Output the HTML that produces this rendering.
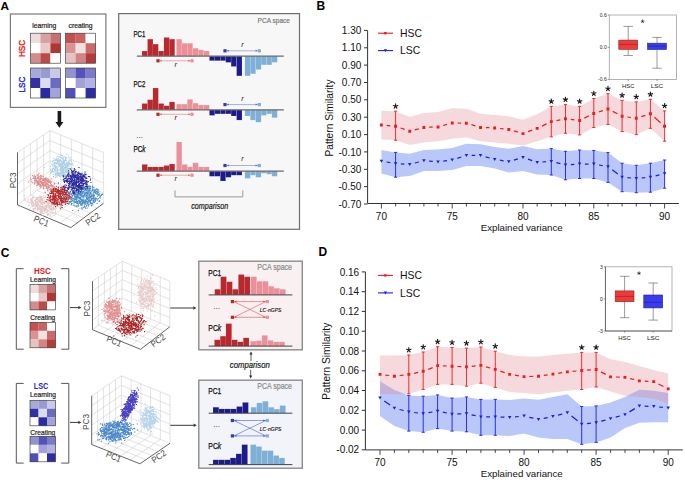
<!DOCTYPE html>
<html><head><meta charset="utf-8"><style>
html,body{margin:0;padding:0;background:#fff;}
svg{display:block;}
text{font-family:"Liberation Sans", sans-serif;}
</style></head><body>
<svg width="685" height="481" viewBox="0 0 685 481">
<rect width="685" height="481" fill="#fff"/>
<text x="0.6" y="9.6" font-size="11.8" fill="#000" text-anchor="start" font-weight="bold" >A</text>
<text x="316.6" y="9.9" font-size="12" fill="#000" text-anchor="start" font-weight="bold" >B</text>
<text x="0.8" y="257" font-size="12" fill="#000" text-anchor="start" font-weight="bold" >C</text>
<text x="318.5" y="256.2" font-size="12" fill="#000" text-anchor="start" font-weight="bold" >D</text>
<rect x="10.4" y="14" width="95.5" height="93.4" fill="#fff" stroke="#7a7a7a" stroke-width="1.2" />
<text x="44.2" y="28.4" font-size="7.2" fill="#1a1a1a" text-anchor="middle" stroke="#1a1a1a" stroke-width="0.2" textLength="24" lengthAdjust="spacingAndGlyphs" >learning</text>
<text x="80.6" y="28.4" font-size="7.2" fill="#1a1a1a" text-anchor="middle" stroke="#1a1a1a" stroke-width="0.2" textLength="24" lengthAdjust="spacingAndGlyphs" >creating</text>
<rect x="30.4" y="33.2" width="10.1" height="10.1" fill="#efdcdc" stroke="none" stroke-width="1" />
<rect x="40.4" y="33.2" width="10.1" height="10.1" fill="#d9a2a2" stroke="none" stroke-width="1" />
<rect x="50.4" y="33.2" width="10.1" height="10.1" fill="#c77272" stroke="none" stroke-width="1" />
<rect x="30.4" y="43.2" width="10.1" height="10.1" fill="#ffffff" stroke="none" stroke-width="1" />
<rect x="40.4" y="43.2" width="10.1" height="10.1" fill="#e8c9c9" stroke="none" stroke-width="1" />
<rect x="50.4" y="43.2" width="10.1" height="10.1" fill="#b03636" stroke="none" stroke-width="1" />
<rect x="30.4" y="53.2" width="10.1" height="10.1" fill="#d38c8c" stroke="none" stroke-width="1" />
<rect x="40.4" y="53.2" width="10.1" height="10.1" fill="#bb4a4a" stroke="none" stroke-width="1" />
<rect x="50.4" y="53.2" width="10.1" height="10.1" fill="#ffffff" stroke="none" stroke-width="1" />
<rect x="30.4" y="33.2" width="30" height="30" fill="none" stroke="#3a3a3a" stroke-width="0.65" />
<rect x="65.6" y="33.2" width="10.1" height="10.1" fill="#c25252" stroke="none" stroke-width="1" />
<rect x="75.6" y="33.2" width="10.1" height="10.1" fill="#c76363" stroke="none" stroke-width="1" />
<rect x="85.6" y="33.2" width="10.1" height="10.1" fill="#ffffff" stroke="none" stroke-width="1" />
<rect x="65.6" y="43.2" width="10.1" height="10.1" fill="#d89393" stroke="none" stroke-width="1" />
<rect x="75.6" y="43.2" width="10.1" height="10.1" fill="#f1e2e2" stroke="none" stroke-width="1" />
<rect x="85.6" y="43.2" width="10.1" height="10.1" fill="#c96b6b" stroke="none" stroke-width="1" />
<rect x="65.6" y="53.2" width="10.1" height="10.1" fill="#e7c2c2" stroke="none" stroke-width="1" />
<rect x="75.6" y="53.2" width="10.1" height="10.1" fill="#d28383" stroke="none" stroke-width="1" />
<rect x="85.6" y="53.2" width="10.1" height="10.1" fill="#b13c3c" stroke="none" stroke-width="1" />
<rect x="65.6" y="33.2" width="30" height="30" fill="none" stroke="#3a3a3a" stroke-width="0.65" />
<rect x="30.4" y="68" width="10.1" height="10.1" fill="#a9a9d9" stroke="none" stroke-width="1" />
<rect x="40.4" y="68" width="10.1" height="10.1" fill="#9a9ad2" stroke="none" stroke-width="1" />
<rect x="50.4" y="68" width="10.1" height="10.1" fill="#c9c9ea" stroke="none" stroke-width="1" />
<rect x="30.4" y="78" width="10.1" height="10.1" fill="#3131a2" stroke="none" stroke-width="1" />
<rect x="40.4" y="78" width="10.1" height="10.1" fill="#dcdcf1" stroke="none" stroke-width="1" />
<rect x="50.4" y="78" width="10.1" height="10.1" fill="#6a6ac2" stroke="none" stroke-width="1" />
<rect x="30.4" y="88" width="10.1" height="10.1" fill="#ffffff" stroke="none" stroke-width="1" />
<rect x="40.4" y="88" width="10.1" height="10.1" fill="#2b2ba1" stroke="none" stroke-width="1" />
<rect x="50.4" y="88" width="10.1" height="10.1" fill="#a3a3d8" stroke="none" stroke-width="1" />
<rect x="30.4" y="68" width="30" height="30" fill="none" stroke="#3a3a3a" stroke-width="0.65" />
<rect x="65.6" y="68" width="10.1" height="10.1" fill="#9292d1" stroke="none" stroke-width="1" />
<rect x="75.6" y="68" width="10.1" height="10.1" fill="#5252b9" stroke="none" stroke-width="1" />
<rect x="85.6" y="68" width="10.1" height="10.1" fill="#7a7ac9" stroke="none" stroke-width="1" />
<rect x="65.6" y="78" width="10.1" height="10.1" fill="#ffffff" stroke="none" stroke-width="1" />
<rect x="75.6" y="78" width="10.1" height="10.1" fill="#a2a2d9" stroke="none" stroke-width="1" />
<rect x="85.6" y="78" width="10.1" height="10.1" fill="#b3b3e1" stroke="none" stroke-width="1" />
<rect x="65.6" y="88" width="10.1" height="10.1" fill="#5050b8" stroke="none" stroke-width="1" />
<rect x="75.6" y="88" width="10.1" height="10.1" fill="#ffffff" stroke="none" stroke-width="1" />
<rect x="85.6" y="88" width="10.1" height="10.1" fill="#2d2da3" stroke="none" stroke-width="1" />
<rect x="65.6" y="68" width="30" height="30" fill="none" stroke="#3a3a3a" stroke-width="0.65" />
<text transform="translate(24.8,48.5) rotate(-90)" font-size="9.4" fill="#e41414" stroke="#e41414" stroke-width="0.35" text-anchor="middle" textLength="17" lengthAdjust="spacingAndGlyphs">HSC</text>
<text transform="translate(24.8,84.6) rotate(-90)" font-size="9.4" fill="#1a1ad8" stroke="#1a1ad8" stroke-width="0.35" text-anchor="middle" textLength="16" lengthAdjust="spacingAndGlyphs">LSC</text>
<path d="M57.6 111 L61.2 111 L61.2 122 L63.4 122 L59.4 127.8 L55.4 122 L57.6 122 Z" fill="#1a1a1a"/>
<line x1="24" y1="148" x2="24" y2="200.1" stroke="#c6c6c6" stroke-width="0.5" />
<line x1="17.5" y1="162.9" x2="50" y2="140.6" stroke="#c6c6c6" stroke-width="0.5" />
<line x1="30.5" y1="143.7" x2="30.5" y2="195.2" stroke="#c6c6c6" stroke-width="0.5" />
<line x1="17.5" y1="173.4" x2="50" y2="150.6" stroke="#c6c6c6" stroke-width="0.5" />
<line x1="37" y1="139.3" x2="37.1" y2="190.4" stroke="#c6c6c6" stroke-width="0.5" />
<line x1="17.5" y1="183.9" x2="50.1" y2="160.7" stroke="#c6c6c6" stroke-width="0.5" />
<line x1="43.5" y1="135" x2="43.6" y2="185.5" stroke="#c6c6c6" stroke-width="0.5" />
<line x1="17.5" y1="194.4" x2="50.1" y2="170.7" stroke="#c6c6c6" stroke-width="0.5" />
<line x1="60.7" y1="135" x2="60.8" y2="185.2" stroke="#c6c6c6" stroke-width="0.5" />
<line x1="50" y1="140.6" x2="103.4" y2="162.6" stroke="#c6c6c6" stroke-width="0.5" />
<line x1="71.4" y1="139.3" x2="71.4" y2="189.8" stroke="#c6c6c6" stroke-width="0.5" />
<line x1="50" y1="150.6" x2="103.4" y2="172.8" stroke="#c6c6c6" stroke-width="0.5" />
<line x1="82" y1="143.7" x2="82.1" y2="194.3" stroke="#c6c6c6" stroke-width="0.5" />
<line x1="50.1" y1="160.7" x2="103.4" y2="183" stroke="#c6c6c6" stroke-width="0.5" />
<line x1="92.7" y1="148" x2="92.7" y2="198.9" stroke="#c6c6c6" stroke-width="0.5" />
<line x1="50.1" y1="170.7" x2="103.4" y2="193.2" stroke="#c6c6c6" stroke-width="0.5" />
<line x1="24" y1="200.1" x2="77.3" y2="222.8" stroke="#c6c6c6" stroke-width="0.5" />
<line x1="60.8" y1="185.2" x2="28.2" y2="209.4" stroke="#c6c6c6" stroke-width="0.5" />
<line x1="30.5" y1="195.2" x2="83.8" y2="217.9" stroke="#c6c6c6" stroke-width="0.5" />
<line x1="71.4" y1="189.8" x2="38.8" y2="214" stroke="#c6c6c6" stroke-width="0.5" />
<line x1="37.1" y1="190.4" x2="90.4" y2="213.1" stroke="#c6c6c6" stroke-width="0.5" />
<line x1="82.1" y1="194.3" x2="49.5" y2="218.5" stroke="#c6c6c6" stroke-width="0.5" />
<line x1="43.6" y1="185.5" x2="96.9" y2="208.2" stroke="#c6c6c6" stroke-width="0.5" />
<line x1="92.7" y1="198.9" x2="60.1" y2="223.1" stroke="#c6c6c6" stroke-width="0.5" />
<line x1="17.5" y1="152.4" x2="50" y2="130.6" stroke="#cfcfcf" stroke-width="0.6" />
<line x1="50" y1="130.6" x2="103.4" y2="152.4" stroke="#cfcfcf" stroke-width="0.6" />
<line x1="50" y1="130.6" x2="50.1" y2="180.7" stroke="#cfcfcf" stroke-width="0.6" />
<line x1="50.1" y1="180.7" x2="17.5" y2="204.9" stroke="#cfcfcf" stroke-width="0.6" />
<line x1="50.1" y1="180.7" x2="103.4" y2="203.4" stroke="#cfcfcf" stroke-width="0.6" />
<line x1="103.4" y1="152.4" x2="103.4" y2="203.4" stroke="#cfcfcf" stroke-width="0.6" />
<line x1="17.5" y1="152.4" x2="17.5" y2="204.9" stroke="#555" stroke-width="0.9" />
<line x1="17.5" y1="204.9" x2="70.8" y2="227.6" stroke="#555" stroke-width="0.9" />
<line x1="70.8" y1="227.6" x2="103.4" y2="203.4" stroke="#555" stroke-width="0.9" />
<path d="M41.1 208.2h1.1v1.1h-1.1zM41.7 206.7h1.1v1.1h-1.1zM45.7 206.9h1.1v1.1h-1.1zM39.7 209.7h1.1v1.1h-1.1zM44.1 206.4h1.1v1.1h-1.1zM46.5 211.6h1.1v1.1h-1.1zM39.2 200.3h1.1v1.1h-1.1zM40.7 212.7h1.1v1.1h-1.1zM35.1 202.5h1.1v1.1h-1.1zM35.3 198.5h1.1v1.1h-1.1zM46.6 205.7h1.1v1.1h-1.1zM40.5 202.6h1.1v1.1h-1.1zM45.9 202.3h1.1v1.1h-1.1zM27.4 201.5h1.1v1.1h-1.1zM54.6 212.5h1.1v1.1h-1.1zM41.0 209.7h1.1v1.1h-1.1zM44.6 210.4h1.1v1.1h-1.1zM28.8 205.0h1.1v1.1h-1.1zM50.9 205.2h1.1v1.1h-1.1zM33.3 208.1h1.1v1.1h-1.1zM40.1 207.5h1.1v1.1h-1.1zM45.4 205.0h1.1v1.1h-1.1zM40.5 198.6h1.1v1.1h-1.1zM53.2 203.9h1.1v1.1h-1.1zM39.0 205.5h1.1v1.1h-1.1zM42.2 208.2h1.1v1.1h-1.1zM47.7 209.9h1.1v1.1h-1.1zM37.6 202.3h1.1v1.1h-1.1zM45.6 212.0h1.1v1.1h-1.1zM43.5 209.7h1.1v1.1h-1.1zM41.5 205.7h1.1v1.1h-1.1zM44.6 205.3h1.1v1.1h-1.1zM42.4 203.4h1.1v1.1h-1.1zM31.8 202.1h1.1v1.1h-1.1zM55.6 207.6h1.1v1.1h-1.1zM41.7 210.7h1.1v1.1h-1.1zM41.9 208.6h1.1v1.1h-1.1zM52.9 207.1h1.1v1.1h-1.1zM39.0 205.1h1.1v1.1h-1.1zM48.6 202.4h1.1v1.1h-1.1zM38.7 195.5h1.1v1.1h-1.1zM47.5 210.0h1.1v1.1h-1.1zM35.0 204.4h1.1v1.1h-1.1zM45.2 207.8h1.1v1.1h-1.1zM47.9 201.7h1.1v1.1h-1.1zM41.7 204.1h1.1v1.1h-1.1zM51.0 205.6h1.1v1.1h-1.1zM39.2 207.7h1.1v1.1h-1.1zM35.8 205.2h1.1v1.1h-1.1zM35.9 197.9h1.1v1.1h-1.1zM31.7 199.5h1.1v1.1h-1.1zM44.8 201.1h1.1v1.1h-1.1zM36.7 207.3h1.1v1.1h-1.1zM37.9 200.1h1.1v1.1h-1.1zM30.2 198.2h1.1v1.1h-1.1zM30.7 200.8h1.1v1.1h-1.1zM34.6 200.6h1.1v1.1h-1.1zM40.2 209.7h1.1v1.1h-1.1zM46.3 211.0h1.1v1.1h-1.1zM40.3 199.9h1.1v1.1h-1.1zM42.0 202.2h1.1v1.1h-1.1zM53.9 208.2h1.1v1.1h-1.1zM43.6 211.0h1.1v1.1h-1.1zM33.0 209.8h1.1v1.1h-1.1zM40.6 211.7h1.1v1.1h-1.1zM47.3 199.8h1.1v1.1h-1.1zM39.8 201.5h1.1v1.1h-1.1zM48.7 203.0h1.1v1.1h-1.1zM40.7 201.5h1.1v1.1h-1.1zM54.9 209.2h1.1v1.1h-1.1zM49.2 212.5h1.1v1.1h-1.1zM46.7 204.9h1.1v1.1h-1.1zM44.3 209.4h1.1v1.1h-1.1zM44.4 202.8h1.1v1.1h-1.1zM49.2 208.3h1.1v1.1h-1.1zM31.5 200.6h1.1v1.1h-1.1zM27.6 199.3h1.1v1.1h-1.1zM49.1 205.3h1.1v1.1h-1.1zM37.5 207.1h1.1v1.1h-1.1zM43.9 206.6h1.1v1.1h-1.1zM39.1 201.6h1.1v1.1h-1.1zM50.8 212.2h1.1v1.1h-1.1zM35.5 202.5h1.1v1.1h-1.1zM48.0 207.4h1.1v1.1h-1.1zM42.7 206.1h1.1v1.1h-1.1zM43.3 207.8h1.1v1.1h-1.1zM32.2 196.9h1.1v1.1h-1.1zM37.1 207.9h1.1v1.1h-1.1zM43.7 203.1h1.1v1.1h-1.1zM41.0 197.1h1.1v1.1h-1.1zM46.2 198.9h1.1v1.1h-1.1zM41.1 198.6h1.1v1.1h-1.1zM36.2 203.9h1.1v1.1h-1.1zM40.5 199.7h1.1v1.1h-1.1zM43.6 199.5h1.1v1.1h-1.1zM41.7 203.2h1.1v1.1h-1.1zM40.4 211.1h1.1v1.1h-1.1zM30.0 199.6h1.1v1.1h-1.1zM45.9 206.8h1.1v1.1h-1.1zM39.8 205.9h1.1v1.1h-1.1zM38.3 197.1h1.1v1.1h-1.1zM38.3 207.9h1.1v1.1h-1.1zM47.2 203.2h1.1v1.1h-1.1zM37.1 204.0h1.1v1.1h-1.1zM39.7 202.4h1.1v1.1h-1.1zM47.4 200.9h1.1v1.1h-1.1zM47.5 203.9h1.1v1.1h-1.1zM37.0 208.4h1.1v1.1h-1.1zM55.2 212.7h1.1v1.1h-1.1zM40.1 197.8h1.1v1.1h-1.1zM49.5 208.5h1.1v1.1h-1.1zM43.1 209.5h1.1v1.1h-1.1zM40.9 210.0h1.1v1.1h-1.1zM51.2 204.3h1.1v1.1h-1.1zM54.2 208.5h1.1v1.1h-1.1zM31.0 203.1h1.1v1.1h-1.1zM44.9 205.9h1.1v1.1h-1.1zM43.3 196.5h1.1v1.1h-1.1zM36.0 201.6h1.1v1.1h-1.1zM57.2 205.2h1.1v1.1h-1.1zM38.8 205.4h1.1v1.1h-1.1zM42.6 206.1h1.1v1.1h-1.1zM41.8 199.5h1.1v1.1h-1.1zM41.0 206.1h1.1v1.1h-1.1zM32.5 202.1h1.1v1.1h-1.1zM44.6 210.4h1.1v1.1h-1.1zM46.5 204.6h1.1v1.1h-1.1zM45.9 205.3h1.1v1.1h-1.1zM52.3 203.4h1.1v1.1h-1.1zM32.6 198.2h1.1v1.1h-1.1zM48.1 202.6h1.1v1.1h-1.1zM40.0 212.6h1.1v1.1h-1.1zM40.2 211.1h1.1v1.1h-1.1zM33.0 202.4h1.1v1.1h-1.1zM51.7 208.7h1.1v1.1h-1.1zM48.3 207.5h1.1v1.1h-1.1zM40.9 197.6h1.1v1.1h-1.1zM39.2 210.9h1.1v1.1h-1.1zM36.7 209.8h1.1v1.1h-1.1zM45.3 200.4h1.1v1.1h-1.1zM46.2 202.0h1.1v1.1h-1.1zM50.5 208.3h1.1v1.1h-1.1zM37.0 196.8h1.1v1.1h-1.1zM42.5 206.6h1.1v1.1h-1.1zM53.2 204.4h1.1v1.1h-1.1zM47.1 214.7h1.1v1.1h-1.1zM35.5 205.9h1.1v1.1h-1.1zM42.1 212.4h1.1v1.1h-1.1zM43.8 209.0h1.1v1.1h-1.1zM50.7 209.8h1.1v1.1h-1.1zM32.3 206.0h1.1v1.1h-1.1zM45.7 206.3h1.1v1.1h-1.1zM42.4 201.1h1.1v1.1h-1.1zM37.3 201.4h1.1v1.1h-1.1zM49.9 205.7h1.1v1.1h-1.1zM53.1 209.1h1.1v1.1h-1.1zM31.5 203.5h1.1v1.1h-1.1zM46.5 211.2h1.1v1.1h-1.1zM34.5 201.0h1.1v1.1h-1.1zM45.9 208.8h1.1v1.1h-1.1zM54.9 211.1h1.1v1.1h-1.1zM50.1 208.9h1.1v1.1h-1.1zM38.8 199.5h1.1v1.1h-1.1zM39.0 196.9h1.1v1.1h-1.1zM43.7 203.7h1.1v1.1h-1.1zM44.3 212.2h1.1v1.1h-1.1zM39.3 201.6h1.1v1.1h-1.1zM41.8 212.1h1.1v1.1h-1.1zM31.4 201.7h1.1v1.1h-1.1zM42.9 207.7h1.1v1.1h-1.1zM47.7 205.5h1.1v1.1h-1.1zM44.6 197.2h1.1v1.1h-1.1zM41.9 210.8h1.1v1.1h-1.1zM37.3 199.4h1.1v1.1h-1.1zM41.1 204.0h1.1v1.1h-1.1zM36.8 203.4h1.1v1.1h-1.1zM40.1 200.9h1.1v1.1h-1.1zM37.4 209.3h1.1v1.1h-1.1zM37.8 207.4h1.1v1.1h-1.1zM47.7 213.9h1.1v1.1h-1.1zM33.3 203.8h1.1v1.1h-1.1zM40.3 202.7h1.1v1.1h-1.1zM47.7 210.7h1.1v1.1h-1.1zM39.8 210.9h1.1v1.1h-1.1zM51.4 203.8h1.1v1.1h-1.1zM51.0 209.4h1.1v1.1h-1.1zM36.5 196.7h1.1v1.1h-1.1zM31.7 206.0h1.1v1.1h-1.1zM34.7 206.2h1.1v1.1h-1.1zM43.3 195.0h1.1v1.1h-1.1zM42.3 202.1h1.1v1.1h-1.1zM34.4 207.8h1.1v1.1h-1.1zM29.2 202.3h1.1v1.1h-1.1zM45.9 201.0h1.1v1.1h-1.1zM46.4 209.4h1.1v1.1h-1.1zM42.3 206.2h1.1v1.1h-1.1zM41.8 200.0h1.1v1.1h-1.1zM47.8 210.4h1.1v1.1h-1.1zM48.5 214.3h1.1v1.1h-1.1zM47.0 213.7h1.1v1.1h-1.1zM41.8 204.3h1.1v1.1h-1.1zM45.8 212.1h1.1v1.1h-1.1zM36.2 205.4h1.1v1.1h-1.1zM40.0 196.6h1.1v1.1h-1.1zM35.4 199.8h1.1v1.1h-1.1zM36.4 199.0h1.1v1.1h-1.1zM34.9 206.5h1.1v1.1h-1.1zM34.2 209.5h1.1v1.1h-1.1zM48.8 206.7h1.1v1.1h-1.1zM35.3 198.9h1.1v1.1h-1.1zM41.3 209.6h1.1v1.1h-1.1zM45.0 209.1h1.1v1.1h-1.1zM38.7 207.6h1.1v1.1h-1.1zM36.9 201.1h1.1v1.1h-1.1zM50.2 207.9h1.1v1.1h-1.1zM51.1 203.7h1.1v1.1h-1.1zM37.1 197.0h1.1v1.1h-1.1zM53.1 206.6h1.1v1.1h-1.1zM38.0 203.3h1.1v1.1h-1.1zM51.4 210.0h1.1v1.1h-1.1zM37.4 198.7h1.1v1.1h-1.1zM37.6 207.3h1.1v1.1h-1.1zM49.3 208.8h1.1v1.1h-1.1zM36.1 204.1h1.1v1.1h-1.1zM37.2 207.2h1.1v1.1h-1.1zM40.2 208.6h1.1v1.1h-1.1zM38.7 213.1h1.1v1.1h-1.1zM49.0 204.7h1.1v1.1h-1.1zM42.3 201.5h1.1v1.1h-1.1zM49.4 201.0h1.1v1.1h-1.1zM32.5 201.4h1.1v1.1h-1.1zM42.7 201.2h1.1v1.1h-1.1zM51.9 212.7h1.1v1.1h-1.1zM49.7 206.1h1.1v1.1h-1.1zM40.8 198.0h1.1v1.1h-1.1zM39.7 198.7h1.1v1.1h-1.1zM52.3 211.9h1.1v1.1h-1.1zM44.1 207.9h1.1v1.1h-1.1zM49.0 202.5h1.1v1.1h-1.1zM43.1 201.9h1.1v1.1h-1.1zM38.6 208.9h1.1v1.1h-1.1zM50.5 206.9h1.1v1.1h-1.1zM31.6 205.5h1.1v1.1h-1.1zM39.7 204.7h1.1v1.1h-1.1zM44.0 202.0h1.1v1.1h-1.1zM51.1 207.9h1.1v1.1h-1.1zM33.3 205.1h1.1v1.1h-1.1zM38.5 207.3h1.1v1.1h-1.1zM40.0 200.0h1.1v1.1h-1.1zM34.0 200.2h1.1v1.1h-1.1zM49.9 215.7h1.1v1.1h-1.1zM34.3 203.5h1.1v1.1h-1.1zM31.4 198.3h1.1v1.1h-1.1zM37.7 204.0h1.1v1.1h-1.1zM43.4 209.9h1.1v1.1h-1.1zM30.6 203.4h1.1v1.1h-1.1zM41.9 198.7h1.1v1.1h-1.1zM35.2 208.3h1.1v1.1h-1.1zM53.6 208.4h1.1v1.1h-1.1zM31.5 204.6h1.1v1.1h-1.1zM43.2 213.0h1.1v1.1h-1.1zM48.7 207.2h1.1v1.1h-1.1zM36.4 197.8h1.1v1.1h-1.1zM41.2 195.9h1.1v1.1h-1.1zM39.6 204.2h1.1v1.1h-1.1zM40.0 195.8h1.1v1.1h-1.1zM32.5 208.3h1.1v1.1h-1.1zM39.6 198.5h1.1v1.1h-1.1zM39.1 199.8h1.1v1.1h-1.1zM32.1 195.4h1.1v1.1h-1.1zM52.3 207.2h1.1v1.1h-1.1zM35.2 201.3h1.1v1.1h-1.1zM30.4 199.6h1.1v1.1h-1.1zM44.2 206.3h1.1v1.1h-1.1zM50.1 214.3h1.1v1.1h-1.1zM37.4 204.8h1.1v1.1h-1.1zM38.0 203.3h1.1v1.1h-1.1zM35.3 202.3h1.1v1.1h-1.1zM46.3 210.7h1.1v1.1h-1.1zM34.8 202.3h1.1v1.1h-1.1zM47.5 202.3h1.1v1.1h-1.1zM49.3 212.2h1.1v1.1h-1.1zM36.7 205.8h1.1v1.1h-1.1zM41.0 201.9h1.1v1.1h-1.1zM28.2 204.8h1.1v1.1h-1.1zM47.9 204.4h1.1v1.1h-1.1zM47.3 212.9h1.1v1.1h-1.1zM52.8 207.9h1.1v1.1h-1.1zM42.4 214.8h1.1v1.1h-1.1zM42.0 200.2h1.1v1.1h-1.1zM39.8 196.6h1.1v1.1h-1.1zM36.3 198.3h1.1v1.1h-1.1zM37.8 203.2h1.1v1.1h-1.1zM46.4 208.9h1.1v1.1h-1.1zM23.8 195.2h1.1v1.1h-1.1zM33.2 196.8h1.1v1.1h-1.1zM52.3 212.5h1.1v1.1h-1.1zM42.3 197.8h1.1v1.1h-1.1zM24.3 198.0h1.1v1.1h-1.1zM44.5 201.9h1.1v1.1h-1.1z" fill="#e3c5c5" opacity="1.0"/>
<path d="M39.8 183.5h1.1v1.1h-1.1zM36.8 184.4h1.1v1.1h-1.1zM33.3 176.6h1.1v1.1h-1.1zM37.5 181.1h1.1v1.1h-1.1zM49.9 185.7h1.1v1.1h-1.1zM44.6 182.1h1.1v1.1h-1.1zM37.5 174.1h1.1v1.1h-1.1zM37.5 175.3h1.1v1.1h-1.1zM41.1 177.8h1.1v1.1h-1.1zM50.1 184.9h1.1v1.1h-1.1zM47.7 179.8h1.1v1.1h-1.1zM34.9 178.1h1.1v1.1h-1.1zM51.0 185.3h1.1v1.1h-1.1zM47.5 179.8h1.1v1.1h-1.1zM51.4 185.5h1.1v1.1h-1.1zM42.4 183.2h1.1v1.1h-1.1zM45.8 182.6h1.1v1.1h-1.1zM42.7 179.0h1.1v1.1h-1.1zM45.6 177.3h1.1v1.1h-1.1zM39.2 176.2h1.1v1.1h-1.1zM50.0 181.8h1.1v1.1h-1.1zM48.1 187.2h1.1v1.1h-1.1zM38.4 179.4h1.1v1.1h-1.1zM39.4 179.4h1.1v1.1h-1.1zM40.8 175.5h1.1v1.1h-1.1zM49.9 181.2h1.1v1.1h-1.1zM38.3 172.8h1.1v1.1h-1.1zM44.0 179.0h1.1v1.1h-1.1zM38.3 182.1h1.1v1.1h-1.1zM39.9 181.4h1.1v1.1h-1.1zM53.1 176.1h1.1v1.1h-1.1zM39.7 177.5h1.1v1.1h-1.1zM45.4 180.2h1.1v1.1h-1.1zM43.3 188.1h1.1v1.1h-1.1zM40.0 178.6h1.1v1.1h-1.1zM47.3 177.8h1.1v1.1h-1.1zM43.7 185.6h1.1v1.1h-1.1zM34.7 179.7h1.1v1.1h-1.1zM39.8 177.7h1.1v1.1h-1.1zM42.7 182.9h1.1v1.1h-1.1zM36.6 174.6h1.1v1.1h-1.1zM42.0 180.2h1.1v1.1h-1.1zM33.8 177.9h1.1v1.1h-1.1zM45.2 177.6h1.1v1.1h-1.1zM45.1 185.4h1.1v1.1h-1.1zM48.9 181.0h1.1v1.1h-1.1zM39.4 177.9h1.1v1.1h-1.1zM35.1 175.7h1.1v1.1h-1.1zM39.7 181.1h1.1v1.1h-1.1zM51.0 184.3h1.1v1.1h-1.1zM43.9 179.5h1.1v1.1h-1.1zM46.0 180.2h1.1v1.1h-1.1zM41.3 177.6h1.1v1.1h-1.1zM38.1 182.5h1.1v1.1h-1.1zM44.9 184.8h1.1v1.1h-1.1zM42.7 185.1h1.1v1.1h-1.1zM49.5 180.3h1.1v1.1h-1.1zM50.1 182.5h1.1v1.1h-1.1zM47.5 180.4h1.1v1.1h-1.1zM51.7 188.7h1.1v1.1h-1.1zM39.3 186.0h1.1v1.1h-1.1zM37.3 183.6h1.1v1.1h-1.1zM51.7 190.5h1.1v1.1h-1.1zM37.1 180.7h1.1v1.1h-1.1zM53.9 186.3h1.1v1.1h-1.1zM42.4 183.4h1.1v1.1h-1.1zM51.5 185.7h1.1v1.1h-1.1zM43.4 179.1h1.1v1.1h-1.1zM43.3 187.9h1.1v1.1h-1.1zM44.2 180.4h1.1v1.1h-1.1zM35.3 177.6h1.1v1.1h-1.1zM49.4 180.8h1.1v1.1h-1.1zM27.9 181.4h1.1v1.1h-1.1zM47.7 179.1h1.1v1.1h-1.1zM40.3 183.6h1.1v1.1h-1.1zM31.6 181.9h1.1v1.1h-1.1zM48.9 186.8h1.1v1.1h-1.1zM45.4 179.9h1.1v1.1h-1.1zM47.6 182.1h1.1v1.1h-1.1zM52.4 186.7h1.1v1.1h-1.1zM40.4 185.6h1.1v1.1h-1.1zM47.4 183.8h1.1v1.1h-1.1zM49.8 187.9h1.1v1.1h-1.1zM36.3 179.9h1.1v1.1h-1.1zM47.5 188.1h1.1v1.1h-1.1zM45.1 179.7h1.1v1.1h-1.1zM29.4 180.4h1.1v1.1h-1.1zM43.3 179.4h1.1v1.1h-1.1zM53.9 183.6h1.1v1.1h-1.1zM50.3 185.7h1.1v1.1h-1.1zM33.9 180.2h1.1v1.1h-1.1zM37.9 181.2h1.1v1.1h-1.1zM54.0 182.8h1.1v1.1h-1.1zM49.8 184.7h1.1v1.1h-1.1zM33.1 177.5h1.1v1.1h-1.1zM31.2 180.7h1.1v1.1h-1.1zM45.7 185.9h1.1v1.1h-1.1zM35.5 180.0h1.1v1.1h-1.1zM39.3 184.3h1.1v1.1h-1.1zM31.9 175.0h1.1v1.1h-1.1zM41.2 185.3h1.1v1.1h-1.1zM36.7 181.0h1.1v1.1h-1.1zM35.3 181.7h1.1v1.1h-1.1zM37.9 178.1h1.1v1.1h-1.1zM45.5 179.6h1.1v1.1h-1.1zM48.0 184.6h1.1v1.1h-1.1zM42.7 188.1h1.1v1.1h-1.1zM38.7 182.3h1.1v1.1h-1.1zM34.5 176.5h1.1v1.1h-1.1zM48.1 180.4h1.1v1.1h-1.1zM46.7 183.4h1.1v1.1h-1.1zM39.3 177.5h1.1v1.1h-1.1zM36.6 181.0h1.1v1.1h-1.1zM33.7 182.4h1.1v1.1h-1.1zM48.2 181.3h1.1v1.1h-1.1zM49.1 189.0h1.1v1.1h-1.1zM37.9 184.3h1.1v1.1h-1.1zM30.8 178.9h1.1v1.1h-1.1zM53.5 183.4h1.1v1.1h-1.1zM32.4 178.0h1.1v1.1h-1.1zM34.2 182.7h1.1v1.1h-1.1zM34.0 179.7h1.1v1.1h-1.1zM46.3 179.6h1.1v1.1h-1.1zM37.6 183.9h1.1v1.1h-1.1zM54.4 187.0h1.1v1.1h-1.1zM42.5 175.8h1.1v1.1h-1.1zM43.4 184.5h1.1v1.1h-1.1zM39.9 187.4h1.1v1.1h-1.1zM42.1 179.5h1.1v1.1h-1.1zM44.1 180.6h1.1v1.1h-1.1zM39.8 177.8h1.1v1.1h-1.1zM37.7 175.6h1.1v1.1h-1.1zM45.4 184.6h1.1v1.1h-1.1zM42.6 184.1h1.1v1.1h-1.1zM41.7 182.9h1.1v1.1h-1.1zM42.0 184.6h1.1v1.1h-1.1zM37.3 177.9h1.1v1.1h-1.1zM46.9 181.0h1.1v1.1h-1.1zM43.3 182.3h1.1v1.1h-1.1zM47.9 178.9h1.1v1.1h-1.1zM29.9 177.6h1.1v1.1h-1.1zM39.1 183.5h1.1v1.1h-1.1zM42.8 186.7h1.1v1.1h-1.1zM37.4 183.5h1.1v1.1h-1.1zM41.1 180.9h1.1v1.1h-1.1zM41.7 184.0h1.1v1.1h-1.1zM40.4 177.2h1.1v1.1h-1.1zM36.0 184.9h1.1v1.1h-1.1zM44.7 179.1h1.1v1.1h-1.1zM45.9 182.2h1.1v1.1h-1.1zM37.7 182.5h1.1v1.1h-1.1zM37.1 177.0h1.1v1.1h-1.1zM44.2 180.5h1.1v1.1h-1.1zM43.3 177.8h1.1v1.1h-1.1zM41.0 181.3h1.1v1.1h-1.1zM39.6 179.6h1.1v1.1h-1.1zM41.2 183.0h1.1v1.1h-1.1zM45.5 178.6h1.1v1.1h-1.1zM50.6 181.3h1.1v1.1h-1.1zM37.9 176.1h1.1v1.1h-1.1zM39.9 178.9h1.1v1.1h-1.1zM43.6 182.1h1.1v1.1h-1.1zM44.6 183.5h1.1v1.1h-1.1zM40.2 180.8h1.1v1.1h-1.1zM47.5 180.9h1.1v1.1h-1.1zM41.1 175.3h1.1v1.1h-1.1zM52.3 187.2h1.1v1.1h-1.1zM51.2 187.5h1.1v1.1h-1.1zM49.5 184.9h1.1v1.1h-1.1zM37.1 182.2h1.1v1.1h-1.1zM39.9 174.8h1.1v1.1h-1.1zM45.8 184.3h1.1v1.1h-1.1zM50.2 189.1h1.1v1.1h-1.1zM32.2 175.4h1.1v1.1h-1.1zM47.9 185.9h1.1v1.1h-1.1zM46.6 187.7h1.1v1.1h-1.1zM34.7 178.7h1.1v1.1h-1.1zM43.6 182.2h1.1v1.1h-1.1zM33.7 175.2h1.1v1.1h-1.1zM34.3 180.0h1.1v1.1h-1.1zM38.3 182.6h1.1v1.1h-1.1zM40.5 178.0h1.1v1.1h-1.1zM44.8 184.5h1.1v1.1h-1.1zM45.5 180.8h1.1v1.1h-1.1zM47.5 187.4h1.1v1.1h-1.1zM49.8 183.0h1.1v1.1h-1.1zM40.6 178.5h1.1v1.1h-1.1zM46.3 179.1h1.1v1.1h-1.1zM51.1 178.3h1.1v1.1h-1.1zM44.4 178.1h1.1v1.1h-1.1zM37.1 181.9h1.1v1.1h-1.1zM51.3 184.7h1.1v1.1h-1.1zM50.8 181.6h1.1v1.1h-1.1zM38.4 183.6h1.1v1.1h-1.1zM34.2 180.5h1.1v1.1h-1.1zM47.3 189.0h1.1v1.1h-1.1zM35.3 179.9h1.1v1.1h-1.1zM40.3 181.9h1.1v1.1h-1.1zM42.9 184.1h1.1v1.1h-1.1zM37.9 182.0h1.1v1.1h-1.1zM54.1 182.8h1.1v1.1h-1.1zM42.9 179.8h1.1v1.1h-1.1zM33.7 174.7h1.1v1.1h-1.1zM34.3 182.3h1.1v1.1h-1.1zM47.3 185.4h1.1v1.1h-1.1zM36.0 178.5h1.1v1.1h-1.1zM50.4 181.3h1.1v1.1h-1.1zM45.4 185.2h1.1v1.1h-1.1zM39.7 184.7h1.1v1.1h-1.1zM43.9 184.7h1.1v1.1h-1.1zM38.3 180.4h1.1v1.1h-1.1zM41.6 179.7h1.1v1.1h-1.1zM51.9 185.6h1.1v1.1h-1.1zM49.2 185.4h1.1v1.1h-1.1zM38.9 184.2h1.1v1.1h-1.1zM40.5 175.8h1.1v1.1h-1.1zM46.1 185.8h1.1v1.1h-1.1zM45.3 178.2h1.1v1.1h-1.1zM44.2 181.7h1.1v1.1h-1.1zM43.9 179.4h1.1v1.1h-1.1zM42.9 185.1h1.1v1.1h-1.1zM46.3 184.5h1.1v1.1h-1.1zM40.5 187.2h1.1v1.1h-1.1zM35.0 177.2h1.1v1.1h-1.1zM42.4 182.0h1.1v1.1h-1.1zM46.1 182.6h1.1v1.1h-1.1zM35.0 180.2h1.1v1.1h-1.1zM40.8 182.0h1.1v1.1h-1.1zM39.3 180.5h1.1v1.1h-1.1zM39.9 178.8h1.1v1.1h-1.1zM42.1 182.0h1.1v1.1h-1.1zM45.5 187.8h1.1v1.1h-1.1zM46.2 186.6h1.1v1.1h-1.1zM52.3 185.1h1.1v1.1h-1.1zM37.0 177.6h1.1v1.1h-1.1zM49.2 181.8h1.1v1.1h-1.1zM41.7 178.1h1.1v1.1h-1.1zM36.7 182.8h1.1v1.1h-1.1zM36.0 180.3h1.1v1.1h-1.1zM40.9 181.6h1.1v1.1h-1.1zM39.2 179.2h1.1v1.1h-1.1zM39.4 184.6h1.1v1.1h-1.1zM50.7 183.9h1.1v1.1h-1.1zM45.0 183.2h1.1v1.1h-1.1zM47.9 186.2h1.1v1.1h-1.1zM46.4 182.7h1.1v1.1h-1.1zM40.4 181.1h1.1v1.1h-1.1zM43.2 186.3h1.1v1.1h-1.1zM48.4 179.2h1.1v1.1h-1.1zM34.9 176.8h1.1v1.1h-1.1zM34.2 183.6h1.1v1.1h-1.1zM43.1 183.4h1.1v1.1h-1.1zM37.1 184.1h1.1v1.1h-1.1zM52.7 186.1h1.1v1.1h-1.1zM37.9 176.7h1.1v1.1h-1.1zM47.8 186.7h1.1v1.1h-1.1zM34.3 175.9h1.1v1.1h-1.1zM36.5 181.8h1.1v1.1h-1.1zM46.6 179.7h1.1v1.1h-1.1zM39.9 184.8h1.1v1.1h-1.1z" fill="#de8e8e" opacity="1.0"/>
<path d="M50.0 172.3h1.1v1.1h-1.1zM63.0 175.6h1.1v1.1h-1.1zM68.9 173.4h1.1v1.1h-1.1zM58.3 165.9h1.1v1.1h-1.1zM62.1 173.4h1.1v1.1h-1.1zM54.0 165.2h1.1v1.1h-1.1zM56.9 174.7h1.1v1.1h-1.1zM59.4 162.9h1.1v1.1h-1.1zM52.5 171.1h1.1v1.1h-1.1zM61.1 173.2h1.1v1.1h-1.1zM62.6 159.1h1.1v1.1h-1.1zM58.5 164.3h1.1v1.1h-1.1zM60.1 159.9h1.1v1.1h-1.1zM62.4 163.4h1.1v1.1h-1.1zM54.4 161.5h1.1v1.1h-1.1zM66.3 153.7h1.1v1.1h-1.1zM60.8 168.4h1.1v1.1h-1.1zM65.0 165.6h1.1v1.1h-1.1zM62.2 162.9h1.1v1.1h-1.1zM69.6 156.9h1.1v1.1h-1.1zM66.8 169.0h1.1v1.1h-1.1zM71.0 167.6h1.1v1.1h-1.1zM58.6 169.7h1.1v1.1h-1.1zM67.1 174.8h1.1v1.1h-1.1zM52.9 171.7h1.1v1.1h-1.1zM67.6 162.6h1.1v1.1h-1.1zM61.0 169.1h1.1v1.1h-1.1zM59.1 166.0h1.1v1.1h-1.1zM55.4 162.5h1.1v1.1h-1.1zM58.3 170.0h1.1v1.1h-1.1zM56.6 171.1h1.1v1.1h-1.1zM52.6 160.0h1.1v1.1h-1.1zM62.9 168.8h1.1v1.1h-1.1zM61.7 168.1h1.1v1.1h-1.1zM58.7 165.4h1.1v1.1h-1.1zM66.4 161.4h1.1v1.1h-1.1zM55.0 159.1h1.1v1.1h-1.1zM52.6 168.0h1.1v1.1h-1.1zM56.3 169.6h1.1v1.1h-1.1zM51.8 168.6h1.1v1.1h-1.1zM64.7 174.0h1.1v1.1h-1.1zM63.6 160.8h1.1v1.1h-1.1zM55.9 159.7h1.1v1.1h-1.1zM55.3 173.8h1.1v1.1h-1.1zM61.7 168.1h1.1v1.1h-1.1zM60.9 167.8h1.1v1.1h-1.1zM54.8 168.1h1.1v1.1h-1.1zM58.7 163.3h1.1v1.1h-1.1zM56.9 172.5h1.1v1.1h-1.1zM63.9 175.7h1.1v1.1h-1.1zM63.2 163.5h1.1v1.1h-1.1zM53.2 171.4h1.1v1.1h-1.1zM55.1 170.8h1.1v1.1h-1.1zM54.2 161.5h1.1v1.1h-1.1zM64.3 163.4h1.1v1.1h-1.1zM58.3 160.4h1.1v1.1h-1.1zM54.4 165.5h1.1v1.1h-1.1zM56.6 161.8h1.1v1.1h-1.1zM50.1 168.6h1.1v1.1h-1.1zM64.1 160.1h1.1v1.1h-1.1zM58.1 159.5h1.1v1.1h-1.1zM62.1 170.1h1.1v1.1h-1.1zM60.7 154.7h1.1v1.1h-1.1zM63.2 166.6h1.1v1.1h-1.1zM63.6 160.5h1.1v1.1h-1.1zM70.3 168.9h1.1v1.1h-1.1zM58.9 176.0h1.1v1.1h-1.1zM67.1 165.4h1.1v1.1h-1.1zM59.4 174.2h1.1v1.1h-1.1zM54.1 166.4h1.1v1.1h-1.1zM66.6 162.4h1.1v1.1h-1.1zM56.4 163.4h1.1v1.1h-1.1zM55.1 159.6h1.1v1.1h-1.1zM50.1 170.5h1.1v1.1h-1.1zM64.3 168.6h1.1v1.1h-1.1zM51.9 161.4h1.1v1.1h-1.1zM62.1 174.5h1.1v1.1h-1.1zM62.7 165.8h1.1v1.1h-1.1zM56.5 169.6h1.1v1.1h-1.1zM65.4 169.8h1.1v1.1h-1.1zM58.8 173.6h1.1v1.1h-1.1zM66.7 173.9h1.1v1.1h-1.1zM65.5 158.1h1.1v1.1h-1.1zM59.7 164.5h1.1v1.1h-1.1zM62.6 162.8h1.1v1.1h-1.1zM69.5 172.7h1.1v1.1h-1.1zM55.6 172.7h1.1v1.1h-1.1zM64.8 169.5h1.1v1.1h-1.1zM66.6 166.8h1.1v1.1h-1.1zM64.3 179.3h1.1v1.1h-1.1zM68.5 164.2h1.1v1.1h-1.1zM60.6 163.5h1.1v1.1h-1.1zM58.8 163.6h1.1v1.1h-1.1zM61.3 168.9h1.1v1.1h-1.1zM64.1 174.3h1.1v1.1h-1.1zM61.4 173.4h1.1v1.1h-1.1zM68.5 164.2h1.1v1.1h-1.1zM67.4 173.0h1.1v1.1h-1.1zM63.8 174.0h1.1v1.1h-1.1zM57.7 173.1h1.1v1.1h-1.1zM43.9 167.1h1.1v1.1h-1.1zM53.9 162.5h1.1v1.1h-1.1zM59.4 168.5h1.1v1.1h-1.1zM63.4 167.6h1.1v1.1h-1.1zM62.8 161.3h1.1v1.1h-1.1zM61.8 163.8h1.1v1.1h-1.1zM56.5 174.3h1.1v1.1h-1.1zM67.8 165.4h1.1v1.1h-1.1zM59.7 159.8h1.1v1.1h-1.1zM68.2 170.4h1.1v1.1h-1.1zM63.4 156.7h1.1v1.1h-1.1zM58.7 156.8h1.1v1.1h-1.1zM61.1 165.0h1.1v1.1h-1.1zM70.7 167.8h1.1v1.1h-1.1zM70.9 160.7h1.1v1.1h-1.1zM56.5 160.0h1.1v1.1h-1.1zM59.0 175.9h1.1v1.1h-1.1zM69.9 164.2h1.1v1.1h-1.1zM59.3 173.5h1.1v1.1h-1.1zM58.5 156.3h1.1v1.1h-1.1zM56.6 158.7h1.1v1.1h-1.1zM53.3 157.8h1.1v1.1h-1.1zM62.0 166.5h1.1v1.1h-1.1zM61.9 161.6h1.1v1.1h-1.1zM61.2 171.7h1.1v1.1h-1.1zM62.9 170.6h1.1v1.1h-1.1zM65.2 164.7h1.1v1.1h-1.1zM62.2 172.6h1.1v1.1h-1.1zM65.1 163.4h1.1v1.1h-1.1zM68.7 168.2h1.1v1.1h-1.1zM66.8 173.0h1.1v1.1h-1.1zM64.5 163.8h1.1v1.1h-1.1zM68.7 160.0h1.1v1.1h-1.1zM55.6 166.2h1.1v1.1h-1.1zM54.5 174.6h1.1v1.1h-1.1zM53.9 162.3h1.1v1.1h-1.1zM67.4 169.5h1.1v1.1h-1.1zM61.1 157.3h1.1v1.1h-1.1zM60.1 169.6h1.1v1.1h-1.1zM53.4 159.7h1.1v1.1h-1.1zM57.7 174.9h1.1v1.1h-1.1zM67.8 164.4h1.1v1.1h-1.1zM68.6 166.1h1.1v1.1h-1.1zM52.8 163.7h1.1v1.1h-1.1zM52.1 165.0h1.1v1.1h-1.1zM56.9 172.2h1.1v1.1h-1.1zM66.1 165.6h1.1v1.1h-1.1zM58.2 174.6h1.1v1.1h-1.1zM55.1 177.0h1.1v1.1h-1.1zM53.0 168.2h1.1v1.1h-1.1zM63.4 173.0h1.1v1.1h-1.1zM62.9 160.8h1.1v1.1h-1.1zM59.3 174.0h1.1v1.1h-1.1zM65.6 160.0h1.1v1.1h-1.1zM61.2 166.9h1.1v1.1h-1.1zM52.9 174.0h1.1v1.1h-1.1zM68.7 163.7h1.1v1.1h-1.1zM66.2 165.9h1.1v1.1h-1.1zM56.6 170.0h1.1v1.1h-1.1zM56.3 159.4h1.1v1.1h-1.1zM54.1 168.6h1.1v1.1h-1.1zM56.8 168.6h1.1v1.1h-1.1zM63.0 161.7h1.1v1.1h-1.1zM69.3 159.2h1.1v1.1h-1.1zM62.8 162.2h1.1v1.1h-1.1zM61.2 168.3h1.1v1.1h-1.1zM60.0 167.2h1.1v1.1h-1.1zM65.8 162.9h1.1v1.1h-1.1zM61.6 168.6h1.1v1.1h-1.1zM67.1 168.9h1.1v1.1h-1.1zM61.4 163.0h1.1v1.1h-1.1zM57.8 172.3h1.1v1.1h-1.1zM68.5 160.1h1.1v1.1h-1.1zM69.9 169.2h1.1v1.1h-1.1zM57.6 159.4h1.1v1.1h-1.1zM63.8 171.8h1.1v1.1h-1.1zM55.6 175.7h1.1v1.1h-1.1zM52.0 169.8h1.1v1.1h-1.1zM64.2 175.5h1.1v1.1h-1.1zM54.4 165.2h1.1v1.1h-1.1zM63.1 173.8h1.1v1.1h-1.1zM69.5 163.4h1.1v1.1h-1.1zM60.9 165.6h1.1v1.1h-1.1zM57.0 168.8h1.1v1.1h-1.1zM58.1 171.9h1.1v1.1h-1.1zM63.9 161.4h1.1v1.1h-1.1zM64.7 158.7h1.1v1.1h-1.1zM54.2 169.8h1.1v1.1h-1.1zM60.4 167.3h1.1v1.1h-1.1zM56.2 158.9h1.1v1.1h-1.1zM54.8 173.1h1.1v1.1h-1.1zM65.8 174.5h1.1v1.1h-1.1zM62.6 156.9h1.1v1.1h-1.1zM55.2 174.2h1.1v1.1h-1.1zM61.7 172.2h1.1v1.1h-1.1zM56.0 165.7h1.1v1.1h-1.1zM58.3 161.9h1.1v1.1h-1.1zM65.9 166.8h1.1v1.1h-1.1zM60.6 175.1h1.1v1.1h-1.1zM67.5 168.1h1.1v1.1h-1.1zM62.9 170.8h1.1v1.1h-1.1zM63.9 164.6h1.1v1.1h-1.1zM64.1 167.0h1.1v1.1h-1.1zM57.8 158.0h1.1v1.1h-1.1zM65.4 171.0h1.1v1.1h-1.1zM61.0 164.7h1.1v1.1h-1.1zM67.7 172.3h1.1v1.1h-1.1zM62.8 161.1h1.1v1.1h-1.1zM56.0 162.8h1.1v1.1h-1.1zM62.0 176.1h1.1v1.1h-1.1zM62.7 159.9h1.1v1.1h-1.1zM56.6 167.9h1.1v1.1h-1.1zM68.2 171.0h1.1v1.1h-1.1zM58.9 172.9h1.1v1.1h-1.1zM71.6 167.6h1.1v1.1h-1.1zM53.5 164.2h1.1v1.1h-1.1zM56.7 155.7h1.1v1.1h-1.1zM68.0 155.5h1.1v1.1h-1.1zM61.4 165.1h1.1v1.1h-1.1zM60.6 173.1h1.1v1.1h-1.1zM54.8 169.2h1.1v1.1h-1.1zM65.7 160.0h1.1v1.1h-1.1zM62.7 165.1h1.1v1.1h-1.1zM59.4 172.6h1.1v1.1h-1.1zM57.1 168.6h1.1v1.1h-1.1zM57.4 174.2h1.1v1.1h-1.1zM53.7 163.3h1.1v1.1h-1.1zM57.9 159.5h1.1v1.1h-1.1zM60.8 161.2h1.1v1.1h-1.1zM62.8 170.1h1.1v1.1h-1.1zM63.7 162.6h1.1v1.1h-1.1zM60.8 170.0h1.1v1.1h-1.1zM56.7 161.3h1.1v1.1h-1.1zM62.6 168.2h1.1v1.1h-1.1zM51.2 170.4h1.1v1.1h-1.1zM60.1 171.2h1.1v1.1h-1.1zM54.8 169.2h1.1v1.1h-1.1zM62.3 168.9h1.1v1.1h-1.1zM64.6 159.5h1.1v1.1h-1.1zM62.0 163.5h1.1v1.1h-1.1zM64.2 170.2h1.1v1.1h-1.1zM57.1 161.1h1.1v1.1h-1.1zM61.3 166.3h1.1v1.1h-1.1zM65.1 175.2h1.1v1.1h-1.1zM64.3 171.8h1.1v1.1h-1.1zM61.7 164.1h1.1v1.1h-1.1zM56.3 172.5h1.1v1.1h-1.1zM58.3 159.7h1.1v1.1h-1.1zM66.5 171.9h1.1v1.1h-1.1zM56.3 167.8h1.1v1.1h-1.1zM68.2 168.6h1.1v1.1h-1.1zM61.8 167.6h1.1v1.1h-1.1zM71.5 164.1h1.1v1.1h-1.1zM61.4 171.8h1.1v1.1h-1.1zM60.0 175.7h1.1v1.1h-1.1zM55.0 167.2h1.1v1.1h-1.1zM68.0 173.9h1.1v1.1h-1.1zM55.9 157.4h1.1v1.1h-1.1zM61.1 173.1h1.1v1.1h-1.1zM65.1 156.7h1.1v1.1h-1.1zM61.3 162.4h1.1v1.1h-1.1zM66.6 170.7h1.1v1.1h-1.1zM58.8 161.1h1.1v1.1h-1.1zM68.2 168.1h1.1v1.1h-1.1zM66.5 164.0h1.1v1.1h-1.1zM62.0 163.5h1.1v1.1h-1.1zM64.8 167.8h1.1v1.1h-1.1zM66.8 167.8h1.1v1.1h-1.1zM54.7 162.8h1.1v1.1h-1.1zM65.0 170.4h1.1v1.1h-1.1zM65.9 172.0h1.1v1.1h-1.1zM59.7 171.5h1.1v1.1h-1.1zM68.2 161.5h1.1v1.1h-1.1zM70.0 163.7h1.1v1.1h-1.1zM61.0 170.8h1.1v1.1h-1.1zM51.2 163.6h1.1v1.1h-1.1zM61.9 168.6h1.1v1.1h-1.1zM71.7 163.0h1.1v1.1h-1.1zM57.3 166.5h1.1v1.1h-1.1zM58.9 173.6h1.1v1.1h-1.1zM56.4 162.0h1.1v1.1h-1.1zM52.6 167.4h1.1v1.1h-1.1zM65.2 166.6h1.1v1.1h-1.1zM63.6 172.3h1.1v1.1h-1.1zM60.6 160.2h1.1v1.1h-1.1zM62.7 171.7h1.1v1.1h-1.1zM52.3 168.5h1.1v1.1h-1.1zM55.0 164.7h1.1v1.1h-1.1zM60.6 168.6h1.1v1.1h-1.1zM67.6 163.0h1.1v1.1h-1.1zM58.5 156.3h1.1v1.1h-1.1zM62.7 173.0h1.1v1.1h-1.1zM56.1 162.6h1.1v1.1h-1.1zM61.5 167.1h1.1v1.1h-1.1zM62.0 172.0h1.1v1.1h-1.1zM68.8 174.5h1.1v1.1h-1.1zM54.4 166.4h1.1v1.1h-1.1zM65.6 169.3h1.1v1.1h-1.1zM59.2 160.7h1.1v1.1h-1.1zM56.4 167.0h1.1v1.1h-1.1zM65.2 172.5h1.1v1.1h-1.1zM62.5 158.0h1.1v1.1h-1.1zM58.9 159.3h1.1v1.1h-1.1zM58.1 162.9h1.1v1.1h-1.1zM66.8 173.7h1.1v1.1h-1.1zM49.9 166.0h1.1v1.1h-1.1zM56.9 160.0h1.1v1.1h-1.1zM58.8 175.5h1.1v1.1h-1.1zM65.1 157.4h1.1v1.1h-1.1zM61.2 173.0h1.1v1.1h-1.1zM65.1 171.5h1.1v1.1h-1.1zM67.1 163.8h1.1v1.1h-1.1zM52.4 165.7h1.1v1.1h-1.1zM61.7 168.7h1.1v1.1h-1.1zM56.1 163.4h1.1v1.1h-1.1zM65.3 159.3h1.1v1.1h-1.1zM57.8 163.8h1.1v1.1h-1.1zM71.5 170.7h1.1v1.1h-1.1zM57.2 160.3h1.1v1.1h-1.1zM62.1 170.6h1.1v1.1h-1.1zM66.4 169.3h1.1v1.1h-1.1zM65.0 167.8h1.1v1.1h-1.1zM64.4 175.4h1.1v1.1h-1.1zM61.3 179.5h1.1v1.1h-1.1zM70.3 160.5h1.1v1.1h-1.1zM59.3 172.6h1.1v1.1h-1.1zM64.8 174.5h1.1v1.1h-1.1zM62.0 171.9h1.1v1.1h-1.1zM64.2 161.0h1.1v1.1h-1.1zM64.8 171.1h1.1v1.1h-1.1zM72.7 165.0h1.1v1.1h-1.1zM56.8 176.7h1.1v1.1h-1.1zM58.0 171.9h1.1v1.1h-1.1zM68.3 161.7h1.1v1.1h-1.1zM64.1 176.2h1.1v1.1h-1.1zM60.3 156.7h1.1v1.1h-1.1zM61.2 166.8h1.1v1.1h-1.1zM56.8 173.8h1.1v1.1h-1.1zM68.3 163.3h1.1v1.1h-1.1zM64.2 164.3h1.1v1.1h-1.1zM62.1 159.2h1.1v1.1h-1.1zM67.6 172.6h1.1v1.1h-1.1zM66.8 170.9h1.1v1.1h-1.1zM61.6 155.2h1.1v1.1h-1.1zM50.8 172.0h1.1v1.1h-1.1zM59.2 163.7h1.1v1.1h-1.1zM54.3 166.6h1.1v1.1h-1.1zM57.0 170.6h1.1v1.1h-1.1zM60.0 167.2h1.1v1.1h-1.1zM59.7 165.5h1.1v1.1h-1.1zM58.6 169.4h1.1v1.1h-1.1zM66.1 162.3h1.1v1.1h-1.1zM63.5 167.6h1.1v1.1h-1.1zM63.3 172.8h1.1v1.1h-1.1zM70.5 163.3h1.1v1.1h-1.1zM68.1 161.9h1.1v1.1h-1.1zM69.0 162.1h1.1v1.1h-1.1zM66.6 164.7h1.1v1.1h-1.1zM54.2 159.7h1.1v1.1h-1.1zM59.3 173.4h1.1v1.1h-1.1z" fill="#a9d0e4" opacity="1.0"/>
<path d="M64.3 194.6h1.1v1.1h-1.1zM55.1 199.6h1.1v1.1h-1.1zM60.8 199.3h1.1v1.1h-1.1zM57.7 191.0h1.1v1.1h-1.1zM67.7 194.7h1.1v1.1h-1.1zM52.8 188.6h1.1v1.1h-1.1zM54.3 202.7h1.1v1.1h-1.1zM52.5 200.0h1.1v1.1h-1.1zM61.1 197.4h1.1v1.1h-1.1zM47.6 196.5h1.1v1.1h-1.1zM54.8 196.9h1.1v1.1h-1.1zM64.6 199.5h1.1v1.1h-1.1zM52.4 198.3h1.1v1.1h-1.1zM65.8 186.8h1.1v1.1h-1.1zM50.6 190.1h1.1v1.1h-1.1zM51.8 192.9h1.1v1.1h-1.1zM50.1 200.1h1.1v1.1h-1.1zM52.4 203.0h1.1v1.1h-1.1zM67.2 201.1h1.1v1.1h-1.1zM52.8 195.4h1.1v1.1h-1.1zM47.5 194.1h1.1v1.1h-1.1zM52.5 201.3h1.1v1.1h-1.1zM52.5 198.5h1.1v1.1h-1.1zM53.9 201.9h1.1v1.1h-1.1zM60.1 198.3h1.1v1.1h-1.1zM62.6 193.7h1.1v1.1h-1.1zM69.0 195.3h1.1v1.1h-1.1zM55.6 195.8h1.1v1.1h-1.1zM62.2 197.5h1.1v1.1h-1.1zM63.6 196.3h1.1v1.1h-1.1zM57.2 195.3h1.1v1.1h-1.1zM55.8 187.9h1.1v1.1h-1.1zM60.4 197.4h1.1v1.1h-1.1zM58.3 193.2h1.1v1.1h-1.1zM58.1 193.1h1.1v1.1h-1.1zM46.7 199.2h1.1v1.1h-1.1zM57.2 191.5h1.1v1.1h-1.1zM65.7 193.6h1.1v1.1h-1.1zM58.7 193.2h1.1v1.1h-1.1zM66.3 194.0h1.1v1.1h-1.1zM61.6 189.1h1.1v1.1h-1.1zM53.8 195.6h1.1v1.1h-1.1zM63.6 188.1h1.1v1.1h-1.1zM54.1 201.7h1.1v1.1h-1.1zM63.5 190.6h1.1v1.1h-1.1zM66.5 190.4h1.1v1.1h-1.1zM65.6 191.7h1.1v1.1h-1.1zM61.8 194.8h1.1v1.1h-1.1zM50.2 195.9h1.1v1.1h-1.1zM64.8 201.1h1.1v1.1h-1.1zM63.4 198.7h1.1v1.1h-1.1zM51.8 196.7h1.1v1.1h-1.1zM61.8 191.6h1.1v1.1h-1.1zM63.5 193.8h1.1v1.1h-1.1zM49.0 192.5h1.1v1.1h-1.1zM61.6 206.9h1.1v1.1h-1.1zM57.1 195.0h1.1v1.1h-1.1zM58.1 191.3h1.1v1.1h-1.1zM58.2 192.8h1.1v1.1h-1.1zM63.8 201.4h1.1v1.1h-1.1zM58.9 190.8h1.1v1.1h-1.1zM60.7 187.5h1.1v1.1h-1.1zM65.1 197.9h1.1v1.1h-1.1zM63.2 200.4h1.1v1.1h-1.1zM62.0 202.0h1.1v1.1h-1.1zM62.8 201.4h1.1v1.1h-1.1zM52.2 195.7h1.1v1.1h-1.1zM53.4 203.2h1.1v1.1h-1.1zM64.4 194.7h1.1v1.1h-1.1zM57.9 196.9h1.1v1.1h-1.1zM68.8 192.6h1.1v1.1h-1.1zM48.0 195.0h1.1v1.1h-1.1zM56.1 203.4h1.1v1.1h-1.1zM65.0 195.9h1.1v1.1h-1.1zM67.8 187.4h1.1v1.1h-1.1zM50.5 190.6h1.1v1.1h-1.1zM56.8 201.7h1.1v1.1h-1.1zM60.5 197.2h1.1v1.1h-1.1zM67.8 199.1h1.1v1.1h-1.1zM53.9 202.4h1.1v1.1h-1.1zM63.3 186.9h1.1v1.1h-1.1zM67.6 198.2h1.1v1.1h-1.1zM67.9 197.3h1.1v1.1h-1.1zM52.8 194.7h1.1v1.1h-1.1zM60.9 197.4h1.1v1.1h-1.1zM49.0 196.4h1.1v1.1h-1.1zM61.2 198.3h1.1v1.1h-1.1zM60.7 204.2h1.1v1.1h-1.1zM54.6 200.9h1.1v1.1h-1.1zM64.1 189.6h1.1v1.1h-1.1zM59.2 198.1h1.1v1.1h-1.1zM50.4 190.8h1.1v1.1h-1.1zM56.9 201.8h1.1v1.1h-1.1zM57.6 190.4h1.1v1.1h-1.1zM62.7 189.5h1.1v1.1h-1.1zM52.6 192.9h1.1v1.1h-1.1zM52.0 196.2h1.1v1.1h-1.1zM66.6 201.1h1.1v1.1h-1.1zM64.8 200.2h1.1v1.1h-1.1zM55.5 190.5h1.1v1.1h-1.1zM64.0 197.2h1.1v1.1h-1.1zM65.2 201.2h1.1v1.1h-1.1zM52.5 194.6h1.1v1.1h-1.1zM56.7 197.7h1.1v1.1h-1.1zM58.8 190.1h1.1v1.1h-1.1zM61.8 193.5h1.1v1.1h-1.1zM55.6 192.4h1.1v1.1h-1.1zM57.6 203.8h1.1v1.1h-1.1zM59.2 190.3h1.1v1.1h-1.1zM57.7 192.6h1.1v1.1h-1.1zM65.8 196.8h1.1v1.1h-1.1zM61.9 189.3h1.1v1.1h-1.1zM53.2 190.7h1.1v1.1h-1.1zM50.3 195.9h1.1v1.1h-1.1zM57.5 199.9h1.1v1.1h-1.1zM55.8 194.9h1.1v1.1h-1.1zM56.0 191.8h1.1v1.1h-1.1zM50.1 196.5h1.1v1.1h-1.1zM61.9 191.8h1.1v1.1h-1.1zM55.1 196.7h1.1v1.1h-1.1zM58.3 197.6h1.1v1.1h-1.1zM54.6 190.7h1.1v1.1h-1.1zM65.9 193.7h1.1v1.1h-1.1zM62.6 193.4h1.1v1.1h-1.1zM57.7 191.3h1.1v1.1h-1.1zM57.6 186.5h1.1v1.1h-1.1zM54.0 198.6h1.1v1.1h-1.1zM54.9 206.1h1.1v1.1h-1.1zM63.8 190.5h1.1v1.1h-1.1zM63.5 202.2h1.1v1.1h-1.1zM58.3 196.9h1.1v1.1h-1.1zM51.4 198.9h1.1v1.1h-1.1zM57.9 195.8h1.1v1.1h-1.1zM61.6 205.0h1.1v1.1h-1.1zM50.9 191.3h1.1v1.1h-1.1zM54.3 196.8h1.1v1.1h-1.1zM53.6 201.5h1.1v1.1h-1.1zM61.2 192.5h1.1v1.1h-1.1zM61.4 186.4h1.1v1.1h-1.1zM61.2 197.5h1.1v1.1h-1.1zM57.7 189.6h1.1v1.1h-1.1zM57.3 199.9h1.1v1.1h-1.1zM65.0 198.6h1.1v1.1h-1.1zM62.1 198.2h1.1v1.1h-1.1zM57.4 191.3h1.1v1.1h-1.1zM53.3 198.7h1.1v1.1h-1.1zM53.5 198.9h1.1v1.1h-1.1zM68.9 201.2h1.1v1.1h-1.1zM53.8 193.4h1.1v1.1h-1.1zM49.1 200.1h1.1v1.1h-1.1zM53.2 190.2h1.1v1.1h-1.1zM58.1 191.7h1.1v1.1h-1.1zM62.0 194.1h1.1v1.1h-1.1zM52.8 197.6h1.1v1.1h-1.1zM58.4 193.0h1.1v1.1h-1.1zM61.0 200.6h1.1v1.1h-1.1zM49.7 198.3h1.1v1.1h-1.1zM49.8 193.1h1.1v1.1h-1.1zM50.0 196.8h1.1v1.1h-1.1zM48.7 197.6h1.1v1.1h-1.1zM60.0 194.1h1.1v1.1h-1.1zM58.5 201.6h1.1v1.1h-1.1zM69.2 194.2h1.1v1.1h-1.1zM50.7 193.1h1.1v1.1h-1.1zM66.5 197.2h1.1v1.1h-1.1zM60.7 201.2h1.1v1.1h-1.1zM63.2 192.1h1.1v1.1h-1.1zM56.5 202.4h1.1v1.1h-1.1zM63.8 198.0h1.1v1.1h-1.1zM64.1 199.4h1.1v1.1h-1.1zM61.6 200.5h1.1v1.1h-1.1zM58.8 203.6h1.1v1.1h-1.1zM63.9 194.0h1.1v1.1h-1.1zM57.9 189.0h1.1v1.1h-1.1zM51.8 202.5h1.1v1.1h-1.1zM60.8 202.1h1.1v1.1h-1.1zM61.5 201.7h1.1v1.1h-1.1zM55.5 203.6h1.1v1.1h-1.1zM60.4 206.5h1.1v1.1h-1.1zM53.4 195.3h1.1v1.1h-1.1zM54.6 200.6h1.1v1.1h-1.1zM51.2 198.9h1.1v1.1h-1.1zM53.1 201.7h1.1v1.1h-1.1zM54.5 197.2h1.1v1.1h-1.1zM47.8 196.4h1.1v1.1h-1.1zM71.1 197.0h1.1v1.1h-1.1zM52.2 191.6h1.1v1.1h-1.1zM56.8 190.3h1.1v1.1h-1.1zM55.6 194.9h1.1v1.1h-1.1zM52.3 190.6h1.1v1.1h-1.1zM63.2 197.5h1.1v1.1h-1.1zM51.8 196.1h1.1v1.1h-1.1zM60.6 188.7h1.1v1.1h-1.1zM58.1 193.0h1.1v1.1h-1.1zM55.4 198.9h1.1v1.1h-1.1zM56.2 197.9h1.1v1.1h-1.1zM53.3 196.0h1.1v1.1h-1.1zM59.1 201.6h1.1v1.1h-1.1zM52.3 195.3h1.1v1.1h-1.1zM64.0 190.8h1.1v1.1h-1.1zM67.5 194.6h1.1v1.1h-1.1zM62.1 197.9h1.1v1.1h-1.1zM55.4 190.3h1.1v1.1h-1.1zM56.9 203.0h1.1v1.1h-1.1zM53.3 202.1h1.1v1.1h-1.1zM65.3 200.2h1.1v1.1h-1.1zM55.8 191.5h1.1v1.1h-1.1zM54.0 200.8h1.1v1.1h-1.1zM55.2 199.0h1.1v1.1h-1.1zM53.0 188.1h1.1v1.1h-1.1zM60.9 195.9h1.1v1.1h-1.1zM51.6 199.7h1.1v1.1h-1.1zM50.0 201.2h1.1v1.1h-1.1zM58.2 195.6h1.1v1.1h-1.1zM52.0 191.5h1.1v1.1h-1.1zM56.6 205.1h1.1v1.1h-1.1zM63.1 196.2h1.1v1.1h-1.1zM61.8 199.8h1.1v1.1h-1.1zM61.3 200.4h1.1v1.1h-1.1zM63.5 198.5h1.1v1.1h-1.1zM58.1 195.5h1.1v1.1h-1.1zM55.9 201.9h1.1v1.1h-1.1zM53.3 192.6h1.1v1.1h-1.1zM62.3 191.0h1.1v1.1h-1.1zM46.8 197.0h1.1v1.1h-1.1zM61.3 203.6h1.1v1.1h-1.1zM59.9 208.2h1.1v1.1h-1.1zM56.3 190.8h1.1v1.1h-1.1zM61.5 201.0h1.1v1.1h-1.1zM59.4 194.0h1.1v1.1h-1.1zM54.8 188.8h1.1v1.1h-1.1zM52.9 195.7h1.1v1.1h-1.1zM54.0 202.7h1.1v1.1h-1.1zM63.7 194.5h1.1v1.1h-1.1zM62.2 201.7h1.1v1.1h-1.1zM60.7 192.7h1.1v1.1h-1.1zM53.9 199.2h1.1v1.1h-1.1zM60.8 199.8h1.1v1.1h-1.1zM62.2 200.4h1.1v1.1h-1.1zM53.9 203.9h1.1v1.1h-1.1zM68.6 196.2h1.1v1.1h-1.1zM58.5 196.8h1.1v1.1h-1.1zM59.8 195.0h1.1v1.1h-1.1zM54.9 203.4h1.1v1.1h-1.1zM64.0 193.9h1.1v1.1h-1.1zM62.0 188.1h1.1v1.1h-1.1zM54.5 196.7h1.1v1.1h-1.1zM47.3 190.2h1.1v1.1h-1.1zM62.9 188.9h1.1v1.1h-1.1zM65.5 197.5h1.1v1.1h-1.1zM51.6 189.1h1.1v1.1h-1.1zM56.4 188.8h1.1v1.1h-1.1zM59.3 203.1h1.1v1.1h-1.1zM54.7 195.7h1.1v1.1h-1.1zM61.7 188.8h1.1v1.1h-1.1zM62.4 200.9h1.1v1.1h-1.1zM49.5 199.0h1.1v1.1h-1.1zM54.8 199.7h1.1v1.1h-1.1zM55.5 202.8h1.1v1.1h-1.1zM63.8 193.7h1.1v1.1h-1.1zM67.2 193.7h1.1v1.1h-1.1zM56.8 199.2h1.1v1.1h-1.1zM55.9 201.2h1.1v1.1h-1.1zM57.9 187.4h1.1v1.1h-1.1zM71.0 193.5h1.1v1.1h-1.1zM66.5 193.8h1.1v1.1h-1.1zM53.4 197.8h1.1v1.1h-1.1zM51.2 192.3h1.1v1.1h-1.1zM57.5 194.6h1.1v1.1h-1.1zM64.8 192.8h1.1v1.1h-1.1zM55.7 185.7h1.1v1.1h-1.1zM59.4 193.0h1.1v1.1h-1.1zM52.6 197.9h1.1v1.1h-1.1zM55.8 197.6h1.1v1.1h-1.1zM56.8 203.9h1.1v1.1h-1.1zM62.2 201.0h1.1v1.1h-1.1zM59.4 203.9h1.1v1.1h-1.1zM54.1 199.8h1.1v1.1h-1.1zM59.8 196.2h1.1v1.1h-1.1zM67.0 203.0h1.1v1.1h-1.1zM61.0 190.9h1.1v1.1h-1.1zM70.3 197.1h1.1v1.1h-1.1zM61.3 188.7h1.1v1.1h-1.1zM62.2 186.3h1.1v1.1h-1.1zM62.9 192.2h1.1v1.1h-1.1zM64.8 203.8h1.1v1.1h-1.1zM57.0 191.6h1.1v1.1h-1.1zM59.6 198.7h1.1v1.1h-1.1zM61.0 197.2h1.1v1.1h-1.1zM65.9 198.2h1.1v1.1h-1.1zM57.0 203.3h1.1v1.1h-1.1zM64.9 194.1h1.1v1.1h-1.1zM61.3 190.5h1.1v1.1h-1.1zM57.4 201.2h1.1v1.1h-1.1zM54.9 203.4h1.1v1.1h-1.1zM63.8 190.4h1.1v1.1h-1.1zM55.2 199.8h1.1v1.1h-1.1zM60.4 200.3h1.1v1.1h-1.1zM65.4 190.2h1.1v1.1h-1.1zM57.2 189.1h1.1v1.1h-1.1zM60.3 199.3h1.1v1.1h-1.1zM67.3 195.5h1.1v1.1h-1.1zM53.0 189.4h1.1v1.1h-1.1zM64.3 188.3h1.1v1.1h-1.1zM59.7 192.3h1.1v1.1h-1.1zM58.5 194.4h1.1v1.1h-1.1zM54.4 198.1h1.1v1.1h-1.1zM54.0 197.3h1.1v1.1h-1.1zM48.0 199.5h1.1v1.1h-1.1zM61.2 202.3h1.1v1.1h-1.1zM53.8 201.7h1.1v1.1h-1.1zM52.1 196.1h1.1v1.1h-1.1zM60.1 193.5h1.1v1.1h-1.1zM55.1 193.1h1.1v1.1h-1.1zM51.3 201.6h1.1v1.1h-1.1zM52.9 193.7h1.1v1.1h-1.1zM66.5 198.7h1.1v1.1h-1.1zM59.8 197.6h1.1v1.1h-1.1zM55.1 189.3h1.1v1.1h-1.1zM55.3 199.1h1.1v1.1h-1.1zM50.0 195.1h1.1v1.1h-1.1zM61.3 192.7h1.1v1.1h-1.1zM57.0 189.7h1.1v1.1h-1.1zM54.5 189.3h1.1v1.1h-1.1zM68.3 195.2h1.1v1.1h-1.1zM66.0 195.3h1.1v1.1h-1.1zM60.9 201.0h1.1v1.1h-1.1zM67.0 197.2h1.1v1.1h-1.1zM56.8 201.2h1.1v1.1h-1.1zM55.2 188.1h1.1v1.1h-1.1zM57.5 192.3h1.1v1.1h-1.1zM54.9 203.6h1.1v1.1h-1.1zM66.1 201.1h1.1v1.1h-1.1zM54.7 194.6h1.1v1.1h-1.1zM58.4 192.1h1.1v1.1h-1.1zM59.1 196.2h1.1v1.1h-1.1zM45.5 200.9h1.1v1.1h-1.1zM64.0 193.9h1.1v1.1h-1.1zM59.9 197.2h1.1v1.1h-1.1zM55.8 199.9h1.1v1.1h-1.1zM64.6 192.0h1.1v1.1h-1.1zM68.1 203.5h1.1v1.1h-1.1zM60.1 196.4h1.1v1.1h-1.1zM60.9 190.3h1.1v1.1h-1.1zM55.0 193.8h1.1v1.1h-1.1zM64.9 198.1h1.1v1.1h-1.1zM60.0 200.1h1.1v1.1h-1.1zM57.7 199.0h1.1v1.1h-1.1zM52.6 203.4h1.1v1.1h-1.1zM62.8 192.8h1.1v1.1h-1.1zM63.0 189.0h1.1v1.1h-1.1zM61.3 193.5h1.1v1.1h-1.1zM60.0 191.5h1.1v1.1h-1.1zM52.4 199.4h1.1v1.1h-1.1zM60.1 196.6h1.1v1.1h-1.1zM59.9 189.3h1.1v1.1h-1.1zM65.5 198.9h1.1v1.1h-1.1zM65.0 191.8h1.1v1.1h-1.1zM68.9 197.2h1.1v1.1h-1.1zM69.4 197.9h1.1v1.1h-1.1zM50.9 191.8h1.1v1.1h-1.1zM72.4 198.0h1.1v1.1h-1.1zM63.0 186.9h1.1v1.1h-1.1zM65.4 202.6h1.1v1.1h-1.1zM51.5 198.2h1.1v1.1h-1.1zM44.6 191.7h1.1v1.1h-1.1zM58.4 197.3h1.1v1.1h-1.1zM53.2 196.6h1.1v1.1h-1.1zM54.8 191.0h1.1v1.1h-1.1zM60.7 200.7h1.1v1.1h-1.1zM54.3 201.8h1.1v1.1h-1.1zM59.2 196.0h1.1v1.1h-1.1zM62.1 188.4h1.1v1.1h-1.1zM54.3 188.1h1.1v1.1h-1.1zM60.9 200.3h1.1v1.1h-1.1zM51.1 202.5h1.1v1.1h-1.1zM58.0 197.1h1.1v1.1h-1.1zM57.1 193.0h1.1v1.1h-1.1zM63.2 194.3h1.1v1.1h-1.1zM65.6 193.0h1.1v1.1h-1.1zM60.8 192.6h1.1v1.1h-1.1zM60.2 187.1h1.1v1.1h-1.1zM59.7 190.8h1.1v1.1h-1.1zM62.9 199.2h1.1v1.1h-1.1zM64.1 191.9h1.1v1.1h-1.1zM59.5 204.5h1.1v1.1h-1.1zM51.3 201.9h1.1v1.1h-1.1zM66.2 200.8h1.1v1.1h-1.1zM52.7 202.5h1.1v1.1h-1.1zM53.4 191.1h1.1v1.1h-1.1zM54.4 201.7h1.1v1.1h-1.1zM54.8 194.2h1.1v1.1h-1.1zM50.0 199.3h1.1v1.1h-1.1zM59.9 198.7h1.1v1.1h-1.1zM53.8 195.4h1.1v1.1h-1.1zM60.2 193.1h1.1v1.1h-1.1zM55.9 197.6h1.1v1.1h-1.1zM56.6 190.9h1.1v1.1h-1.1zM57.1 201.5h1.1v1.1h-1.1zM56.9 199.2h1.1v1.1h-1.1z" fill="#b92c2c" opacity="1.0"/>
<path d="M75.9 196.8h1.1v1.1h-1.1zM75.8 200.8h1.1v1.1h-1.1zM80.8 195.6h1.1v1.1h-1.1zM88.8 193.6h1.1v1.1h-1.1zM83.3 190.5h1.1v1.1h-1.1zM94.5 198.8h1.1v1.1h-1.1zM92.8 197.0h1.1v1.1h-1.1zM86.8 193.6h1.1v1.1h-1.1zM96.0 198.0h1.1v1.1h-1.1zM87.2 191.7h1.1v1.1h-1.1zM79.4 197.1h1.1v1.1h-1.1zM81.5 202.3h1.1v1.1h-1.1zM96.5 188.3h1.1v1.1h-1.1zM93.1 201.6h1.1v1.1h-1.1zM87.8 186.2h1.1v1.1h-1.1zM79.2 199.6h1.1v1.1h-1.1zM87.0 202.3h1.1v1.1h-1.1zM77.4 195.8h1.1v1.1h-1.1zM95.3 188.7h1.1v1.1h-1.1zM85.5 189.5h1.1v1.1h-1.1zM87.9 191.4h1.1v1.1h-1.1zM80.9 187.2h1.1v1.1h-1.1zM90.9 202.8h1.1v1.1h-1.1zM92.9 200.5h1.1v1.1h-1.1zM82.1 201.4h1.1v1.1h-1.1zM80.0 188.6h1.1v1.1h-1.1zM80.3 198.9h1.1v1.1h-1.1zM94.1 197.5h1.1v1.1h-1.1zM71.1 197.7h1.1v1.1h-1.1zM98.6 200.9h1.1v1.1h-1.1zM75.9 190.2h1.1v1.1h-1.1zM92.8 196.8h1.1v1.1h-1.1zM87.3 190.1h1.1v1.1h-1.1zM81.0 199.7h1.1v1.1h-1.1zM75.7 192.6h1.1v1.1h-1.1zM73.4 205.0h1.1v1.1h-1.1zM91.8 188.5h1.1v1.1h-1.1zM82.4 190.9h1.1v1.1h-1.1zM83.6 187.5h1.1v1.1h-1.1zM86.7 195.9h1.1v1.1h-1.1zM88.0 200.1h1.1v1.1h-1.1zM73.1 194.3h1.1v1.1h-1.1zM97.6 192.0h1.1v1.1h-1.1zM84.2 202.3h1.1v1.1h-1.1zM89.9 187.4h1.1v1.1h-1.1zM83.0 200.9h1.1v1.1h-1.1zM73.0 192.1h1.1v1.1h-1.1zM80.9 190.5h1.1v1.1h-1.1zM76.5 195.9h1.1v1.1h-1.1zM91.7 189.2h1.1v1.1h-1.1zM84.0 186.6h1.1v1.1h-1.1zM79.7 201.3h1.1v1.1h-1.1zM93.7 195.6h1.1v1.1h-1.1zM68.7 192.8h1.1v1.1h-1.1zM91.5 198.5h1.1v1.1h-1.1zM76.5 195.7h1.1v1.1h-1.1zM78.7 202.0h1.1v1.1h-1.1zM96.0 191.1h1.1v1.1h-1.1zM71.0 204.2h1.1v1.1h-1.1zM91.0 205.2h1.1v1.1h-1.1zM95.6 198.4h1.1v1.1h-1.1zM97.6 189.6h1.1v1.1h-1.1zM85.6 192.1h1.1v1.1h-1.1zM79.0 190.1h1.1v1.1h-1.1zM90.2 192.0h1.1v1.1h-1.1zM77.6 195.6h1.1v1.1h-1.1zM76.6 200.9h1.1v1.1h-1.1zM83.7 189.4h1.1v1.1h-1.1zM87.6 190.6h1.1v1.1h-1.1zM86.8 193.8h1.1v1.1h-1.1zM86.8 198.9h1.1v1.1h-1.1zM70.8 203.2h1.1v1.1h-1.1zM87.7 203.4h1.1v1.1h-1.1zM81.0 200.4h1.1v1.1h-1.1zM93.4 200.4h1.1v1.1h-1.1zM70.4 193.0h1.1v1.1h-1.1zM73.5 194.0h1.1v1.1h-1.1zM93.5 189.9h1.1v1.1h-1.1zM70.7 185.8h1.1v1.1h-1.1zM71.1 200.8h1.1v1.1h-1.1zM89.1 201.3h1.1v1.1h-1.1zM75.5 197.3h1.1v1.1h-1.1zM91.7 195.3h1.1v1.1h-1.1zM74.3 196.4h1.1v1.1h-1.1zM78.0 205.7h1.1v1.1h-1.1zM92.9 193.5h1.1v1.1h-1.1zM91.9 195.3h1.1v1.1h-1.1zM82.5 191.2h1.1v1.1h-1.1zM96.5 191.0h1.1v1.1h-1.1zM83.9 195.3h1.1v1.1h-1.1zM81.4 200.9h1.1v1.1h-1.1zM85.5 200.0h1.1v1.1h-1.1zM87.6 196.7h1.1v1.1h-1.1zM87.7 187.7h1.1v1.1h-1.1zM93.5 199.4h1.1v1.1h-1.1zM93.8 192.1h1.1v1.1h-1.1zM67.4 200.1h1.1v1.1h-1.1zM88.6 187.6h1.1v1.1h-1.1zM86.8 201.0h1.1v1.1h-1.1zM75.8 198.6h1.1v1.1h-1.1zM68.5 198.6h1.1v1.1h-1.1zM81.0 185.5h1.1v1.1h-1.1zM76.7 194.7h1.1v1.1h-1.1zM81.3 198.5h1.1v1.1h-1.1zM86.9 202.6h1.1v1.1h-1.1zM79.0 197.1h1.1v1.1h-1.1zM74.1 192.6h1.1v1.1h-1.1zM86.0 198.1h1.1v1.1h-1.1zM74.0 192.2h1.1v1.1h-1.1zM98.7 194.6h1.1v1.1h-1.1zM89.9 203.1h1.1v1.1h-1.1zM91.1 195.3h1.1v1.1h-1.1zM82.3 201.8h1.1v1.1h-1.1zM82.8 195.3h1.1v1.1h-1.1zM89.1 195.7h1.1v1.1h-1.1zM85.2 187.6h1.1v1.1h-1.1zM88.4 196.9h1.1v1.1h-1.1zM82.0 192.6h1.1v1.1h-1.1zM91.8 187.0h1.1v1.1h-1.1zM82.5 196.8h1.1v1.1h-1.1zM71.5 202.9h1.1v1.1h-1.1zM86.0 200.6h1.1v1.1h-1.1zM87.1 197.8h1.1v1.1h-1.1zM88.9 188.5h1.1v1.1h-1.1zM82.1 202.8h1.1v1.1h-1.1zM78.7 193.2h1.1v1.1h-1.1zM87.4 195.6h1.1v1.1h-1.1zM82.1 191.3h1.1v1.1h-1.1zM87.2 192.7h1.1v1.1h-1.1zM95.0 191.4h1.1v1.1h-1.1zM97.9 193.8h1.1v1.1h-1.1zM79.1 201.1h1.1v1.1h-1.1zM73.1 192.8h1.1v1.1h-1.1zM94.7 192.7h1.1v1.1h-1.1zM95.1 192.4h1.1v1.1h-1.1zM75.4 196.2h1.1v1.1h-1.1zM86.1 201.3h1.1v1.1h-1.1zM81.2 199.2h1.1v1.1h-1.1zM75.5 201.7h1.1v1.1h-1.1zM87.5 196.9h1.1v1.1h-1.1zM68.6 202.3h1.1v1.1h-1.1zM76.2 191.7h1.1v1.1h-1.1zM97.5 193.4h1.1v1.1h-1.1zM78.9 201.4h1.1v1.1h-1.1zM83.0 207.1h1.1v1.1h-1.1zM88.8 194.3h1.1v1.1h-1.1zM74.3 200.9h1.1v1.1h-1.1zM84.8 192.9h1.1v1.1h-1.1zM76.3 197.8h1.1v1.1h-1.1zM92.6 201.7h1.1v1.1h-1.1zM74.8 202.0h1.1v1.1h-1.1zM85.0 185.8h1.1v1.1h-1.1zM82.4 196.1h1.1v1.1h-1.1zM88.5 201.1h1.1v1.1h-1.1zM91.0 204.4h1.1v1.1h-1.1zM98.2 191.3h1.1v1.1h-1.1zM78.6 197.7h1.1v1.1h-1.1zM69.2 198.0h1.1v1.1h-1.1zM75.6 200.3h1.1v1.1h-1.1zM89.1 196.8h1.1v1.1h-1.1zM73.9 200.8h1.1v1.1h-1.1zM83.3 199.9h1.1v1.1h-1.1zM74.6 205.5h1.1v1.1h-1.1zM77.0 191.6h1.1v1.1h-1.1zM83.4 195.1h1.1v1.1h-1.1zM97.1 189.6h1.1v1.1h-1.1zM72.0 200.1h1.1v1.1h-1.1zM92.4 200.1h1.1v1.1h-1.1zM97.8 198.1h1.1v1.1h-1.1zM90.9 199.6h1.1v1.1h-1.1zM94.9 192.7h1.1v1.1h-1.1zM90.4 198.5h1.1v1.1h-1.1zM81.6 208.4h1.1v1.1h-1.1zM79.1 193.1h1.1v1.1h-1.1zM73.6 199.5h1.1v1.1h-1.1zM76.6 194.0h1.1v1.1h-1.1zM77.2 195.0h1.1v1.1h-1.1zM75.3 193.3h1.1v1.1h-1.1zM86.1 205.0h1.1v1.1h-1.1zM89.9 188.1h1.1v1.1h-1.1zM81.2 193.9h1.1v1.1h-1.1zM71.1 202.9h1.1v1.1h-1.1zM79.2 191.3h1.1v1.1h-1.1zM97.8 194.6h1.1v1.1h-1.1zM91.5 193.6h1.1v1.1h-1.1zM95.8 193.5h1.1v1.1h-1.1zM74.4 196.2h1.1v1.1h-1.1zM93.7 194.5h1.1v1.1h-1.1zM92.6 195.9h1.1v1.1h-1.1zM96.6 203.0h1.1v1.1h-1.1zM95.2 189.7h1.1v1.1h-1.1zM75.6 201.9h1.1v1.1h-1.1zM77.6 194.6h1.1v1.1h-1.1zM72.1 191.1h1.1v1.1h-1.1zM85.4 199.8h1.1v1.1h-1.1zM79.7 190.9h1.1v1.1h-1.1zM74.3 196.2h1.1v1.1h-1.1zM93.8 201.9h1.1v1.1h-1.1zM77.8 204.1h1.1v1.1h-1.1zM76.1 202.7h1.1v1.1h-1.1zM83.7 193.7h1.1v1.1h-1.1zM79.4 191.7h1.1v1.1h-1.1zM82.0 192.8h1.1v1.1h-1.1zM77.5 190.1h1.1v1.1h-1.1zM76.5 205.1h1.1v1.1h-1.1zM77.8 197.4h1.1v1.1h-1.1zM96.8 195.7h1.1v1.1h-1.1zM85.7 189.8h1.1v1.1h-1.1zM78.8 191.0h1.1v1.1h-1.1zM86.6 192.1h1.1v1.1h-1.1zM86.3 189.1h1.1v1.1h-1.1zM88.9 197.3h1.1v1.1h-1.1zM81.6 204.3h1.1v1.1h-1.1zM93.2 189.2h1.1v1.1h-1.1zM85.8 197.0h1.1v1.1h-1.1zM84.5 200.8h1.1v1.1h-1.1zM84.3 192.6h1.1v1.1h-1.1zM78.0 197.5h1.1v1.1h-1.1zM81.0 195.2h1.1v1.1h-1.1zM85.9 198.4h1.1v1.1h-1.1zM93.0 194.9h1.1v1.1h-1.1zM87.6 191.1h1.1v1.1h-1.1zM81.6 186.4h1.1v1.1h-1.1zM88.0 189.7h1.1v1.1h-1.1zM77.9 210.1h1.1v1.1h-1.1zM93.0 197.6h1.1v1.1h-1.1zM75.7 201.3h1.1v1.1h-1.1zM75.4 201.7h1.1v1.1h-1.1zM74.4 197.7h1.1v1.1h-1.1zM84.8 199.6h1.1v1.1h-1.1zM95.1 198.4h1.1v1.1h-1.1zM81.1 191.3h1.1v1.1h-1.1zM85.0 206.7h1.1v1.1h-1.1zM72.1 209.9h1.1v1.1h-1.1zM80.0 202.3h1.1v1.1h-1.1zM78.5 193.2h1.1v1.1h-1.1zM71.7 195.2h1.1v1.1h-1.1zM90.2 199.8h1.1v1.1h-1.1zM78.1 205.6h1.1v1.1h-1.1zM92.3 204.2h1.1v1.1h-1.1zM77.4 189.8h1.1v1.1h-1.1zM89.2 200.2h1.1v1.1h-1.1zM93.5 200.3h1.1v1.1h-1.1zM79.9 198.1h1.1v1.1h-1.1zM74.2 193.9h1.1v1.1h-1.1zM89.9 193.4h1.1v1.1h-1.1zM74.0 192.8h1.1v1.1h-1.1zM78.9 193.6h1.1v1.1h-1.1zM88.5 194.9h1.1v1.1h-1.1zM87.5 203.6h1.1v1.1h-1.1zM74.7 198.9h1.1v1.1h-1.1zM80.4 204.3h1.1v1.1h-1.1zM97.0 199.4h1.1v1.1h-1.1zM89.3 194.0h1.1v1.1h-1.1zM95.9 197.9h1.1v1.1h-1.1zM88.1 205.6h1.1v1.1h-1.1zM77.2 196.9h1.1v1.1h-1.1zM83.8 194.2h1.1v1.1h-1.1zM101.5 193.5h1.1v1.1h-1.1zM63.2 200.0h1.1v1.1h-1.1zM82.2 200.4h1.1v1.1h-1.1zM88.3 198.4h1.1v1.1h-1.1zM85.2 201.4h1.1v1.1h-1.1zM89.1 185.4h1.1v1.1h-1.1zM89.0 190.6h1.1v1.1h-1.1zM86.9 187.1h1.1v1.1h-1.1zM70.0 195.9h1.1v1.1h-1.1zM86.3 194.2h1.1v1.1h-1.1zM80.4 187.4h1.1v1.1h-1.1zM90.6 193.3h1.1v1.1h-1.1zM85.5 191.5h1.1v1.1h-1.1zM78.6 196.4h1.1v1.1h-1.1zM92.1 185.6h1.1v1.1h-1.1zM70.1 200.8h1.1v1.1h-1.1zM83.3 188.5h1.1v1.1h-1.1zM77.7 197.5h1.1v1.1h-1.1zM74.2 190.4h1.1v1.1h-1.1zM90.5 194.9h1.1v1.1h-1.1zM88.4 188.8h1.1v1.1h-1.1zM81.3 207.3h1.1v1.1h-1.1zM95.0 200.1h1.1v1.1h-1.1zM83.4 202.5h1.1v1.1h-1.1zM87.2 198.7h1.1v1.1h-1.1zM80.0 197.5h1.1v1.1h-1.1zM80.5 187.0h1.1v1.1h-1.1zM76.9 201.0h1.1v1.1h-1.1zM91.1 199.4h1.1v1.1h-1.1zM86.7 195.5h1.1v1.1h-1.1zM85.2 192.0h1.1v1.1h-1.1zM79.8 201.1h1.1v1.1h-1.1zM73.6 201.3h1.1v1.1h-1.1zM92.9 191.7h1.1v1.1h-1.1zM84.2 202.8h1.1v1.1h-1.1zM73.6 191.9h1.1v1.1h-1.1zM75.9 195.2h1.1v1.1h-1.1zM79.2 194.5h1.1v1.1h-1.1zM75.2 193.7h1.1v1.1h-1.1zM70.4 199.0h1.1v1.1h-1.1zM78.8 197.8h1.1v1.1h-1.1zM76.3 206.1h1.1v1.1h-1.1zM99.9 195.6h1.1v1.1h-1.1zM75.4 196.1h1.1v1.1h-1.1zM94.8 200.9h1.1v1.1h-1.1zM92.2 186.8h1.1v1.1h-1.1zM90.1 185.8h1.1v1.1h-1.1zM96.8 191.3h1.1v1.1h-1.1zM77.2 202.2h1.1v1.1h-1.1zM88.7 186.1h1.1v1.1h-1.1zM72.2 193.0h1.1v1.1h-1.1zM80.5 196.6h1.1v1.1h-1.1zM86.9 191.4h1.1v1.1h-1.1zM74.5 201.3h1.1v1.1h-1.1zM88.7 197.7h1.1v1.1h-1.1zM87.1 207.5h1.1v1.1h-1.1zM82.5 199.9h1.1v1.1h-1.1zM75.1 194.5h1.1v1.1h-1.1zM82.8 190.9h1.1v1.1h-1.1zM90.8 197.9h1.1v1.1h-1.1zM92.1 202.8h1.1v1.1h-1.1zM96.7 193.6h1.1v1.1h-1.1zM90.1 196.0h1.1v1.1h-1.1zM95.7 188.8h1.1v1.1h-1.1zM67.4 196.2h1.1v1.1h-1.1zM82.9 188.6h1.1v1.1h-1.1zM73.4 193.2h1.1v1.1h-1.1zM89.8 192.7h1.1v1.1h-1.1zM87.7 190.9h1.1v1.1h-1.1zM91.8 188.4h1.1v1.1h-1.1zM81.4 204.6h1.1v1.1h-1.1zM88.3 198.7h1.1v1.1h-1.1zM99.1 199.9h1.1v1.1h-1.1zM89.7 188.1h1.1v1.1h-1.1zM100.7 194.9h1.1v1.1h-1.1zM90.7 197.9h1.1v1.1h-1.1zM82.0 195.6h1.1v1.1h-1.1zM80.4 192.0h1.1v1.1h-1.1zM80.7 189.8h1.1v1.1h-1.1zM76.8 196.1h1.1v1.1h-1.1zM72.0 198.5h1.1v1.1h-1.1zM70.5 194.1h1.1v1.1h-1.1zM90.0 189.7h1.1v1.1h-1.1zM82.2 201.7h1.1v1.1h-1.1zM93.6 190.8h1.1v1.1h-1.1zM87.5 204.4h1.1v1.1h-1.1zM86.6 188.8h1.1v1.1h-1.1zM83.2 199.0h1.1v1.1h-1.1zM85.7 191.8h1.1v1.1h-1.1zM84.0 201.3h1.1v1.1h-1.1zM78.3 199.7h1.1v1.1h-1.1zM89.0 189.5h1.1v1.1h-1.1zM79.7 191.3h1.1v1.1h-1.1zM92.6 196.3h1.1v1.1h-1.1zM80.0 191.9h1.1v1.1h-1.1zM86.5 192.1h1.1v1.1h-1.1zM93.2 195.3h1.1v1.1h-1.1zM84.0 206.5h1.1v1.1h-1.1zM80.7 192.8h1.1v1.1h-1.1zM82.0 195.9h1.1v1.1h-1.1zM85.6 194.8h1.1v1.1h-1.1zM84.7 192.8h1.1v1.1h-1.1zM83.8 203.4h1.1v1.1h-1.1zM99.8 196.0h1.1v1.1h-1.1zM86.4 189.0h1.1v1.1h-1.1zM76.7 191.5h1.1v1.1h-1.1zM73.9 196.4h1.1v1.1h-1.1zM76.0 205.7h1.1v1.1h-1.1zM91.9 198.1h1.1v1.1h-1.1zM90.3 202.0h1.1v1.1h-1.1zM95.2 197.5h1.1v1.1h-1.1zM89.5 192.3h1.1v1.1h-1.1zM77.6 194.8h1.1v1.1h-1.1zM77.0 189.5h1.1v1.1h-1.1zM74.7 190.0h1.1v1.1h-1.1zM73.1 193.8h1.1v1.1h-1.1zM86.6 192.8h1.1v1.1h-1.1zM94.2 189.7h1.1v1.1h-1.1zM89.4 200.5h1.1v1.1h-1.1zM95.0 192.6h1.1v1.1h-1.1zM90.8 196.5h1.1v1.1h-1.1zM71.9 194.9h1.1v1.1h-1.1zM93.3 198.3h1.1v1.1h-1.1zM90.0 196.8h1.1v1.1h-1.1zM96.2 198.5h1.1v1.1h-1.1zM75.6 193.9h1.1v1.1h-1.1zM82.5 194.9h1.1v1.1h-1.1zM71.5 195.8h1.1v1.1h-1.1zM83.6 192.0h1.1v1.1h-1.1zM93.6 200.2h1.1v1.1h-1.1zM92.1 197.8h1.1v1.1h-1.1zM96.7 192.5h1.1v1.1h-1.1zM78.5 191.0h1.1v1.1h-1.1zM68.1 191.4h1.1v1.1h-1.1zM83.5 203.1h1.1v1.1h-1.1zM78.1 200.7h1.1v1.1h-1.1zM93.2 201.2h1.1v1.1h-1.1zM92.1 189.8h1.1v1.1h-1.1zM80.1 195.1h1.1v1.1h-1.1zM87.7 200.1h1.1v1.1h-1.1zM73.3 204.5h1.1v1.1h-1.1zM89.0 199.5h1.1v1.1h-1.1zM77.1 192.8h1.1v1.1h-1.1zM88.8 197.5h1.1v1.1h-1.1zM81.4 198.5h1.1v1.1h-1.1zM67.5 187.3h1.1v1.1h-1.1zM80.5 196.7h1.1v1.1h-1.1zM93.3 191.6h1.1v1.1h-1.1zM75.7 198.3h1.1v1.1h-1.1zM99.2 193.3h1.1v1.1h-1.1zM76.2 198.8h1.1v1.1h-1.1zM84.0 205.5h1.1v1.1h-1.1zM86.6 202.8h1.1v1.1h-1.1zM91.4 194.9h1.1v1.1h-1.1zM77.1 188.4h1.1v1.1h-1.1zM78.2 200.1h1.1v1.1h-1.1zM84.8 195.9h1.1v1.1h-1.1zM85.0 189.1h1.1v1.1h-1.1zM81.8 199.3h1.1v1.1h-1.1zM81.1 185.8h1.1v1.1h-1.1zM93.2 194.9h1.1v1.1h-1.1zM86.0 187.9h1.1v1.1h-1.1zM100.9 194.6h1.1v1.1h-1.1zM93.1 194.7h1.1v1.1h-1.1zM74.2 192.9h1.1v1.1h-1.1zM80.8 189.5h1.1v1.1h-1.1zM83.7 201.8h1.1v1.1h-1.1zM73.4 202.3h1.1v1.1h-1.1zM89.3 192.0h1.1v1.1h-1.1zM82.1 188.4h1.1v1.1h-1.1zM83.7 206.5h1.1v1.1h-1.1zM74.6 199.0h1.1v1.1h-1.1zM82.2 195.9h1.1v1.1h-1.1zM77.0 203.0h1.1v1.1h-1.1zM78.0 196.2h1.1v1.1h-1.1zM94.5 190.7h1.1v1.1h-1.1zM74.8 194.2h1.1v1.1h-1.1zM86.0 197.6h1.1v1.1h-1.1zM84.1 188.2h1.1v1.1h-1.1zM80.6 193.1h1.1v1.1h-1.1zM76.4 205.1h1.1v1.1h-1.1zM85.8 192.8h1.1v1.1h-1.1zM82.8 200.4h1.1v1.1h-1.1zM93.1 194.0h1.1v1.1h-1.1zM80.0 201.0h1.1v1.1h-1.1zM80.2 199.1h1.1v1.1h-1.1zM85.6 200.7h1.1v1.1h-1.1zM75.3 197.6h1.1v1.1h-1.1zM69.6 201.6h1.1v1.1h-1.1zM85.2 207.9h1.1v1.1h-1.1zM74.0 195.2h1.1v1.1h-1.1zM90.8 198.1h1.1v1.1h-1.1zM77.4 194.1h1.1v1.1h-1.1zM85.0 202.3h1.1v1.1h-1.1zM86.4 194.7h1.1v1.1h-1.1zM83.3 197.5h1.1v1.1h-1.1zM70.5 199.3h1.1v1.1h-1.1zM90.5 191.2h1.1v1.1h-1.1zM88.0 193.4h1.1v1.1h-1.1zM89.6 187.7h1.1v1.1h-1.1zM81.6 200.1h1.1v1.1h-1.1zM85.9 205.7h1.1v1.1h-1.1zM81.9 185.5h1.1v1.1h-1.1zM73.4 198.8h1.1v1.1h-1.1zM86.6 187.2h1.1v1.1h-1.1zM102.0 193.8h1.1v1.1h-1.1zM80.1 204.6h1.1v1.1h-1.1zM80.4 188.0h1.1v1.1h-1.1zM71.0 198.9h1.1v1.1h-1.1zM70.4 201.3h1.1v1.1h-1.1zM81.1 199.5h1.1v1.1h-1.1zM81.7 191.4h1.1v1.1h-1.1zM99.2 196.8h1.1v1.1h-1.1zM69.8 191.0h1.1v1.1h-1.1zM82.6 195.8h1.1v1.1h-1.1zM85.2 204.0h1.1v1.1h-1.1zM76.4 199.0h1.1v1.1h-1.1zM87.6 201.8h1.1v1.1h-1.1zM80.1 193.5h1.1v1.1h-1.1zM72.9 198.0h1.1v1.1h-1.1zM93.5 187.3h1.1v1.1h-1.1zM73.3 200.5h1.1v1.1h-1.1zM77.6 203.1h1.1v1.1h-1.1zM86.2 191.6h1.1v1.1h-1.1zM80.2 191.2h1.1v1.1h-1.1zM79.4 194.7h1.1v1.1h-1.1zM76.2 199.6h1.1v1.1h-1.1zM77.7 196.2h1.1v1.1h-1.1zM82.4 188.8h1.1v1.1h-1.1zM93.2 195.2h1.1v1.1h-1.1zM61.4 193.6h1.1v1.1h-1.1zM97.8 189.2h1.1v1.1h-1.1zM79.2 202.9h1.1v1.1h-1.1zM81.9 203.2h1.1v1.1h-1.1zM86.9 195.9h1.1v1.1h-1.1zM81.2 203.2h1.1v1.1h-1.1zM87.6 192.2h1.1v1.1h-1.1zM82.5 192.9h1.1v1.1h-1.1zM77.0 201.7h1.1v1.1h-1.1zM72.5 194.2h1.1v1.1h-1.1zM84.0 187.5h1.1v1.1h-1.1zM80.4 203.3h1.1v1.1h-1.1zM84.5 194.1h1.1v1.1h-1.1zM85.9 194.8h1.1v1.1h-1.1zM80.1 194.0h1.1v1.1h-1.1zM91.3 190.5h1.1v1.1h-1.1zM89.9 202.3h1.1v1.1h-1.1zM88.6 203.7h1.1v1.1h-1.1zM78.4 187.6h1.1v1.1h-1.1zM89.9 201.2h1.1v1.1h-1.1zM84.2 190.4h1.1v1.1h-1.1zM82.9 191.1h1.1v1.1h-1.1zM86.9 188.6h1.1v1.1h-1.1zM74.7 193.2h1.1v1.1h-1.1zM83.0 191.1h1.1v1.1h-1.1zM99.6 197.5h1.1v1.1h-1.1zM68.1 192.7h1.1v1.1h-1.1zM90.5 196.1h1.1v1.1h-1.1zM86.4 195.8h1.1v1.1h-1.1zM82.6 197.2h1.1v1.1h-1.1zM90.8 198.0h1.1v1.1h-1.1zM90.8 202.7h1.1v1.1h-1.1z" fill="#4b8fc5" opacity="1.0"/>
<path d="M78.9 178.2h1.1v1.1h-1.1zM82.6 176.2h1.1v1.1h-1.1zM81.1 173.9h1.1v1.1h-1.1zM78.5 186.2h1.1v1.1h-1.1zM72.2 184.9h1.1v1.1h-1.1zM83.0 184.3h1.1v1.1h-1.1zM87.8 181.1h1.1v1.1h-1.1zM65.1 180.2h1.1v1.1h-1.1zM62.8 179.4h1.1v1.1h-1.1zM73.8 167.9h1.1v1.1h-1.1zM81.1 184.8h1.1v1.1h-1.1zM64.4 186.8h1.1v1.1h-1.1zM68.9 183.6h1.1v1.1h-1.1zM82.5 179.5h1.1v1.1h-1.1zM82.5 176.6h1.1v1.1h-1.1zM72.6 177.0h1.1v1.1h-1.1zM76.2 178.8h1.1v1.1h-1.1zM67.4 188.4h1.1v1.1h-1.1zM84.3 175.3h1.1v1.1h-1.1zM72.0 179.6h1.1v1.1h-1.1zM77.7 173.1h1.1v1.1h-1.1zM90.4 182.0h1.1v1.1h-1.1zM80.4 185.0h1.1v1.1h-1.1zM76.7 177.0h1.1v1.1h-1.1zM87.9 176.0h1.1v1.1h-1.1zM73.8 176.4h1.1v1.1h-1.1zM78.5 187.3h1.1v1.1h-1.1zM77.0 177.9h1.1v1.1h-1.1zM69.6 176.5h1.1v1.1h-1.1zM77.5 186.7h1.1v1.1h-1.1zM66.3 191.8h1.1v1.1h-1.1zM77.6 181.5h1.1v1.1h-1.1zM74.6 178.9h1.1v1.1h-1.1zM76.6 188.7h1.1v1.1h-1.1zM78.3 173.5h1.1v1.1h-1.1zM82.6 185.0h1.1v1.1h-1.1zM75.9 183.2h1.1v1.1h-1.1zM69.9 181.2h1.1v1.1h-1.1zM73.0 173.4h1.1v1.1h-1.1zM79.1 186.5h1.1v1.1h-1.1zM73.2 173.6h1.1v1.1h-1.1zM69.7 175.7h1.1v1.1h-1.1zM78.2 187.3h1.1v1.1h-1.1zM81.5 178.0h1.1v1.1h-1.1zM76.0 175.1h1.1v1.1h-1.1zM80.4 175.5h1.1v1.1h-1.1zM78.5 176.9h1.1v1.1h-1.1zM81.0 185.2h1.1v1.1h-1.1zM67.2 175.7h1.1v1.1h-1.1zM82.4 183.5h1.1v1.1h-1.1zM72.4 174.8h1.1v1.1h-1.1zM90.0 178.5h1.1v1.1h-1.1zM74.9 186.2h1.1v1.1h-1.1zM81.1 176.6h1.1v1.1h-1.1zM66.5 182.2h1.1v1.1h-1.1zM78.2 185.0h1.1v1.1h-1.1zM69.3 184.2h1.1v1.1h-1.1zM81.6 179.9h1.1v1.1h-1.1zM69.0 186.6h1.1v1.1h-1.1zM69.9 178.6h1.1v1.1h-1.1zM82.1 185.0h1.1v1.1h-1.1zM69.6 178.2h1.1v1.1h-1.1zM76.4 178.7h1.1v1.1h-1.1zM69.2 174.4h1.1v1.1h-1.1zM80.5 176.4h1.1v1.1h-1.1zM73.3 175.1h1.1v1.1h-1.1zM71.8 170.8h1.1v1.1h-1.1zM70.9 177.5h1.1v1.1h-1.1zM76.2 188.9h1.1v1.1h-1.1zM84.5 182.6h1.1v1.1h-1.1zM73.6 179.5h1.1v1.1h-1.1zM83.3 174.6h1.1v1.1h-1.1zM66.7 189.8h1.1v1.1h-1.1zM74.2 188.6h1.1v1.1h-1.1zM71.9 173.6h1.1v1.1h-1.1zM72.1 186.7h1.1v1.1h-1.1zM82.4 187.5h1.1v1.1h-1.1zM64.5 184.4h1.1v1.1h-1.1zM66.7 190.1h1.1v1.1h-1.1zM86.1 184.4h1.1v1.1h-1.1zM77.7 178.7h1.1v1.1h-1.1zM67.6 178.5h1.1v1.1h-1.1zM72.8 185.8h1.1v1.1h-1.1zM72.9 181.2h1.1v1.1h-1.1zM66.6 190.6h1.1v1.1h-1.1zM81.6 176.3h1.1v1.1h-1.1zM81.1 187.1h1.1v1.1h-1.1zM79.7 173.2h1.1v1.1h-1.1zM67.1 175.4h1.1v1.1h-1.1zM82.7 176.2h1.1v1.1h-1.1zM79.9 175.6h1.1v1.1h-1.1zM81.2 180.8h1.1v1.1h-1.1zM67.2 175.0h1.1v1.1h-1.1zM80.5 175.0h1.1v1.1h-1.1zM85.8 181.5h1.1v1.1h-1.1zM78.0 189.2h1.1v1.1h-1.1zM74.6 184.7h1.1v1.1h-1.1zM79.1 172.7h1.1v1.1h-1.1zM82.3 180.4h1.1v1.1h-1.1zM64.7 187.1h1.1v1.1h-1.1zM72.1 179.4h1.1v1.1h-1.1zM84.5 183.1h1.1v1.1h-1.1zM75.3 174.3h1.1v1.1h-1.1zM79.8 187.1h1.1v1.1h-1.1zM86.6 182.3h1.1v1.1h-1.1zM64.3 189.6h1.1v1.1h-1.1zM70.8 187.0h1.1v1.1h-1.1zM72.1 191.4h1.1v1.1h-1.1zM75.4 184.9h1.1v1.1h-1.1zM76.1 177.7h1.1v1.1h-1.1zM62.7 175.1h1.1v1.1h-1.1zM68.4 178.1h1.1v1.1h-1.1zM71.7 174.6h1.1v1.1h-1.1zM87.4 185.5h1.1v1.1h-1.1zM69.3 182.7h1.1v1.1h-1.1zM77.2 177.4h1.1v1.1h-1.1zM77.9 178.5h1.1v1.1h-1.1zM74.3 180.4h1.1v1.1h-1.1zM76.3 180.0h1.1v1.1h-1.1zM86.4 180.4h1.1v1.1h-1.1zM81.6 184.7h1.1v1.1h-1.1zM66.6 179.9h1.1v1.1h-1.1zM72.9 191.7h1.1v1.1h-1.1zM72.4 189.9h1.1v1.1h-1.1zM68.1 177.8h1.1v1.1h-1.1zM65.6 176.1h1.1v1.1h-1.1zM83.2 186.4h1.1v1.1h-1.1zM68.6 180.3h1.1v1.1h-1.1zM69.6 178.7h1.1v1.1h-1.1zM76.9 177.1h1.1v1.1h-1.1zM66.0 180.8h1.1v1.1h-1.1zM70.9 175.8h1.1v1.1h-1.1zM86.3 181.8h1.1v1.1h-1.1zM80.5 181.8h1.1v1.1h-1.1zM77.6 189.7h1.1v1.1h-1.1zM66.7 179.2h1.1v1.1h-1.1zM75.4 182.1h1.1v1.1h-1.1zM75.3 171.5h1.1v1.1h-1.1zM67.8 174.7h1.1v1.1h-1.1zM83.2 178.5h1.1v1.1h-1.1zM73.3 169.8h1.1v1.1h-1.1zM75.1 175.5h1.1v1.1h-1.1zM86.3 177.7h1.1v1.1h-1.1zM71.1 180.9h1.1v1.1h-1.1zM69.8 178.8h1.1v1.1h-1.1zM74.7 183.5h1.1v1.1h-1.1zM83.3 180.0h1.1v1.1h-1.1zM84.2 173.6h1.1v1.1h-1.1zM77.5 181.7h1.1v1.1h-1.1zM73.2 176.7h1.1v1.1h-1.1zM76.4 174.5h1.1v1.1h-1.1zM69.9 180.7h1.1v1.1h-1.1zM70.9 181.3h1.1v1.1h-1.1zM72.2 183.8h1.1v1.1h-1.1zM84.9 188.4h1.1v1.1h-1.1zM71.6 172.2h1.1v1.1h-1.1zM77.8 188.7h1.1v1.1h-1.1zM80.2 177.7h1.1v1.1h-1.1zM74.2 182.1h1.1v1.1h-1.1zM75.9 185.6h1.1v1.1h-1.1zM71.6 183.7h1.1v1.1h-1.1zM73.4 176.4h1.1v1.1h-1.1zM81.8 180.0h1.1v1.1h-1.1zM69.3 178.0h1.1v1.1h-1.1zM78.3 184.9h1.1v1.1h-1.1zM68.0 173.1h1.1v1.1h-1.1zM84.5 171.6h1.1v1.1h-1.1zM70.4 179.4h1.1v1.1h-1.1zM81.7 176.6h1.1v1.1h-1.1zM68.0 184.9h1.1v1.1h-1.1zM73.6 176.1h1.1v1.1h-1.1zM66.2 179.6h1.1v1.1h-1.1zM77.0 184.9h1.1v1.1h-1.1zM75.0 184.7h1.1v1.1h-1.1zM66.0 184.7h1.1v1.1h-1.1zM72.7 192.0h1.1v1.1h-1.1zM74.7 174.4h1.1v1.1h-1.1zM71.7 187.7h1.1v1.1h-1.1zM80.4 174.1h1.1v1.1h-1.1zM82.5 178.2h1.1v1.1h-1.1zM83.0 179.7h1.1v1.1h-1.1zM68.3 192.5h1.1v1.1h-1.1zM80.5 176.2h1.1v1.1h-1.1zM82.9 178.9h1.1v1.1h-1.1zM80.5 174.9h1.1v1.1h-1.1zM77.8 177.2h1.1v1.1h-1.1zM79.6 180.4h1.1v1.1h-1.1zM84.0 176.7h1.1v1.1h-1.1zM76.3 185.2h1.1v1.1h-1.1zM78.1 190.6h1.1v1.1h-1.1zM75.9 180.8h1.1v1.1h-1.1zM72.2 171.5h1.1v1.1h-1.1zM78.1 173.4h1.1v1.1h-1.1zM67.1 187.8h1.1v1.1h-1.1zM66.5 178.2h1.1v1.1h-1.1zM74.8 176.6h1.1v1.1h-1.1zM74.0 187.8h1.1v1.1h-1.1zM69.3 185.6h1.1v1.1h-1.1zM68.3 187.8h1.1v1.1h-1.1zM70.4 181.3h1.1v1.1h-1.1zM63.7 185.6h1.1v1.1h-1.1zM63.7 178.1h1.1v1.1h-1.1zM77.5 186.0h1.1v1.1h-1.1zM68.1 182.9h1.1v1.1h-1.1zM69.7 175.3h1.1v1.1h-1.1zM68.8 180.3h1.1v1.1h-1.1zM86.6 187.6h1.1v1.1h-1.1zM81.0 180.1h1.1v1.1h-1.1zM82.0 180.2h1.1v1.1h-1.1zM75.7 190.1h1.1v1.1h-1.1zM82.9 176.1h1.1v1.1h-1.1zM78.0 191.4h1.1v1.1h-1.1zM73.5 184.7h1.1v1.1h-1.1zM64.8 184.5h1.1v1.1h-1.1zM64.5 179.8h1.1v1.1h-1.1zM70.1 176.1h1.1v1.1h-1.1zM85.3 180.6h1.1v1.1h-1.1zM68.9 186.6h1.1v1.1h-1.1zM71.9 178.3h1.1v1.1h-1.1zM74.5 181.3h1.1v1.1h-1.1zM63.0 176.3h1.1v1.1h-1.1zM75.4 176.3h1.1v1.1h-1.1zM75.6 177.4h1.1v1.1h-1.1zM76.1 174.7h1.1v1.1h-1.1zM80.0 191.3h1.1v1.1h-1.1zM64.1 187.7h1.1v1.1h-1.1zM83.2 178.9h1.1v1.1h-1.1zM81.4 172.8h1.1v1.1h-1.1zM75.2 182.3h1.1v1.1h-1.1zM63.9 181.8h1.1v1.1h-1.1zM82.2 177.2h1.1v1.1h-1.1zM79.1 185.5h1.1v1.1h-1.1zM84.1 175.9h1.1v1.1h-1.1zM82.4 178.7h1.1v1.1h-1.1zM82.0 188.1h1.1v1.1h-1.1zM85.8 178.0h1.1v1.1h-1.1zM67.9 185.5h1.1v1.1h-1.1zM70.0 191.5h1.1v1.1h-1.1zM78.5 173.1h1.1v1.1h-1.1zM78.0 173.1h1.1v1.1h-1.1zM80.0 179.6h1.1v1.1h-1.1zM70.9 179.3h1.1v1.1h-1.1zM78.1 171.6h1.1v1.1h-1.1zM78.4 166.9h1.1v1.1h-1.1zM78.1 179.3h1.1v1.1h-1.1zM72.8 183.9h1.1v1.1h-1.1zM73.4 187.2h1.1v1.1h-1.1zM75.6 170.8h1.1v1.1h-1.1zM66.9 179.9h1.1v1.1h-1.1zM78.1 171.6h1.1v1.1h-1.1zM72.9 171.0h1.1v1.1h-1.1zM73.2 184.0h1.1v1.1h-1.1zM82.6 186.5h1.1v1.1h-1.1zM76.0 175.3h1.1v1.1h-1.1zM63.0 179.0h1.1v1.1h-1.1zM71.5 177.7h1.1v1.1h-1.1zM81.9 178.3h1.1v1.1h-1.1zM74.7 191.5h1.1v1.1h-1.1zM76.4 186.5h1.1v1.1h-1.1zM68.1 186.9h1.1v1.1h-1.1zM83.9 180.2h1.1v1.1h-1.1zM81.9 188.2h1.1v1.1h-1.1zM77.8 185.4h1.1v1.1h-1.1zM70.3 187.2h1.1v1.1h-1.1zM78.7 176.4h1.1v1.1h-1.1zM64.1 181.2h1.1v1.1h-1.1zM69.7 183.1h1.1v1.1h-1.1zM73.5 182.9h1.1v1.1h-1.1zM67.5 180.9h1.1v1.1h-1.1zM82.6 182.7h1.1v1.1h-1.1zM73.5 184.2h1.1v1.1h-1.1zM68.1 175.9h1.1v1.1h-1.1zM86.4 181.3h1.1v1.1h-1.1zM78.4 180.4h1.1v1.1h-1.1zM76.5 181.8h1.1v1.1h-1.1zM85.0 177.6h1.1v1.1h-1.1zM68.7 183.7h1.1v1.1h-1.1zM76.0 188.8h1.1v1.1h-1.1zM77.1 175.8h1.1v1.1h-1.1zM72.5 189.8h1.1v1.1h-1.1zM73.8 170.2h1.1v1.1h-1.1zM85.9 180.3h1.1v1.1h-1.1zM85.1 186.1h1.1v1.1h-1.1zM77.1 173.9h1.1v1.1h-1.1zM81.5 183.2h1.1v1.1h-1.1zM62.9 185.8h1.1v1.1h-1.1zM77.6 180.7h1.1v1.1h-1.1zM86.6 183.9h1.1v1.1h-1.1zM80.0 182.4h1.1v1.1h-1.1zM71.1 182.1h1.1v1.1h-1.1zM85.3 180.6h1.1v1.1h-1.1zM70.7 179.3h1.1v1.1h-1.1zM82.1 181.1h1.1v1.1h-1.1zM57.9 182.5h1.1v1.1h-1.1zM73.7 191.8h1.1v1.1h-1.1zM80.9 182.0h1.1v1.1h-1.1zM75.9 183.9h1.1v1.1h-1.1zM69.5 185.4h1.1v1.1h-1.1zM75.0 170.8h1.1v1.1h-1.1zM67.6 188.4h1.1v1.1h-1.1zM72.6 183.1h1.1v1.1h-1.1zM70.6 176.8h1.1v1.1h-1.1zM78.5 188.3h1.1v1.1h-1.1zM72.4 191.8h1.1v1.1h-1.1zM75.6 180.4h1.1v1.1h-1.1zM86.5 185.7h1.1v1.1h-1.1zM85.3 173.8h1.1v1.1h-1.1zM78.2 192.6h1.1v1.1h-1.1zM73.5 174.3h1.1v1.1h-1.1zM76.4 189.4h1.1v1.1h-1.1zM67.1 182.2h1.1v1.1h-1.1zM72.3 184.7h1.1v1.1h-1.1zM82.0 179.0h1.1v1.1h-1.1zM83.4 180.8h1.1v1.1h-1.1zM63.8 180.6h1.1v1.1h-1.1zM65.7 176.8h1.1v1.1h-1.1zM73.6 174.7h1.1v1.1h-1.1zM79.4 173.9h1.1v1.1h-1.1zM72.8 181.8h1.1v1.1h-1.1zM73.9 178.9h1.1v1.1h-1.1zM73.5 177.3h1.1v1.1h-1.1zM72.6 187.0h1.1v1.1h-1.1zM85.7 185.8h1.1v1.1h-1.1zM70.3 181.1h1.1v1.1h-1.1zM73.7 178.8h1.1v1.1h-1.1zM82.0 187.3h1.1v1.1h-1.1zM73.9 182.9h1.1v1.1h-1.1zM78.7 188.6h1.1v1.1h-1.1zM73.2 190.6h1.1v1.1h-1.1zM77.5 186.9h1.1v1.1h-1.1zM76.9 172.2h1.1v1.1h-1.1zM73.0 173.2h1.1v1.1h-1.1zM74.5 174.6h1.1v1.1h-1.1zM65.5 177.3h1.1v1.1h-1.1zM73.1 180.0h1.1v1.1h-1.1zM74.4 175.6h1.1v1.1h-1.1zM69.8 168.3h1.1v1.1h-1.1zM74.4 168.9h1.1v1.1h-1.1zM73.4 181.5h1.1v1.1h-1.1zM79.0 183.0h1.1v1.1h-1.1zM80.2 177.2h1.1v1.1h-1.1zM76.4 180.3h1.1v1.1h-1.1zM73.8 193.1h1.1v1.1h-1.1zM82.2 174.8h1.1v1.1h-1.1zM75.5 176.7h1.1v1.1h-1.1zM75.3 175.9h1.1v1.1h-1.1zM67.2 173.9h1.1v1.1h-1.1zM84.3 175.7h1.1v1.1h-1.1zM70.9 171.5h1.1v1.1h-1.1zM65.9 180.2h1.1v1.1h-1.1zM76.3 189.4h1.1v1.1h-1.1zM68.0 189.0h1.1v1.1h-1.1zM75.4 183.0h1.1v1.1h-1.1zM65.4 189.7h1.1v1.1h-1.1zM74.4 179.3h1.1v1.1h-1.1zM85.4 176.8h1.1v1.1h-1.1zM81.3 181.6h1.1v1.1h-1.1zM81.3 177.8h1.1v1.1h-1.1zM74.4 177.5h1.1v1.1h-1.1zM78.6 183.6h1.1v1.1h-1.1zM73.5 190.4h1.1v1.1h-1.1zM86.3 181.6h1.1v1.1h-1.1zM89.1 176.1h1.1v1.1h-1.1zM83.8 176.1h1.1v1.1h-1.1zM78.3 180.9h1.1v1.1h-1.1zM83.0 184.0h1.1v1.1h-1.1zM81.0 178.6h1.1v1.1h-1.1zM81.5 181.7h1.1v1.1h-1.1zM74.5 186.8h1.1v1.1h-1.1zM76.4 182.6h1.1v1.1h-1.1zM79.4 176.3h1.1v1.1h-1.1zM71.3 179.8h1.1v1.1h-1.1zM72.8 176.8h1.1v1.1h-1.1zM81.1 182.8h1.1v1.1h-1.1zM68.3 171.7h1.1v1.1h-1.1zM80.0 186.5h1.1v1.1h-1.1zM72.7 192.6h1.1v1.1h-1.1zM78.3 177.7h1.1v1.1h-1.1zM77.9 182.2h1.1v1.1h-1.1zM77.2 179.0h1.1v1.1h-1.1zM73.5 174.5h1.1v1.1h-1.1zM71.0 169.8h1.1v1.1h-1.1zM69.0 182.8h1.1v1.1h-1.1zM78.1 175.1h1.1v1.1h-1.1zM70.9 189.3h1.1v1.1h-1.1zM65.9 180.1h1.1v1.1h-1.1zM65.6 181.0h1.1v1.1h-1.1zM72.2 183.1h1.1v1.1h-1.1zM69.2 181.9h1.1v1.1h-1.1zM69.6 186.0h1.1v1.1h-1.1zM66.9 187.4h1.1v1.1h-1.1zM71.8 188.2h1.1v1.1h-1.1zM74.7 181.4h1.1v1.1h-1.1zM73.6 175.3h1.1v1.1h-1.1zM71.6 177.7h1.1v1.1h-1.1zM80.3 178.8h1.1v1.1h-1.1zM82.9 174.4h1.1v1.1h-1.1zM71.6 183.0h1.1v1.1h-1.1zM85.9 183.3h1.1v1.1h-1.1zM74.4 187.3h1.1v1.1h-1.1zM72.2 175.9h1.1v1.1h-1.1zM71.3 185.2h1.1v1.1h-1.1zM67.8 174.4h1.1v1.1h-1.1zM82.6 178.9h1.1v1.1h-1.1zM84.8 182.0h1.1v1.1h-1.1zM72.4 187.7h1.1v1.1h-1.1zM67.9 184.8h1.1v1.1h-1.1zM79.7 173.0h1.1v1.1h-1.1zM77.3 172.7h1.1v1.1h-1.1zM85.1 177.4h1.1v1.1h-1.1zM82.6 176.1h1.1v1.1h-1.1zM76.1 185.7h1.1v1.1h-1.1zM72.7 181.5h1.1v1.1h-1.1zM68.5 180.9h1.1v1.1h-1.1zM74.3 179.7h1.1v1.1h-1.1zM81.2 187.9h1.1v1.1h-1.1zM68.0 177.9h1.1v1.1h-1.1zM76.6 178.7h1.1v1.1h-1.1zM72.9 182.3h1.1v1.1h-1.1zM83.4 183.0h1.1v1.1h-1.1zM77.5 175.3h1.1v1.1h-1.1zM73.5 171.7h1.1v1.1h-1.1zM75.6 184.4h1.1v1.1h-1.1zM85.2 183.6h1.1v1.1h-1.1zM81.0 179.9h1.1v1.1h-1.1zM75.8 186.5h1.1v1.1h-1.1zM75.6 188.0h1.1v1.1h-1.1zM89.8 179.7h1.1v1.1h-1.1zM72.7 187.8h1.1v1.1h-1.1zM77.4 185.1h1.1v1.1h-1.1zM70.8 175.8h1.1v1.1h-1.1zM75.1 172.3h1.1v1.1h-1.1zM74.2 175.6h1.1v1.1h-1.1zM82.5 175.3h1.1v1.1h-1.1zM73.2 188.2h1.1v1.1h-1.1zM71.3 179.2h1.1v1.1h-1.1zM76.3 175.0h1.1v1.1h-1.1zM85.5 173.8h1.1v1.1h-1.1zM79.9 185.3h1.1v1.1h-1.1zM66.7 181.0h1.1v1.1h-1.1zM73.2 186.0h1.1v1.1h-1.1zM74.9 186.6h1.1v1.1h-1.1zM77.4 172.6h1.1v1.1h-1.1zM67.2 179.7h1.1v1.1h-1.1zM71.8 176.1h1.1v1.1h-1.1zM76.1 190.4h1.1v1.1h-1.1zM80.6 187.9h1.1v1.1h-1.1zM67.5 178.5h1.1v1.1h-1.1zM76.1 188.1h1.1v1.1h-1.1zM79.3 183.3h1.1v1.1h-1.1zM79.6 187.1h1.1v1.1h-1.1zM74.5 172.6h1.1v1.1h-1.1zM78.0 185.3h1.1v1.1h-1.1zM72.3 189.8h1.1v1.1h-1.1zM74.1 192.4h1.1v1.1h-1.1zM78.4 183.4h1.1v1.1h-1.1zM68.1 170.2h1.1v1.1h-1.1zM70.6 180.3h1.1v1.1h-1.1zM84.6 179.7h1.1v1.1h-1.1zM78.1 184.0h1.1v1.1h-1.1zM71.6 188.7h1.1v1.1h-1.1zM76.1 179.7h1.1v1.1h-1.1zM78.4 175.7h1.1v1.1h-1.1zM79.4 181.4h1.1v1.1h-1.1zM79.4 178.7h1.1v1.1h-1.1zM80.1 179.9h1.1v1.1h-1.1zM78.4 179.7h1.1v1.1h-1.1zM86.7 186.5h1.1v1.1h-1.1zM73.5 178.0h1.1v1.1h-1.1zM69.0 181.8h1.1v1.1h-1.1zM80.5 188.8h1.1v1.1h-1.1zM70.9 176.8h1.1v1.1h-1.1zM78.1 181.5h1.1v1.1h-1.1zM70.3 175.1h1.1v1.1h-1.1zM80.0 188.5h1.1v1.1h-1.1zM79.1 184.4h1.1v1.1h-1.1zM68.3 177.5h1.1v1.1h-1.1zM81.2 189.3h1.1v1.1h-1.1zM77.9 178.7h1.1v1.1h-1.1zM65.0 186.4h1.1v1.1h-1.1zM71.1 184.5h1.1v1.1h-1.1zM71.8 172.5h1.1v1.1h-1.1zM75.8 184.8h1.1v1.1h-1.1zM65.7 180.4h1.1v1.1h-1.1zM82.8 175.5h1.1v1.1h-1.1zM81.9 180.0h1.1v1.1h-1.1zM71.8 181.3h1.1v1.1h-1.1zM74.1 184.0h1.1v1.1h-1.1zM71.0 177.8h1.1v1.1h-1.1zM64.9 177.8h1.1v1.1h-1.1zM72.7 174.6h1.1v1.1h-1.1zM76.1 181.8h1.1v1.1h-1.1zM77.4 176.9h1.1v1.1h-1.1zM84.2 182.7h1.1v1.1h-1.1zM63.4 180.9h1.1v1.1h-1.1zM65.8 175.5h1.1v1.1h-1.1zM74.3 176.2h1.1v1.1h-1.1zM76.2 177.4h1.1v1.1h-1.1zM71.5 173.4h1.1v1.1h-1.1zM82.1 179.6h1.1v1.1h-1.1z" fill="#2c2c9e" opacity="1.0"/>
<text transform="translate(16.2,180.4) rotate(-90)" font-size="9" fill="#444" text-anchor="middle" textLength="15.8" lengthAdjust="spacingAndGlyphs">PC3</text>
<text transform="translate(40.2,224) rotate(22)" font-size="9" fill="#444" text-anchor="middle" textLength="15.5" lengthAdjust="spacingAndGlyphs">PC1</text>
<text transform="translate(94.6,221.8) rotate(-36)" font-size="9" fill="#444" text-anchor="middle" textLength="15.5" lengthAdjust="spacingAndGlyphs">PC2</text>
<rect x="118.7" y="13.6" width="180.8" height="215.7" fill="#f7f7f7" stroke="#6e6e6e" stroke-width="1.2" />
<text x="257.6" y="23.3" font-size="7.8" fill="#777777" text-anchor="start" stroke="#777777" stroke-width="0.2" textLength="32.4" lengthAdjust="spacingAndGlyphs" >PCA space</text>
<text x="133.5" y="37" font-size="8.2" fill="#111" stroke="#111" stroke-width="0.25" textLength="11.8" lengthAdjust="spacingAndGlyphs">PC1</text>
<rect x="142" y="51" width="5.5" height="5.1" fill="#b8282e" stroke="#ffffff" stroke-width="0.35" stroke-opacity="0.35"/>
<rect x="147.5" y="39.1" width="5.5" height="17" fill="#b8282e" stroke="#ffffff" stroke-width="0.35" stroke-opacity="0.35"/>
<rect x="152.9" y="44.1" width="5.5" height="12" fill="#b8282e" stroke="#ffffff" stroke-width="0.35" stroke-opacity="0.35"/>
<rect x="158.4" y="51" width="5.5" height="5.1" fill="#b8282e" stroke="#ffffff" stroke-width="0.35" stroke-opacity="0.35"/>
<rect x="163.9" y="37.4" width="5.5" height="18.7" fill="#b8282e" stroke="#ffffff" stroke-width="0.35" stroke-opacity="0.35"/>
<rect x="169.3" y="39.1" width="5.5" height="17" fill="#b8282e" stroke="#ffffff" stroke-width="0.35" stroke-opacity="0.35"/>
<rect x="176.4" y="39.1" width="5.5" height="17" fill="#ec8f98" stroke="#ffffff" stroke-width="0.35" stroke-opacity="0.35"/>
<rect x="181.9" y="43.2" width="5.5" height="12.9" fill="#ec8f98" stroke="#ffffff" stroke-width="0.35" stroke-opacity="0.35"/>
<rect x="187.3" y="43.2" width="5.5" height="12.9" fill="#ec8f98" stroke="#ffffff" stroke-width="0.35" stroke-opacity="0.35"/>
<rect x="192.8" y="48.2" width="5.5" height="7.9" fill="#ec8f98" stroke="#ffffff" stroke-width="0.35" stroke-opacity="0.35"/>
<rect x="198.3" y="49.9" width="5.5" height="6.2" fill="#ec8f98" stroke="#ffffff" stroke-width="0.35" stroke-opacity="0.35"/>
<rect x="203.8" y="51" width="5.5" height="5.1" fill="#ec8f98" stroke="#ffffff" stroke-width="0.35" stroke-opacity="0.35"/>
<rect x="209.4" y="56.1" width="5.4" height="4.6" fill="#1b1b8c" stroke="#ffffff" stroke-width="0.35" stroke-opacity="0.35"/>
<rect x="214.8" y="56.1" width="5.4" height="4.6" fill="#1b1b8c" stroke="#ffffff" stroke-width="0.35" stroke-opacity="0.35"/>
<rect x="220.3" y="56.1" width="5.4" height="4.6" fill="#1b1b8c" stroke="#ffffff" stroke-width="0.35" stroke-opacity="0.35"/>
<rect x="225.7" y="56.1" width="5.4" height="6.3" fill="#1b1b8c" stroke="#ffffff" stroke-width="0.35" stroke-opacity="0.35"/>
<rect x="231.1" y="56.1" width="5.4" height="10.4" fill="#1b1b8c" stroke="#ffffff" stroke-width="0.35" stroke-opacity="0.35"/>
<rect x="236.6" y="56.1" width="5.4" height="19.8" fill="#1b1b8c" stroke="#ffffff" stroke-width="0.35" stroke-opacity="0.35"/>
<rect x="244.9" y="56.1" width="5.4" height="19.8" fill="#7eafd6" stroke="#ffffff" stroke-width="0.35" stroke-opacity="0.35"/>
<rect x="250.3" y="56.1" width="5.4" height="17.7" fill="#7eafd6" stroke="#ffffff" stroke-width="0.35" stroke-opacity="0.35"/>
<rect x="255.7" y="56.1" width="5.4" height="13.5" fill="#7eafd6" stroke="#ffffff" stroke-width="0.35" stroke-opacity="0.35"/>
<rect x="261.1" y="56.1" width="5.4" height="8.8" fill="#7eafd6" stroke="#ffffff" stroke-width="0.35" stroke-opacity="0.35"/>
<rect x="266.5" y="56.1" width="5.4" height="8.8" fill="#7eafd6" stroke="#ffffff" stroke-width="0.35" stroke-opacity="0.35"/>
<rect x="271.9" y="56.1" width="5.4" height="6.3" fill="#7eafd6" stroke="#ffffff" stroke-width="0.35" stroke-opacity="0.35"/>
<line x1="136.8" y1="56.1" x2="283.8" y2="56.1" stroke="#6a6a6a" stroke-width="1.1" />
<line x1="159.7" y1="60.8" x2="190.3" y2="60.8" stroke="#e05a5a" stroke-width="0.5" />
<path d="M159.7 60.8 l2 -1 v2 z M190.3 60.8 l-2 -1 v2 z" fill="#e05a5a"/>
<rect x="156.4" y="59.2" width="3.2" height="3.2" fill="#b8282e" stroke="none" stroke-width="1" />
<rect x="190.4" y="59.2" width="3.2" height="3.2" fill="#ec8f98" stroke="none" stroke-width="1" />
<text x="174.6" y="66.6" font-size="7.4" fill="#222" text-anchor="start" font-style="italic" >r</text>
<line x1="226.7" y1="50.8" x2="257.6" y2="50.8" stroke="#5a6aa8" stroke-width="0.5" />
<path d="M226.7 50.8 l2 -1 v2 z M257.6 50.8 l-2 -1 v2 z" fill="#5a6aa8"/>
<rect x="223.4" y="49.2" width="3.2" height="3.2" fill="#3a3aa8" stroke="none" stroke-width="1" />
<rect x="257.7" y="49.2" width="3.2" height="3.2" fill="#7eafd6" stroke="none" stroke-width="1" />
<text x="241.2" y="46.7" font-size="7.4" fill="#222" text-anchor="start" font-style="italic" >r</text>
<text x="133.5" y="87.3" font-size="8.2" fill="#111" stroke="#111" stroke-width="0.25" textLength="11.8" lengthAdjust="spacingAndGlyphs">PC2</text>
<rect x="142" y="103.5" width="5.5" height="6.4" fill="#b8282e" stroke="#ffffff" stroke-width="0.35" stroke-opacity="0.35"/>
<rect x="147.5" y="99.7" width="5.5" height="10.2" fill="#b8282e" stroke="#ffffff" stroke-width="0.35" stroke-opacity="0.35"/>
<rect x="152.9" y="88" width="5.5" height="21.9" fill="#b8282e" stroke="#ffffff" stroke-width="0.35" stroke-opacity="0.35"/>
<rect x="158.4" y="103.5" width="5.5" height="6.4" fill="#b8282e" stroke="#ffffff" stroke-width="0.35" stroke-opacity="0.35"/>
<rect x="163.9" y="105.7" width="5.5" height="4.2" fill="#b8282e" stroke="#ffffff" stroke-width="0.35" stroke-opacity="0.35"/>
<rect x="169.3" y="101.9" width="5.5" height="8" fill="#b8282e" stroke="#ffffff" stroke-width="0.35" stroke-opacity="0.35"/>
<rect x="176.4" y="104.1" width="5.5" height="5.8" fill="#ec8f98" stroke="#ffffff" stroke-width="0.35" stroke-opacity="0.35"/>
<rect x="181.9" y="104.1" width="5.5" height="5.8" fill="#ec8f98" stroke="#ffffff" stroke-width="0.35" stroke-opacity="0.35"/>
<rect x="187.3" y="99.4" width="5.5" height="10.5" fill="#ec8f98" stroke="#ffffff" stroke-width="0.35" stroke-opacity="0.35"/>
<rect x="192.8" y="103.1" width="5.5" height="6.8" fill="#ec8f98" stroke="#ffffff" stroke-width="0.35" stroke-opacity="0.35"/>
<rect x="198.3" y="105" width="5.5" height="4.9" fill="#ec8f98" stroke="#ffffff" stroke-width="0.35" stroke-opacity="0.35"/>
<rect x="203.8" y="105" width="5.5" height="4.9" fill="#ec8f98" stroke="#ffffff" stroke-width="0.35" stroke-opacity="0.35"/>
<rect x="209.4" y="109.9" width="5.4" height="5.5" fill="#1b1b8c" stroke="#ffffff" stroke-width="0.35" stroke-opacity="0.35"/>
<rect x="214.8" y="109.9" width="5.4" height="4" fill="#1b1b8c" stroke="#ffffff" stroke-width="0.35" stroke-opacity="0.35"/>
<rect x="220.3" y="109.9" width="5.4" height="4" fill="#1b1b8c" stroke="#ffffff" stroke-width="0.35" stroke-opacity="0.35"/>
<rect x="225.7" y="109.9" width="5.4" height="4" fill="#1b1b8c" stroke="#ffffff" stroke-width="0.35" stroke-opacity="0.35"/>
<rect x="231.1" y="109.9" width="5.4" height="6.1" fill="#1b1b8c" stroke="#ffffff" stroke-width="0.35" stroke-opacity="0.35"/>
<rect x="236.6" y="109.9" width="5.4" height="10.2" fill="#1b1b8c" stroke="#ffffff" stroke-width="0.35" stroke-opacity="0.35"/>
<rect x="244.9" y="109.9" width="5.4" height="6.1" fill="#7eafd6" stroke="#ffffff" stroke-width="0.35" stroke-opacity="0.35"/>
<rect x="250.3" y="109.9" width="5.4" height="10.2" fill="#7eafd6" stroke="#ffffff" stroke-width="0.35" stroke-opacity="0.35"/>
<rect x="255.7" y="109.9" width="5.4" height="12.3" fill="#7eafd6" stroke="#ffffff" stroke-width="0.35" stroke-opacity="0.35"/>
<rect x="261.1" y="109.9" width="5.4" height="5.5" fill="#7eafd6" stroke="#ffffff" stroke-width="0.35" stroke-opacity="0.35"/>
<rect x="266.5" y="109.9" width="5.4" height="4" fill="#7eafd6" stroke="#ffffff" stroke-width="0.35" stroke-opacity="0.35"/>
<rect x="271.9" y="109.9" width="5.4" height="7.8" fill="#7eafd6" stroke="#ffffff" stroke-width="0.35" stroke-opacity="0.35"/>
<line x1="136.8" y1="109.9" x2="283.8" y2="109.9" stroke="#6a6a6a" stroke-width="1.1" />
<line x1="159.7" y1="114.3" x2="190.3" y2="114.3" stroke="#e05a5a" stroke-width="0.5" />
<path d="M159.7 114.3 l2 -1 v2 z M190.3 114.3 l-2 -1 v2 z" fill="#e05a5a"/>
<rect x="156.4" y="112.7" width="3.2" height="3.2" fill="#b8282e" stroke="none" stroke-width="1" />
<rect x="190.4" y="112.7" width="3.2" height="3.2" fill="#ec8f98" stroke="none" stroke-width="1" />
<text x="174.6" y="120.1" font-size="7.4" fill="#222" text-anchor="start" font-style="italic" >r</text>
<line x1="226.7" y1="104.6" x2="257.6" y2="104.6" stroke="#5a6aa8" stroke-width="0.5" />
<path d="M226.7 104.6 l2 -1 v2 z M257.6 104.6 l-2 -1 v2 z" fill="#5a6aa8"/>
<rect x="223.4" y="103" width="3.2" height="3.2" fill="#3a3aa8" stroke="none" stroke-width="1" />
<rect x="257.7" y="103" width="3.2" height="3.2" fill="#7eafd6" stroke="none" stroke-width="1" />
<text x="241.2" y="100.5" font-size="7.4" fill="#222" text-anchor="start" font-style="italic" >r</text>
<text x="136.2" y="138.2" font-size="8" fill="#222">...</text>
<text x="133.4" y="152.4" font-size="8.2" fill="#111" stroke="#111" stroke-width="0.25" textLength="12.2" lengthAdjust="spacingAndGlyphs">PC<tspan font-style="italic">k</tspan></text>
<rect x="142" y="164.4" width="5.5" height="6.7" fill="#b8282e" stroke="#ffffff" stroke-width="0.35" stroke-opacity="0.35"/>
<rect x="147.5" y="166.9" width="5.5" height="4.2" fill="#b8282e" stroke="#ffffff" stroke-width="0.35" stroke-opacity="0.35"/>
<rect x="152.9" y="166.9" width="5.5" height="4.2" fill="#b8282e" stroke="#ffffff" stroke-width="0.35" stroke-opacity="0.35"/>
<rect x="158.4" y="166.9" width="5.5" height="4.2" fill="#b8282e" stroke="#ffffff" stroke-width="0.35" stroke-opacity="0.35"/>
<rect x="163.9" y="165.5" width="5.5" height="5.6" fill="#b8282e" stroke="#ffffff" stroke-width="0.35" stroke-opacity="0.35"/>
<rect x="169.3" y="164" width="5.5" height="7.1" fill="#b8282e" stroke="#ffffff" stroke-width="0.35" stroke-opacity="0.35"/>
<rect x="176.4" y="142" width="5.5" height="29.1" fill="#ec8f98" stroke="#ffffff" stroke-width="0.35" stroke-opacity="0.35"/>
<rect x="181.9" y="164.4" width="5.5" height="6.7" fill="#ec8f98" stroke="#ffffff" stroke-width="0.35" stroke-opacity="0.35"/>
<rect x="187.3" y="166.9" width="5.5" height="4.2" fill="#ec8f98" stroke="#ffffff" stroke-width="0.35" stroke-opacity="0.35"/>
<rect x="192.8" y="162.8" width="5.5" height="8.3" fill="#ec8f98" stroke="#ffffff" stroke-width="0.35" stroke-opacity="0.35"/>
<rect x="198.3" y="166.9" width="5.5" height="4.2" fill="#ec8f98" stroke="#ffffff" stroke-width="0.35" stroke-opacity="0.35"/>
<rect x="203.8" y="166.9" width="5.5" height="4.2" fill="#ec8f98" stroke="#ffffff" stroke-width="0.35" stroke-opacity="0.35"/>
<rect x="209.4" y="171.1" width="5.4" height="5.2" fill="#1b1b8c" stroke="#ffffff" stroke-width="0.35" stroke-opacity="0.35"/>
<rect x="214.8" y="171.1" width="5.4" height="5.2" fill="#1b1b8c" stroke="#ffffff" stroke-width="0.35" stroke-opacity="0.35"/>
<rect x="220.3" y="171.1" width="5.4" height="9.9" fill="#1b1b8c" stroke="#ffffff" stroke-width="0.35" stroke-opacity="0.35"/>
<rect x="225.7" y="171.1" width="5.4" height="6.2" fill="#1b1b8c" stroke="#ffffff" stroke-width="0.35" stroke-opacity="0.35"/>
<rect x="231.1" y="171.1" width="5.4" height="4.1" fill="#1b1b8c" stroke="#ffffff" stroke-width="0.35" stroke-opacity="0.35"/>
<rect x="236.6" y="171.1" width="5.4" height="4.1" fill="#1b1b8c" stroke="#ffffff" stroke-width="0.35" stroke-opacity="0.35"/>
<rect x="244.9" y="171.1" width="5.4" height="7.3" fill="#7eafd6" stroke="#ffffff" stroke-width="0.35" stroke-opacity="0.35"/>
<rect x="250.3" y="171.1" width="5.4" height="4.1" fill="#7eafd6" stroke="#ffffff" stroke-width="0.35" stroke-opacity="0.35"/>
<rect x="255.7" y="171.1" width="5.4" height="6.2" fill="#7eafd6" stroke="#ffffff" stroke-width="0.35" stroke-opacity="0.35"/>
<rect x="261.1" y="171.1" width="5.4" height="2.1" fill="#7eafd6" stroke="#ffffff" stroke-width="0.35" stroke-opacity="0.35"/>
<rect x="266.5" y="171.1" width="5.4" height="3.1" fill="#7eafd6" stroke="#ffffff" stroke-width="0.35" stroke-opacity="0.35"/>
<rect x="271.9" y="171.1" width="5.4" height="5.2" fill="#7eafd6" stroke="#ffffff" stroke-width="0.35" stroke-opacity="0.35"/>
<line x1="136.8" y1="171.1" x2="283.8" y2="171.1" stroke="#6a6a6a" stroke-width="1.1" />
<line x1="159.7" y1="175.2" x2="190.3" y2="175.2" stroke="#e05a5a" stroke-width="0.5" />
<path d="M159.7 175.2 l2 -1 v2 z M190.3 175.2 l-2 -1 v2 z" fill="#e05a5a"/>
<rect x="156.4" y="173.6" width="3.2" height="3.2" fill="#b8282e" stroke="none" stroke-width="1" />
<rect x="190.4" y="173.6" width="3.2" height="3.2" fill="#ec8f98" stroke="none" stroke-width="1" />
<text x="174.6" y="181" font-size="7.4" fill="#222" text-anchor="start" font-style="italic" >r</text>
<line x1="226.7" y1="165.5" x2="257.6" y2="165.5" stroke="#5a6aa8" stroke-width="0.5" />
<path d="M226.7 165.5 l2 -1 v2 z M257.6 165.5 l-2 -1 v2 z" fill="#5a6aa8"/>
<rect x="223.4" y="163.9" width="3.2" height="3.2" fill="#3a3aa8" stroke="none" stroke-width="1" />
<rect x="257.7" y="163.9" width="3.2" height="3.2" fill="#7eafd6" stroke="none" stroke-width="1" />
<text x="241.2" y="161.4" font-size="7.4" fill="#222" text-anchor="start" font-style="italic" >r</text>
<path d="M175 190.4 V196.9 H242.8 V190.4" fill="none" stroke="#9a9a9a" stroke-width="1"/>
<text x="209.7" y="209.4" font-size="8.2" fill="#1a1a1a" text-anchor="middle" stroke="#1a1a1a" stroke-width="0.2" font-style="italic" textLength="37" lengthAdjust="spacingAndGlyphs" >comparison</text>
<path d="M23.7 268.7 H16.3 V349.2 H23.7 M61.2 268.7 H68.8 V349.2 H61.2" fill="none" stroke="#444" stroke-width="0.9"/>
<text x="42.4" y="274.4" font-size="9.6" fill="#e52020" text-anchor="middle" font-weight="bold" textLength="17" lengthAdjust="spacingAndGlyphs" >HSC</text>
<text x="43" y="282.3" font-size="7.2" fill="#1a1a1a" text-anchor="middle" stroke="#1a1a1a" stroke-width="0.2" textLength="26" lengthAdjust="spacingAndGlyphs" >Learning</text>
<rect x="30" y="284.4" width="8.6" height="8.6" fill="#efdcdc" stroke="none" stroke-width="1" />
<rect x="38.5" y="284.4" width="8.6" height="8.6" fill="#d9a2a2" stroke="none" stroke-width="1" />
<rect x="47" y="284.4" width="8.6" height="8.6" fill="#c77272" stroke="none" stroke-width="1" />
<rect x="30" y="292.9" width="8.6" height="8.6" fill="#ffffff" stroke="none" stroke-width="1" />
<rect x="38.5" y="292.9" width="8.6" height="8.6" fill="#e8c9c9" stroke="none" stroke-width="1" />
<rect x="47" y="292.9" width="8.6" height="8.6" fill="#b03636" stroke="none" stroke-width="1" />
<rect x="30" y="301.4" width="8.6" height="8.6" fill="#d38c8c" stroke="none" stroke-width="1" />
<rect x="38.5" y="301.4" width="8.6" height="8.6" fill="#bb4a4a" stroke="none" stroke-width="1" />
<rect x="47" y="301.4" width="8.6" height="8.6" fill="#ffffff" stroke="none" stroke-width="1" />
<rect x="30" y="284.4" width="25.5" height="25.5" fill="none" stroke="#3a3a3a" stroke-width="0.65" />
<text x="42.8" y="320.2" font-size="7.2" fill="#1a1a1a" text-anchor="middle" stroke="#1a1a1a" stroke-width="0.2" textLength="25" lengthAdjust="spacingAndGlyphs" >Creating</text>
<rect x="30" y="322.3" width="8.6" height="8.6" fill="#c25252" stroke="none" stroke-width="1" />
<rect x="38.5" y="322.3" width="8.6" height="8.6" fill="#c76363" stroke="none" stroke-width="1" />
<rect x="47" y="322.3" width="8.6" height="8.6" fill="#ffffff" stroke="none" stroke-width="1" />
<rect x="30" y="330.8" width="8.6" height="8.6" fill="#d89393" stroke="none" stroke-width="1" />
<rect x="38.5" y="330.8" width="8.6" height="8.6" fill="#f1e2e2" stroke="none" stroke-width="1" />
<rect x="47" y="330.8" width="8.6" height="8.6" fill="#c96b6b" stroke="none" stroke-width="1" />
<rect x="30" y="339.3" width="8.6" height="8.6" fill="#e7c2c2" stroke="none" stroke-width="1" />
<rect x="38.5" y="339.3" width="8.6" height="8.6" fill="#d28383" stroke="none" stroke-width="1" />
<rect x="47" y="339.3" width="8.6" height="8.6" fill="#b13c3c" stroke="none" stroke-width="1" />
<rect x="30" y="322.3" width="25.5" height="25.5" fill="none" stroke="#3a3a3a" stroke-width="0.65" />
<path d="M23.7 383.4 H16.3 V463.1 H23.7 M61.2 383.4 H68.8 V463.1 H61.2" fill="none" stroke="#444" stroke-width="0.9"/>
<text x="41.1" y="388.9" font-size="9.6" fill="#2020e0" text-anchor="middle" font-weight="bold" textLength="14.5" lengthAdjust="spacingAndGlyphs" >LSC</text>
<text x="43" y="397.2" font-size="7.2" fill="#1a1a1a" text-anchor="middle" stroke="#1a1a1a" stroke-width="0.2" textLength="26" lengthAdjust="spacingAndGlyphs" >Learning</text>
<rect x="30" y="400.3" width="8.6" height="8.6" fill="#a9a9d9" stroke="none" stroke-width="1" />
<rect x="38.5" y="400.3" width="8.6" height="8.6" fill="#9a9ad2" stroke="none" stroke-width="1" />
<rect x="47" y="400.3" width="8.6" height="8.6" fill="#c9c9ea" stroke="none" stroke-width="1" />
<rect x="30" y="408.8" width="8.6" height="8.6" fill="#3131a2" stroke="none" stroke-width="1" />
<rect x="38.5" y="408.8" width="8.6" height="8.6" fill="#dcdcf1" stroke="none" stroke-width="1" />
<rect x="47" y="408.8" width="8.6" height="8.6" fill="#6a6ac2" stroke="none" stroke-width="1" />
<rect x="30" y="417.3" width="8.6" height="8.6" fill="#ffffff" stroke="none" stroke-width="1" />
<rect x="38.5" y="417.3" width="8.6" height="8.6" fill="#2b2ba1" stroke="none" stroke-width="1" />
<rect x="47" y="417.3" width="8.6" height="8.6" fill="#a3a3d8" stroke="none" stroke-width="1" />
<rect x="30" y="400.3" width="25.5" height="25.5" fill="none" stroke="#3a3a3a" stroke-width="0.65" />
<text x="42.8" y="434.9" font-size="7.2" fill="#1a1a1a" text-anchor="middle" stroke="#1a1a1a" stroke-width="0.2" textLength="25" lengthAdjust="spacingAndGlyphs" >Creating</text>
<rect x="30" y="436.3" width="8.6" height="8.6" fill="#9292d1" stroke="none" stroke-width="1" />
<rect x="38.5" y="436.3" width="8.6" height="8.6" fill="#5252b9" stroke="none" stroke-width="1" />
<rect x="47" y="436.3" width="8.6" height="8.6" fill="#7a7ac9" stroke="none" stroke-width="1" />
<rect x="30" y="444.8" width="8.6" height="8.6" fill="#ffffff" stroke="none" stroke-width="1" />
<rect x="38.5" y="444.8" width="8.6" height="8.6" fill="#a2a2d9" stroke="none" stroke-width="1" />
<rect x="47" y="444.8" width="8.6" height="8.6" fill="#b3b3e1" stroke="none" stroke-width="1" />
<rect x="30" y="453.3" width="8.6" height="8.6" fill="#5050b8" stroke="none" stroke-width="1" />
<rect x="38.5" y="453.3" width="8.6" height="8.6" fill="#ffffff" stroke="none" stroke-width="1" />
<rect x="47" y="453.3" width="8.6" height="8.6" fill="#2d2da3" stroke="none" stroke-width="1" />
<rect x="30" y="436.3" width="25.5" height="25.5" fill="none" stroke="#3a3a3a" stroke-width="0.65" />
<line x1="70" y1="307.6" x2="79" y2="307.6" stroke="#3a3a3a" stroke-width="1.0" />
<path d="M81.5 307.6 l-3.2 -1.7 v3.4 z" fill="#3a3a3a"/>
<line x1="70" y1="422.4" x2="79" y2="422.4" stroke="#3a3a3a" stroke-width="1.0" />
<path d="M81.5 422.4 l-3.2 -1.7 v3.4 z" fill="#3a3a3a"/>
<line x1="98.5" y1="277.2" x2="98.3" y2="325.3" stroke="#c6c6c6" stroke-width="0.5" />
<line x1="92.5" y1="290.9" x2="122.3" y2="270.4" stroke="#c6c6c6" stroke-width="0.5" />
<line x1="104.5" y1="273.2" x2="104.2" y2="320.8" stroke="#c6c6c6" stroke-width="0.5" />
<line x1="92.5" y1="300.6" x2="122.1" y2="279.6" stroke="#c6c6c6" stroke-width="0.5" />
<line x1="110.4" y1="269.2" x2="110" y2="316.3" stroke="#c6c6c6" stroke-width="0.5" />
<line x1="92.5" y1="310.4" x2="122" y2="288.9" stroke="#c6c6c6" stroke-width="0.5" />
<line x1="116.4" y1="265.2" x2="115.9" y2="311.8" stroke="#c6c6c6" stroke-width="0.5" />
<line x1="92.5" y1="320.1" x2="121.8" y2="298.1" stroke="#c6c6c6" stroke-width="0.5" />
<line x1="131.9" y1="265.2" x2="131.3" y2="311.2" stroke="#c6c6c6" stroke-width="0.5" />
<line x1="122.3" y1="270.4" x2="169.8" y2="290.3" stroke="#c6c6c6" stroke-width="0.5" />
<line x1="141.4" y1="269.2" x2="140.9" y2="315.1" stroke="#c6c6c6" stroke-width="0.5" />
<line x1="122.1" y1="279.6" x2="169.8" y2="299.4" stroke="#c6c6c6" stroke-width="0.5" />
<line x1="150.8" y1="273.2" x2="150.6" y2="319" stroke="#c6c6c6" stroke-width="0.5" />
<line x1="122" y1="288.9" x2="169.8" y2="308.6" stroke="#c6c6c6" stroke-width="0.5" />
<line x1="160.3" y1="277.2" x2="160.2" y2="322.9" stroke="#c6c6c6" stroke-width="0.5" />
<line x1="121.8" y1="298.1" x2="169.8" y2="317.7" stroke="#c6c6c6" stroke-width="0.5" />
<line x1="98.3" y1="325.3" x2="146.4" y2="344.8" stroke="#c6c6c6" stroke-width="0.5" />
<line x1="131.3" y1="311.2" x2="102.1" y2="333.7" stroke="#c6c6c6" stroke-width="0.5" />
<line x1="104.2" y1="320.8" x2="152.3" y2="340.3" stroke="#c6c6c6" stroke-width="0.5" />
<line x1="140.9" y1="315.1" x2="111.7" y2="337.6" stroke="#c6c6c6" stroke-width="0.5" />
<line x1="110" y1="316.3" x2="158.1" y2="335.8" stroke="#c6c6c6" stroke-width="0.5" />
<line x1="150.6" y1="319" x2="121.4" y2="341.5" stroke="#c6c6c6" stroke-width="0.5" />
<line x1="115.9" y1="311.8" x2="164" y2="331.3" stroke="#c6c6c6" stroke-width="0.5" />
<line x1="160.2" y1="322.9" x2="131" y2="345.4" stroke="#c6c6c6" stroke-width="0.5" />
<line x1="92.5" y1="281.2" x2="122.4" y2="261.2" stroke="#cfcfcf" stroke-width="0.6" />
<line x1="122.4" y1="261.2" x2="169.8" y2="281.2" stroke="#cfcfcf" stroke-width="0.6" />
<line x1="122.4" y1="261.2" x2="121.7" y2="307.3" stroke="#cfcfcf" stroke-width="0.6" />
<line x1="121.7" y1="307.3" x2="92.5" y2="329.8" stroke="#cfcfcf" stroke-width="0.6" />
<line x1="121.7" y1="307.3" x2="169.8" y2="326.8" stroke="#cfcfcf" stroke-width="0.6" />
<line x1="169.8" y1="281.2" x2="169.8" y2="326.8" stroke="#cfcfcf" stroke-width="0.6" />
<line x1="92.5" y1="281.2" x2="92.5" y2="329.8" stroke="#555" stroke-width="0.9" />
<line x1="92.5" y1="329.8" x2="140.6" y2="349.3" stroke="#555" stroke-width="0.9" />
<line x1="140.6" y1="349.3" x2="169.8" y2="326.8" stroke="#555" stroke-width="0.9" />
<path d="M107.1 322.3h1.1v1.1h-1.1zM119.2 315.8h1.1v1.1h-1.1zM117.2 314.8h1.1v1.1h-1.1zM117.0 315.7h1.1v1.1h-1.1zM113.9 315.1h1.1v1.1h-1.1zM110.4 305.6h1.1v1.1h-1.1zM110.0 315.3h1.1v1.1h-1.1zM113.5 303.9h1.1v1.1h-1.1zM119.6 313.5h1.1v1.1h-1.1zM110.6 309.1h1.1v1.1h-1.1zM107.3 317.7h1.1v1.1h-1.1zM114.1 320.2h1.1v1.1h-1.1zM113.3 313.1h1.1v1.1h-1.1zM116.5 306.0h1.1v1.1h-1.1zM103.3 309.7h1.1v1.1h-1.1zM109.0 312.5h1.1v1.1h-1.1zM108.6 316.5h1.1v1.1h-1.1zM119.2 312.7h1.1v1.1h-1.1zM108.5 305.4h1.1v1.1h-1.1zM117.0 311.6h1.1v1.1h-1.1zM107.6 316.6h1.1v1.1h-1.1zM108.2 297.5h1.1v1.1h-1.1zM118.4 309.6h1.1v1.1h-1.1zM106.6 310.8h1.1v1.1h-1.1zM112.3 305.2h1.1v1.1h-1.1zM118.1 305.8h1.1v1.1h-1.1zM110.3 301.6h1.1v1.1h-1.1zM115.0 300.2h1.1v1.1h-1.1zM109.8 304.2h1.1v1.1h-1.1zM115.6 309.9h1.1v1.1h-1.1zM107.9 306.6h1.1v1.1h-1.1zM110.2 312.6h1.1v1.1h-1.1zM109.4 302.6h1.1v1.1h-1.1zM116.5 309.1h1.1v1.1h-1.1zM107.8 309.9h1.1v1.1h-1.1zM116.8 313.4h1.1v1.1h-1.1zM113.3 303.4h1.1v1.1h-1.1zM106.2 307.8h1.1v1.1h-1.1zM109.5 317.4h1.1v1.1h-1.1zM118.4 304.4h1.1v1.1h-1.1zM113.2 317.4h1.1v1.1h-1.1zM113.3 314.1h1.1v1.1h-1.1zM115.3 304.4h1.1v1.1h-1.1zM108.1 306.6h1.1v1.1h-1.1zM105.3 304.3h1.1v1.1h-1.1zM106.3 307.1h1.1v1.1h-1.1zM115.4 315.0h1.1v1.1h-1.1zM119.8 313.0h1.1v1.1h-1.1zM106.5 318.2h1.1v1.1h-1.1zM114.1 309.8h1.1v1.1h-1.1zM108.1 303.7h1.1v1.1h-1.1zM116.1 306.3h1.1v1.1h-1.1zM118.4 311.0h1.1v1.1h-1.1zM116.1 312.8h1.1v1.1h-1.1zM105.3 305.1h1.1v1.1h-1.1zM109.8 308.0h1.1v1.1h-1.1zM104.0 304.4h1.1v1.1h-1.1zM111.1 304.7h1.1v1.1h-1.1zM110.8 303.3h1.1v1.1h-1.1zM108.5 305.3h1.1v1.1h-1.1zM106.1 301.3h1.1v1.1h-1.1zM109.5 303.7h1.1v1.1h-1.1zM105.0 306.6h1.1v1.1h-1.1zM109.4 315.6h1.1v1.1h-1.1zM106.8 312.2h1.1v1.1h-1.1zM118.8 319.2h1.1v1.1h-1.1zM108.3 310.2h1.1v1.1h-1.1zM117.2 317.9h1.1v1.1h-1.1zM121.1 306.7h1.1v1.1h-1.1zM119.6 309.3h1.1v1.1h-1.1zM113.9 318.1h1.1v1.1h-1.1zM113.5 301.1h1.1v1.1h-1.1zM111.7 316.1h1.1v1.1h-1.1zM111.8 309.0h1.1v1.1h-1.1zM112.6 308.8h1.1v1.1h-1.1zM111.7 313.6h1.1v1.1h-1.1zM107.4 320.7h1.1v1.1h-1.1zM114.1 312.1h1.1v1.1h-1.1zM113.4 319.4h1.1v1.1h-1.1zM108.3 312.0h1.1v1.1h-1.1zM113.0 306.4h1.1v1.1h-1.1zM118.9 309.2h1.1v1.1h-1.1zM119.1 298.2h1.1v1.1h-1.1zM111.0 306.8h1.1v1.1h-1.1zM118.1 316.1h1.1v1.1h-1.1zM117.5 315.2h1.1v1.1h-1.1zM109.8 316.8h1.1v1.1h-1.1zM108.2 304.7h1.1v1.1h-1.1zM105.2 309.4h1.1v1.1h-1.1zM109.2 312.4h1.1v1.1h-1.1zM111.5 300.9h1.1v1.1h-1.1zM109.3 309.2h1.1v1.1h-1.1zM110.1 303.0h1.1v1.1h-1.1zM115.6 305.1h1.1v1.1h-1.1zM105.6 306.3h1.1v1.1h-1.1zM116.4 320.4h1.1v1.1h-1.1zM107.4 314.6h1.1v1.1h-1.1zM116.1 301.6h1.1v1.1h-1.1zM108.9 314.2h1.1v1.1h-1.1zM119.2 310.3h1.1v1.1h-1.1zM114.5 318.0h1.1v1.1h-1.1zM117.2 312.6h1.1v1.1h-1.1zM109.1 308.7h1.1v1.1h-1.1zM113.3 312.6h1.1v1.1h-1.1zM116.9 312.9h1.1v1.1h-1.1zM119.0 304.4h1.1v1.1h-1.1zM117.3 316.0h1.1v1.1h-1.1zM105.2 310.8h1.1v1.1h-1.1zM118.4 315.4h1.1v1.1h-1.1zM116.3 309.9h1.1v1.1h-1.1zM115.9 310.1h1.1v1.1h-1.1zM114.0 318.4h1.1v1.1h-1.1zM119.8 313.3h1.1v1.1h-1.1zM105.0 303.2h1.1v1.1h-1.1zM116.4 318.1h1.1v1.1h-1.1zM115.6 309.8h1.1v1.1h-1.1zM107.4 318.8h1.1v1.1h-1.1zM111.9 316.8h1.1v1.1h-1.1zM107.7 306.9h1.1v1.1h-1.1zM117.3 303.1h1.1v1.1h-1.1zM113.8 300.0h1.1v1.1h-1.1zM111.4 318.8h1.1v1.1h-1.1zM111.1 317.7h1.1v1.1h-1.1zM113.7 299.4h1.1v1.1h-1.1zM117.5 309.9h1.1v1.1h-1.1zM107.4 301.5h1.1v1.1h-1.1zM108.4 302.8h1.1v1.1h-1.1zM123.9 311.1h1.1v1.1h-1.1zM108.7 301.3h1.1v1.1h-1.1zM116.1 308.0h1.1v1.1h-1.1zM116.7 301.9h1.1v1.1h-1.1zM115.7 313.3h1.1v1.1h-1.1zM116.1 317.9h1.1v1.1h-1.1zM109.3 305.1h1.1v1.1h-1.1zM114.3 317.3h1.1v1.1h-1.1zM107.2 308.8h1.1v1.1h-1.1zM108.0 301.0h1.1v1.1h-1.1zM114.3 309.7h1.1v1.1h-1.1zM115.4 303.0h1.1v1.1h-1.1zM114.8 305.7h1.1v1.1h-1.1zM115.3 311.9h1.1v1.1h-1.1zM117.1 316.0h1.1v1.1h-1.1zM117.4 300.8h1.1v1.1h-1.1zM118.2 312.8h1.1v1.1h-1.1zM107.8 305.5h1.1v1.1h-1.1zM114.9 315.1h1.1v1.1h-1.1zM114.5 305.3h1.1v1.1h-1.1zM116.7 318.2h1.1v1.1h-1.1zM115.2 312.1h1.1v1.1h-1.1zM114.7 306.4h1.1v1.1h-1.1zM114.6 309.7h1.1v1.1h-1.1zM112.5 315.3h1.1v1.1h-1.1zM117.8 321.3h1.1v1.1h-1.1zM113.7 316.5h1.1v1.1h-1.1zM116.0 314.4h1.1v1.1h-1.1zM110.2 306.4h1.1v1.1h-1.1zM112.0 304.0h1.1v1.1h-1.1zM120.3 314.4h1.1v1.1h-1.1zM116.8 309.0h1.1v1.1h-1.1zM111.9 299.3h1.1v1.1h-1.1zM111.0 312.2h1.1v1.1h-1.1zM109.3 307.7h1.1v1.1h-1.1zM116.7 310.8h1.1v1.1h-1.1zM112.4 315.2h1.1v1.1h-1.1zM118.7 307.1h1.1v1.1h-1.1zM115.1 312.0h1.1v1.1h-1.1zM117.7 308.3h1.1v1.1h-1.1zM112.1 300.8h1.1v1.1h-1.1zM106.5 314.8h1.1v1.1h-1.1zM111.4 305.5h1.1v1.1h-1.1zM105.7 311.3h1.1v1.1h-1.1zM104.6 317.1h1.1v1.1h-1.1zM119.0 305.6h1.1v1.1h-1.1zM111.8 320.5h1.1v1.1h-1.1zM107.9 316.4h1.1v1.1h-1.1zM112.5 309.5h1.1v1.1h-1.1zM104.4 312.9h1.1v1.1h-1.1zM118.3 302.0h1.1v1.1h-1.1zM112.2 305.5h1.1v1.1h-1.1zM107.0 316.0h1.1v1.1h-1.1zM114.7 309.6h1.1v1.1h-1.1zM115.7 315.8h1.1v1.1h-1.1zM107.8 302.8h1.1v1.1h-1.1zM105.4 306.0h1.1v1.1h-1.1zM112.0 315.5h1.1v1.1h-1.1zM117.3 306.2h1.1v1.1h-1.1zM118.5 311.6h1.1v1.1h-1.1zM115.5 307.0h1.1v1.1h-1.1zM103.5 313.9h1.1v1.1h-1.1zM113.0 312.4h1.1v1.1h-1.1zM117.4 303.0h1.1v1.1h-1.1zM110.5 312.8h1.1v1.1h-1.1zM108.7 317.9h1.1v1.1h-1.1zM117.0 308.0h1.1v1.1h-1.1zM110.4 319.5h1.1v1.1h-1.1zM113.5 306.8h1.1v1.1h-1.1zM112.8 315.5h1.1v1.1h-1.1zM119.1 302.1h1.1v1.1h-1.1zM101.5 319.8h1.1v1.1h-1.1zM111.9 302.0h1.1v1.1h-1.1zM115.3 306.2h1.1v1.1h-1.1zM108.3 304.6h1.1v1.1h-1.1zM105.9 304.0h1.1v1.1h-1.1zM110.5 313.2h1.1v1.1h-1.1zM111.1 312.9h1.1v1.1h-1.1zM110.2 313.7h1.1v1.1h-1.1zM109.2 302.6h1.1v1.1h-1.1zM115.4 317.7h1.1v1.1h-1.1zM109.3 312.0h1.1v1.1h-1.1zM108.7 298.0h1.1v1.1h-1.1zM106.4 305.2h1.1v1.1h-1.1zM110.1 313.8h1.1v1.1h-1.1zM111.9 306.7h1.1v1.1h-1.1zM119.8 311.7h1.1v1.1h-1.1zM116.3 297.7h1.1v1.1h-1.1zM111.0 310.9h1.1v1.1h-1.1zM116.6 313.7h1.1v1.1h-1.1zM101.5 308.9h1.1v1.1h-1.1zM119.7 303.6h1.1v1.1h-1.1zM108.7 303.8h1.1v1.1h-1.1zM116.7 314.4h1.1v1.1h-1.1zM109.5 306.1h1.1v1.1h-1.1zM118.8 308.3h1.1v1.1h-1.1zM112.4 317.9h1.1v1.1h-1.1zM117.5 311.7h1.1v1.1h-1.1zM116.1 304.4h1.1v1.1h-1.1zM111.8 306.9h1.1v1.1h-1.1zM115.6 314.3h1.1v1.1h-1.1zM109.5 304.0h1.1v1.1h-1.1zM116.1 301.4h1.1v1.1h-1.1zM116.3 313.3h1.1v1.1h-1.1zM105.0 310.7h1.1v1.1h-1.1zM109.4 315.5h1.1v1.1h-1.1zM110.5 304.6h1.1v1.1h-1.1zM114.4 302.0h1.1v1.1h-1.1zM115.3 309.0h1.1v1.1h-1.1zM110.3 315.8h1.1v1.1h-1.1zM111.0 311.8h1.1v1.1h-1.1zM113.6 317.3h1.1v1.1h-1.1zM116.8 318.8h1.1v1.1h-1.1zM118.3 312.7h1.1v1.1h-1.1zM104.0 315.5h1.1v1.1h-1.1zM109.6 300.7h1.1v1.1h-1.1zM112.5 319.1h1.1v1.1h-1.1zM114.2 310.8h1.1v1.1h-1.1zM108.6 317.4h1.1v1.1h-1.1zM117.7 303.8h1.1v1.1h-1.1zM104.6 309.6h1.1v1.1h-1.1zM114.3 313.5h1.1v1.1h-1.1zM117.8 316.6h1.1v1.1h-1.1zM118.8 309.2h1.1v1.1h-1.1zM108.4 312.5h1.1v1.1h-1.1zM111.4 301.9h1.1v1.1h-1.1zM109.7 314.1h1.1v1.1h-1.1zM114.1 312.5h1.1v1.1h-1.1zM110.6 309.1h1.1v1.1h-1.1zM113.3 302.1h1.1v1.1h-1.1zM106.9 305.9h1.1v1.1h-1.1zM115.4 313.5h1.1v1.1h-1.1zM113.2 321.5h1.1v1.1h-1.1zM117.2 304.7h1.1v1.1h-1.1zM110.9 318.3h1.1v1.1h-1.1zM109.7 316.2h1.1v1.1h-1.1zM118.4 316.0h1.1v1.1h-1.1zM103.4 310.8h1.1v1.1h-1.1zM107.4 305.1h1.1v1.1h-1.1zM109.7 305.9h1.1v1.1h-1.1zM111.9 314.4h1.1v1.1h-1.1zM111.0 301.7h1.1v1.1h-1.1zM111.8 308.2h1.1v1.1h-1.1zM107.6 315.0h1.1v1.1h-1.1zM116.7 311.8h1.1v1.1h-1.1zM118.1 314.9h1.1v1.1h-1.1zM111.5 310.3h1.1v1.1h-1.1zM114.0 308.9h1.1v1.1h-1.1zM109.5 317.0h1.1v1.1h-1.1zM108.3 316.9h1.1v1.1h-1.1zM112.0 313.1h1.1v1.1h-1.1zM117.1 308.6h1.1v1.1h-1.1zM114.9 316.1h1.1v1.1h-1.1zM115.8 297.8h1.1v1.1h-1.1zM116.1 306.9h1.1v1.1h-1.1zM117.6 316.5h1.1v1.1h-1.1zM108.7 314.0h1.1v1.1h-1.1zM109.1 306.3h1.1v1.1h-1.1zM110.9 318.5h1.1v1.1h-1.1zM113.5 311.6h1.1v1.1h-1.1zM110.0 311.9h1.1v1.1h-1.1zM116.5 306.8h1.1v1.1h-1.1zM116.1 301.8h1.1v1.1h-1.1zM107.1 302.0h1.1v1.1h-1.1zM114.7 300.6h1.1v1.1h-1.1zM108.7 319.5h1.1v1.1h-1.1zM107.0 317.9h1.1v1.1h-1.1zM107.4 312.3h1.1v1.1h-1.1zM109.0 306.1h1.1v1.1h-1.1zM110.9 305.2h1.1v1.1h-1.1zM107.8 301.8h1.1v1.1h-1.1zM115.0 316.7h1.1v1.1h-1.1zM114.3 310.8h1.1v1.1h-1.1zM109.3 309.3h1.1v1.1h-1.1zM113.0 319.0h1.1v1.1h-1.1zM111.7 322.4h1.1v1.1h-1.1zM114.1 311.3h1.1v1.1h-1.1zM110.9 311.2h1.1v1.1h-1.1zM108.7 315.2h1.1v1.1h-1.1zM111.6 310.4h1.1v1.1h-1.1zM112.4 316.9h1.1v1.1h-1.1zM108.9 310.4h1.1v1.1h-1.1zM114.2 305.8h1.1v1.1h-1.1zM112.0 307.1h1.1v1.1h-1.1zM105.1 312.3h1.1v1.1h-1.1zM108.5 307.0h1.1v1.1h-1.1zM115.3 299.7h1.1v1.1h-1.1zM119.3 309.5h1.1v1.1h-1.1zM116.0 308.9h1.1v1.1h-1.1zM109.1 309.7h1.1v1.1h-1.1zM112.2 309.5h1.1v1.1h-1.1zM119.9 303.7h1.1v1.1h-1.1zM110.8 307.7h1.1v1.1h-1.1zM111.5 312.2h1.1v1.1h-1.1zM113.0 313.7h1.1v1.1h-1.1zM110.1 316.2h1.1v1.1h-1.1zM109.2 316.9h1.1v1.1h-1.1zM111.8 313.5h1.1v1.1h-1.1zM107.1 310.7h1.1v1.1h-1.1zM107.3 312.4h1.1v1.1h-1.1zM119.7 314.7h1.1v1.1h-1.1zM109.5 318.0h1.1v1.1h-1.1zM113.3 312.2h1.1v1.1h-1.1zM118.2 301.6h1.1v1.1h-1.1zM115.4 311.8h1.1v1.1h-1.1zM113.2 310.0h1.1v1.1h-1.1zM105.7 309.4h1.1v1.1h-1.1zM117.1 321.3h1.1v1.1h-1.1zM108.6 306.4h1.1v1.1h-1.1zM117.9 314.2h1.1v1.1h-1.1zM115.1 303.1h1.1v1.1h-1.1zM110.6 311.4h1.1v1.1h-1.1zM111.5 311.1h1.1v1.1h-1.1zM105.7 322.2h1.1v1.1h-1.1zM117.1 305.2h1.1v1.1h-1.1zM118.8 309.5h1.1v1.1h-1.1zM111.4 313.6h1.1v1.1h-1.1zM115.5 311.7h1.1v1.1h-1.1zM116.6 305.6h1.1v1.1h-1.1zM110.5 312.9h1.1v1.1h-1.1zM109.8 316.0h1.1v1.1h-1.1zM114.1 301.8h1.1v1.1h-1.1zM118.3 306.0h1.1v1.1h-1.1zM108.5 315.9h1.1v1.1h-1.1zM116.6 306.0h1.1v1.1h-1.1zM111.1 307.8h1.1v1.1h-1.1zM114.2 319.6h1.1v1.1h-1.1zM110.6 301.1h1.1v1.1h-1.1zM107.2 310.1h1.1v1.1h-1.1zM112.1 313.6h1.1v1.1h-1.1zM106.4 318.6h1.1v1.1h-1.1zM120.2 313.3h1.1v1.1h-1.1zM108.7 300.4h1.1v1.1h-1.1zM113.3 321.1h1.1v1.1h-1.1zM109.5 305.6h1.1v1.1h-1.1zM110.6 302.9h1.1v1.1h-1.1zM112.6 308.5h1.1v1.1h-1.1zM110.5 317.3h1.1v1.1h-1.1zM116.2 311.2h1.1v1.1h-1.1zM106.6 308.0h1.1v1.1h-1.1zM112.6 300.1h1.1v1.1h-1.1zM108.4 310.2h1.1v1.1h-1.1zM107.5 315.1h1.1v1.1h-1.1zM117.5 307.4h1.1v1.1h-1.1zM112.1 301.9h1.1v1.1h-1.1zM118.0 314.2h1.1v1.1h-1.1zM113.6 308.6h1.1v1.1h-1.1zM110.9 314.6h1.1v1.1h-1.1zM112.1 310.9h1.1v1.1h-1.1zM108.8 305.3h1.1v1.1h-1.1zM111.0 305.7h1.1v1.1h-1.1zM115.4 314.9h1.1v1.1h-1.1zM107.6 315.6h1.1v1.1h-1.1zM109.0 319.6h1.1v1.1h-1.1zM110.4 307.8h1.1v1.1h-1.1zM121.1 307.9h1.1v1.1h-1.1zM109.7 313.2h1.1v1.1h-1.1zM114.0 313.8h1.1v1.1h-1.1zM107.4 305.5h1.1v1.1h-1.1zM105.1 303.9h1.1v1.1h-1.1zM111.7 304.1h1.1v1.1h-1.1zM112.5 309.3h1.1v1.1h-1.1zM114.7 311.6h1.1v1.1h-1.1zM107.7 316.2h1.1v1.1h-1.1zM111.8 299.9h1.1v1.1h-1.1zM110.7 314.7h1.1v1.1h-1.1zM107.9 311.0h1.1v1.1h-1.1zM111.8 311.5h1.1v1.1h-1.1zM117.1 313.0h1.1v1.1h-1.1zM104.0 310.9h1.1v1.1h-1.1zM104.3 305.9h1.1v1.1h-1.1zM115.2 304.5h1.1v1.1h-1.1zM110.0 305.5h1.1v1.1h-1.1zM110.2 311.2h1.1v1.1h-1.1zM118.0 312.0h1.1v1.1h-1.1zM113.5 305.6h1.1v1.1h-1.1zM109.4 305.7h1.1v1.1h-1.1zM110.1 307.9h1.1v1.1h-1.1zM111.2 314.5h1.1v1.1h-1.1zM103.4 307.8h1.1v1.1h-1.1zM117.6 314.8h1.1v1.1h-1.1zM116.8 302.6h1.1v1.1h-1.1zM110.1 316.5h1.1v1.1h-1.1zM115.1 312.3h1.1v1.1h-1.1zM117.4 304.0h1.1v1.1h-1.1zM121.0 307.4h1.1v1.1h-1.1zM110.3 306.8h1.1v1.1h-1.1zM117.4 312.5h1.1v1.1h-1.1zM108.0 314.7h1.1v1.1h-1.1zM108.9 301.9h1.1v1.1h-1.1zM113.3 301.6h1.1v1.1h-1.1zM117.6 320.3h1.1v1.1h-1.1zM113.1 313.7h1.1v1.1h-1.1z" fill="#e39393" opacity="1.0"/>
<path d="M140.9 280.5h1.1v1.1h-1.1zM138.7 292.1h1.1v1.1h-1.1zM146.7 283.5h1.1v1.1h-1.1zM150.3 288.0h1.1v1.1h-1.1zM148.8 283.6h1.1v1.1h-1.1zM152.8 304.8h1.1v1.1h-1.1zM143.5 275.7h1.1v1.1h-1.1zM152.4 289.6h1.1v1.1h-1.1zM146.1 280.9h1.1v1.1h-1.1zM146.5 293.6h1.1v1.1h-1.1zM149.9 300.2h1.1v1.1h-1.1zM153.7 300.6h1.1v1.1h-1.1zM148.9 290.0h1.1v1.1h-1.1zM150.0 292.3h1.1v1.1h-1.1zM152.3 274.9h1.1v1.1h-1.1zM139.1 300.0h1.1v1.1h-1.1zM151.4 280.6h1.1v1.1h-1.1zM140.6 280.5h1.1v1.1h-1.1zM145.4 306.1h1.1v1.1h-1.1zM147.7 290.3h1.1v1.1h-1.1zM139.8 305.4h1.1v1.1h-1.1zM145.3 286.8h1.1v1.1h-1.1zM148.4 287.6h1.1v1.1h-1.1zM138.2 299.4h1.1v1.1h-1.1zM152.9 302.2h1.1v1.1h-1.1zM149.2 300.3h1.1v1.1h-1.1zM148.1 290.5h1.1v1.1h-1.1zM152.8 303.7h1.1v1.1h-1.1zM141.3 291.5h1.1v1.1h-1.1zM151.4 289.3h1.1v1.1h-1.1zM144.0 298.1h1.1v1.1h-1.1zM140.8 299.1h1.1v1.1h-1.1zM141.0 279.5h1.1v1.1h-1.1zM151.7 274.1h1.1v1.1h-1.1zM154.6 302.0h1.1v1.1h-1.1zM144.6 305.3h1.1v1.1h-1.1zM146.5 287.0h1.1v1.1h-1.1zM149.0 296.3h1.1v1.1h-1.1zM153.4 307.0h1.1v1.1h-1.1zM145.6 281.8h1.1v1.1h-1.1zM145.8 291.7h1.1v1.1h-1.1zM145.7 299.1h1.1v1.1h-1.1zM146.8 291.8h1.1v1.1h-1.1zM144.4 301.5h1.1v1.1h-1.1zM140.6 287.9h1.1v1.1h-1.1zM138.6 292.9h1.1v1.1h-1.1zM137.3 279.0h1.1v1.1h-1.1zM148.7 290.3h1.1v1.1h-1.1zM137.9 294.4h1.1v1.1h-1.1zM145.1 290.7h1.1v1.1h-1.1zM152.0 300.7h1.1v1.1h-1.1zM142.4 299.7h1.1v1.1h-1.1zM153.3 289.9h1.1v1.1h-1.1zM142.9 310.1h1.1v1.1h-1.1zM152.4 299.6h1.1v1.1h-1.1zM139.8 292.4h1.1v1.1h-1.1zM144.2 285.0h1.1v1.1h-1.1zM142.3 291.4h1.1v1.1h-1.1zM146.7 293.9h1.1v1.1h-1.1zM154.1 315.3h1.1v1.1h-1.1zM139.1 301.2h1.1v1.1h-1.1zM144.2 298.1h1.1v1.1h-1.1zM153.3 290.9h1.1v1.1h-1.1zM153.3 299.1h1.1v1.1h-1.1zM149.1 304.1h1.1v1.1h-1.1zM140.0 286.8h1.1v1.1h-1.1zM141.7 288.5h1.1v1.1h-1.1zM150.9 302.9h1.1v1.1h-1.1zM155.2 287.2h1.1v1.1h-1.1zM139.2 302.1h1.1v1.1h-1.1zM142.0 283.4h1.1v1.1h-1.1zM156.1 288.8h1.1v1.1h-1.1zM146.6 299.4h1.1v1.1h-1.1zM150.9 300.0h1.1v1.1h-1.1zM146.5 275.8h1.1v1.1h-1.1zM145.9 283.5h1.1v1.1h-1.1zM146.7 295.9h1.1v1.1h-1.1zM145.3 303.0h1.1v1.1h-1.1zM143.9 278.6h1.1v1.1h-1.1zM148.7 304.2h1.1v1.1h-1.1zM148.4 281.3h1.1v1.1h-1.1zM142.4 300.5h1.1v1.1h-1.1zM143.0 289.1h1.1v1.1h-1.1zM143.7 303.9h1.1v1.1h-1.1zM140.8 283.4h1.1v1.1h-1.1zM142.6 303.7h1.1v1.1h-1.1zM144.3 300.8h1.1v1.1h-1.1zM147.0 296.3h1.1v1.1h-1.1zM151.7 294.3h1.1v1.1h-1.1zM152.2 299.2h1.1v1.1h-1.1zM142.7 282.4h1.1v1.1h-1.1zM139.3 294.9h1.1v1.1h-1.1zM147.7 297.3h1.1v1.1h-1.1zM145.7 302.5h1.1v1.1h-1.1zM151.5 294.1h1.1v1.1h-1.1zM153.0 289.8h1.1v1.1h-1.1zM145.3 291.4h1.1v1.1h-1.1zM142.1 284.2h1.1v1.1h-1.1zM146.6 278.9h1.1v1.1h-1.1zM150.8 301.1h1.1v1.1h-1.1zM150.6 287.9h1.1v1.1h-1.1zM148.6 298.1h1.1v1.1h-1.1zM147.4 295.7h1.1v1.1h-1.1zM150.3 303.4h1.1v1.1h-1.1zM152.1 296.0h1.1v1.1h-1.1zM142.4 290.3h1.1v1.1h-1.1zM139.3 288.3h1.1v1.1h-1.1zM142.9 307.8h1.1v1.1h-1.1zM144.8 282.2h1.1v1.1h-1.1zM147.7 306.5h1.1v1.1h-1.1zM145.9 287.3h1.1v1.1h-1.1zM141.1 299.0h1.1v1.1h-1.1zM142.5 288.2h1.1v1.1h-1.1zM139.7 297.2h1.1v1.1h-1.1zM141.5 289.8h1.1v1.1h-1.1zM137.2 288.2h1.1v1.1h-1.1zM150.5 294.4h1.1v1.1h-1.1zM151.1 299.0h1.1v1.1h-1.1zM144.8 299.8h1.1v1.1h-1.1zM154.0 283.5h1.1v1.1h-1.1zM146.6 310.4h1.1v1.1h-1.1zM148.3 292.6h1.1v1.1h-1.1zM141.6 291.5h1.1v1.1h-1.1zM146.7 305.6h1.1v1.1h-1.1zM147.1 282.0h1.1v1.1h-1.1zM145.1 284.9h1.1v1.1h-1.1zM148.3 297.7h1.1v1.1h-1.1zM142.6 298.5h1.1v1.1h-1.1zM146.3 299.9h1.1v1.1h-1.1zM150.0 276.5h1.1v1.1h-1.1zM140.0 290.2h1.1v1.1h-1.1zM150.4 278.1h1.1v1.1h-1.1zM152.1 293.3h1.1v1.1h-1.1zM145.4 294.5h1.1v1.1h-1.1zM147.0 293.1h1.1v1.1h-1.1zM136.1 302.3h1.1v1.1h-1.1zM140.0 292.2h1.1v1.1h-1.1zM149.4 282.8h1.1v1.1h-1.1zM143.9 283.2h1.1v1.1h-1.1zM144.4 289.2h1.1v1.1h-1.1zM142.8 280.4h1.1v1.1h-1.1zM145.9 298.2h1.1v1.1h-1.1zM143.3 280.3h1.1v1.1h-1.1zM139.7 293.3h1.1v1.1h-1.1zM138.1 286.0h1.1v1.1h-1.1zM137.1 283.9h1.1v1.1h-1.1zM141.1 295.8h1.1v1.1h-1.1zM146.7 289.6h1.1v1.1h-1.1zM141.7 299.4h1.1v1.1h-1.1zM144.1 291.8h1.1v1.1h-1.1zM145.5 305.3h1.1v1.1h-1.1zM144.5 297.3h1.1v1.1h-1.1zM143.0 294.7h1.1v1.1h-1.1zM146.8 295.4h1.1v1.1h-1.1zM142.1 298.0h1.1v1.1h-1.1zM143.1 304.3h1.1v1.1h-1.1zM138.5 290.8h1.1v1.1h-1.1zM153.2 288.8h1.1v1.1h-1.1zM146.6 284.2h1.1v1.1h-1.1zM142.3 302.8h1.1v1.1h-1.1zM142.5 294.7h1.1v1.1h-1.1zM143.9 292.4h1.1v1.1h-1.1zM150.2 289.1h1.1v1.1h-1.1zM148.6 286.3h1.1v1.1h-1.1zM147.0 300.9h1.1v1.1h-1.1zM150.7 294.4h1.1v1.1h-1.1zM147.9 282.4h1.1v1.1h-1.1zM153.2 298.7h1.1v1.1h-1.1zM141.1 302.8h1.1v1.1h-1.1zM151.7 293.5h1.1v1.1h-1.1zM149.0 284.1h1.1v1.1h-1.1zM152.5 296.0h1.1v1.1h-1.1zM149.2 280.0h1.1v1.1h-1.1zM148.7 288.4h1.1v1.1h-1.1zM147.4 297.4h1.1v1.1h-1.1zM151.6 290.0h1.1v1.1h-1.1zM152.0 287.0h1.1v1.1h-1.1zM148.2 291.5h1.1v1.1h-1.1zM153.3 296.9h1.1v1.1h-1.1zM150.7 299.4h1.1v1.1h-1.1zM156.6 292.5h1.1v1.1h-1.1zM146.2 292.5h1.1v1.1h-1.1zM143.5 283.6h1.1v1.1h-1.1zM147.1 303.1h1.1v1.1h-1.1zM148.2 305.2h1.1v1.1h-1.1zM143.1 302.4h1.1v1.1h-1.1zM145.3 295.7h1.1v1.1h-1.1zM149.4 290.9h1.1v1.1h-1.1zM153.4 297.8h1.1v1.1h-1.1zM140.2 303.1h1.1v1.1h-1.1zM145.4 297.9h1.1v1.1h-1.1zM137.0 292.1h1.1v1.1h-1.1zM149.2 299.4h1.1v1.1h-1.1zM150.5 283.0h1.1v1.1h-1.1zM139.3 296.9h1.1v1.1h-1.1zM138.8 289.8h1.1v1.1h-1.1zM138.9 285.3h1.1v1.1h-1.1zM137.6 285.8h1.1v1.1h-1.1zM151.9 293.4h1.1v1.1h-1.1zM146.6 292.3h1.1v1.1h-1.1zM144.9 305.4h1.1v1.1h-1.1zM139.0 290.8h1.1v1.1h-1.1zM141.1 295.4h1.1v1.1h-1.1zM151.8 296.5h1.1v1.1h-1.1zM144.5 285.8h1.1v1.1h-1.1zM140.2 291.0h1.1v1.1h-1.1zM145.1 305.8h1.1v1.1h-1.1zM143.6 301.8h1.1v1.1h-1.1zM148.7 292.5h1.1v1.1h-1.1zM148.1 289.7h1.1v1.1h-1.1zM148.0 284.2h1.1v1.1h-1.1zM146.3 279.9h1.1v1.1h-1.1zM148.4 294.6h1.1v1.1h-1.1zM145.2 288.2h1.1v1.1h-1.1zM144.9 280.7h1.1v1.1h-1.1zM145.2 295.8h1.1v1.1h-1.1zM141.0 286.2h1.1v1.1h-1.1zM142.7 293.1h1.1v1.1h-1.1zM147.0 288.0h1.1v1.1h-1.1zM148.3 295.6h1.1v1.1h-1.1zM141.2 292.9h1.1v1.1h-1.1zM141.7 286.7h1.1v1.1h-1.1zM140.1 284.6h1.1v1.1h-1.1zM151.2 299.7h1.1v1.1h-1.1zM139.6 292.1h1.1v1.1h-1.1zM151.4 288.3h1.1v1.1h-1.1zM143.2 280.2h1.1v1.1h-1.1zM150.0 278.2h1.1v1.1h-1.1zM143.5 297.6h1.1v1.1h-1.1zM152.1 288.9h1.1v1.1h-1.1zM144.4 305.6h1.1v1.1h-1.1zM146.9 287.1h1.1v1.1h-1.1zM141.2 295.6h1.1v1.1h-1.1zM145.1 293.3h1.1v1.1h-1.1zM142.3 286.6h1.1v1.1h-1.1zM150.6 289.1h1.1v1.1h-1.1zM150.5 289.8h1.1v1.1h-1.1zM152.7 293.9h1.1v1.1h-1.1zM140.5 295.1h1.1v1.1h-1.1zM138.5 288.4h1.1v1.1h-1.1zM150.8 287.8h1.1v1.1h-1.1zM146.6 296.0h1.1v1.1h-1.1zM145.8 297.3h1.1v1.1h-1.1zM156.0 292.0h1.1v1.1h-1.1zM152.4 289.7h1.1v1.1h-1.1zM144.4 282.3h1.1v1.1h-1.1zM138.7 294.1h1.1v1.1h-1.1zM141.2 299.5h1.1v1.1h-1.1zM147.1 292.0h1.1v1.1h-1.1zM151.3 299.0h1.1v1.1h-1.1zM147.1 292.7h1.1v1.1h-1.1zM146.8 293.8h1.1v1.1h-1.1zM147.0 285.5h1.1v1.1h-1.1zM145.0 291.8h1.1v1.1h-1.1zM147.0 299.8h1.1v1.1h-1.1zM145.4 298.0h1.1v1.1h-1.1zM142.6 284.4h1.1v1.1h-1.1zM150.9 303.4h1.1v1.1h-1.1zM148.1 306.2h1.1v1.1h-1.1zM150.5 287.6h1.1v1.1h-1.1zM148.1 288.6h1.1v1.1h-1.1zM145.7 299.9h1.1v1.1h-1.1zM145.4 293.2h1.1v1.1h-1.1zM142.7 297.8h1.1v1.1h-1.1zM149.1 285.6h1.1v1.1h-1.1zM151.4 301.2h1.1v1.1h-1.1zM141.5 303.4h1.1v1.1h-1.1zM142.8 302.5h1.1v1.1h-1.1zM153.3 295.4h1.1v1.1h-1.1zM147.7 304.1h1.1v1.1h-1.1zM149.1 285.0h1.1v1.1h-1.1zM144.6 284.4h1.1v1.1h-1.1zM149.9 298.6h1.1v1.1h-1.1zM138.3 292.0h1.1v1.1h-1.1zM143.9 305.4h1.1v1.1h-1.1zM154.7 290.9h1.1v1.1h-1.1zM143.3 300.4h1.1v1.1h-1.1zM149.7 286.3h1.1v1.1h-1.1zM147.8 286.5h1.1v1.1h-1.1zM151.1 287.1h1.1v1.1h-1.1zM142.4 293.8h1.1v1.1h-1.1zM151.7 298.3h1.1v1.1h-1.1zM150.6 290.0h1.1v1.1h-1.1zM149.7 295.7h1.1v1.1h-1.1zM141.9 283.4h1.1v1.1h-1.1zM142.9 292.8h1.1v1.1h-1.1zM143.3 285.8h1.1v1.1h-1.1zM149.5 287.2h1.1v1.1h-1.1zM151.9 306.5h1.1v1.1h-1.1zM148.5 299.3h1.1v1.1h-1.1zM152.5 280.7h1.1v1.1h-1.1zM138.1 295.0h1.1v1.1h-1.1zM140.2 286.2h1.1v1.1h-1.1zM140.1 297.2h1.1v1.1h-1.1zM147.1 306.5h1.1v1.1h-1.1zM147.6 305.2h1.1v1.1h-1.1zM143.9 292.0h1.1v1.1h-1.1zM143.2 298.8h1.1v1.1h-1.1zM150.8 291.2h1.1v1.1h-1.1zM148.0 280.0h1.1v1.1h-1.1zM145.3 304.9h1.1v1.1h-1.1zM147.2 303.5h1.1v1.1h-1.1zM146.6 300.1h1.1v1.1h-1.1zM149.1 295.8h1.1v1.1h-1.1zM145.3 295.1h1.1v1.1h-1.1zM142.0 299.3h1.1v1.1h-1.1zM150.3 303.2h1.1v1.1h-1.1zM145.2 277.9h1.1v1.1h-1.1zM148.7 300.2h1.1v1.1h-1.1zM152.8 281.4h1.1v1.1h-1.1zM147.0 293.9h1.1v1.1h-1.1zM142.5 286.0h1.1v1.1h-1.1zM146.9 291.5h1.1v1.1h-1.1zM153.8 288.9h1.1v1.1h-1.1zM142.8 297.4h1.1v1.1h-1.1zM148.1 296.8h1.1v1.1h-1.1zM152.9 284.9h1.1v1.1h-1.1zM151.1 304.7h1.1v1.1h-1.1zM148.7 282.5h1.1v1.1h-1.1zM138.5 298.3h1.1v1.1h-1.1zM142.5 296.2h1.1v1.1h-1.1zM143.4 294.3h1.1v1.1h-1.1zM152.8 287.4h1.1v1.1h-1.1zM145.2 299.5h1.1v1.1h-1.1zM148.8 283.2h1.1v1.1h-1.1zM141.5 303.2h1.1v1.1h-1.1zM143.5 297.9h1.1v1.1h-1.1zM138.1 286.8h1.1v1.1h-1.1zM154.3 294.0h1.1v1.1h-1.1zM142.1 295.5h1.1v1.1h-1.1zM148.3 290.8h1.1v1.1h-1.1zM147.5 290.0h1.1v1.1h-1.1zM152.1 305.4h1.1v1.1h-1.1zM152.5 289.6h1.1v1.1h-1.1zM149.0 279.8h1.1v1.1h-1.1zM149.8 290.2h1.1v1.1h-1.1zM151.9 286.4h1.1v1.1h-1.1zM151.7 297.5h1.1v1.1h-1.1zM142.7 300.4h1.1v1.1h-1.1zM140.8 290.2h1.1v1.1h-1.1zM147.9 280.5h1.1v1.1h-1.1zM141.8 302.6h1.1v1.1h-1.1zM145.8 285.6h1.1v1.1h-1.1zM141.1 298.4h1.1v1.1h-1.1zM150.8 298.4h1.1v1.1h-1.1zM139.8 282.4h1.1v1.1h-1.1zM148.2 282.3h1.1v1.1h-1.1zM143.5 299.6h1.1v1.1h-1.1zM150.2 303.2h1.1v1.1h-1.1zM147.4 297.1h1.1v1.1h-1.1zM153.3 292.2h1.1v1.1h-1.1zM147.8 282.7h1.1v1.1h-1.1zM146.1 281.0h1.1v1.1h-1.1zM146.2 307.2h1.1v1.1h-1.1zM140.2 295.0h1.1v1.1h-1.1zM144.1 284.5h1.1v1.1h-1.1zM148.5 290.1h1.1v1.1h-1.1zM148.4 290.2h1.1v1.1h-1.1zM143.5 287.6h1.1v1.1h-1.1zM149.4 298.3h1.1v1.1h-1.1zM141.1 283.4h1.1v1.1h-1.1zM144.4 286.6h1.1v1.1h-1.1zM146.1 292.1h1.1v1.1h-1.1zM142.0 287.5h1.1v1.1h-1.1zM149.9 301.6h1.1v1.1h-1.1zM145.3 301.2h1.1v1.1h-1.1zM146.9 303.5h1.1v1.1h-1.1zM150.9 289.6h1.1v1.1h-1.1zM149.3 304.9h1.1v1.1h-1.1zM142.5 302.1h1.1v1.1h-1.1zM149.7 299.4h1.1v1.1h-1.1zM145.6 298.7h1.1v1.1h-1.1zM157.1 300.3h1.1v1.1h-1.1zM150.4 292.5h1.1v1.1h-1.1zM141.2 296.9h1.1v1.1h-1.1zM139.5 300.8h1.1v1.1h-1.1zM142.2 297.9h1.1v1.1h-1.1zM141.6 283.5h1.1v1.1h-1.1zM148.1 287.6h1.1v1.1h-1.1zM141.9 289.0h1.1v1.1h-1.1zM152.0 287.8h1.1v1.1h-1.1zM133.2 295.2h1.1v1.1h-1.1zM153.1 293.8h1.1v1.1h-1.1zM141.7 306.7h1.1v1.1h-1.1zM147.8 308.3h1.1v1.1h-1.1zM149.2 282.4h1.1v1.1h-1.1zM139.0 291.2h1.1v1.1h-1.1zM140.6 294.3h1.1v1.1h-1.1zM140.6 298.8h1.1v1.1h-1.1zM149.6 287.2h1.1v1.1h-1.1zM152.8 294.7h1.1v1.1h-1.1zM143.8 300.6h1.1v1.1h-1.1zM142.2 287.9h1.1v1.1h-1.1zM148.9 301.2h1.1v1.1h-1.1zM156.3 288.7h1.1v1.1h-1.1zM153.7 293.8h1.1v1.1h-1.1zM151.9 291.4h1.1v1.1h-1.1zM154.6 290.7h1.1v1.1h-1.1zM148.6 287.8h1.1v1.1h-1.1zM148.4 282.3h1.1v1.1h-1.1zM150.0 282.9h1.1v1.1h-1.1zM151.1 282.1h1.1v1.1h-1.1zM146.2 306.0h1.1v1.1h-1.1zM150.9 299.5h1.1v1.1h-1.1zM150.4 302.6h1.1v1.1h-1.1zM141.6 304.1h1.1v1.1h-1.1zM140.7 300.8h1.1v1.1h-1.1zM140.5 293.0h1.1v1.1h-1.1zM148.0 302.4h1.1v1.1h-1.1zM153.6 290.6h1.1v1.1h-1.1zM144.1 297.5h1.1v1.1h-1.1zM142.2 290.4h1.1v1.1h-1.1zM140.7 304.2h1.1v1.1h-1.1zM150.4 296.2h1.1v1.1h-1.1zM149.8 283.4h1.1v1.1h-1.1zM151.2 310.3h1.1v1.1h-1.1zM150.4 285.4h1.1v1.1h-1.1zM147.7 290.0h1.1v1.1h-1.1zM141.5 308.0h1.1v1.1h-1.1zM149.3 287.1h1.1v1.1h-1.1z" fill="#e8cccc" opacity="1.0"/>
<path d="M124.8 329.1h1.1v1.1h-1.1zM116.5 329.2h1.1v1.1h-1.1zM130.5 321.5h1.1v1.1h-1.1zM117.6 326.1h1.1v1.1h-1.1zM123.3 324.4h1.1v1.1h-1.1zM135.0 325.2h1.1v1.1h-1.1zM140.3 322.5h1.1v1.1h-1.1zM136.8 331.0h1.1v1.1h-1.1zM121.6 328.2h1.1v1.1h-1.1zM130.8 322.8h1.1v1.1h-1.1zM132.7 327.8h1.1v1.1h-1.1zM140.2 325.3h1.1v1.1h-1.1zM127.0 318.9h1.1v1.1h-1.1zM122.9 325.5h1.1v1.1h-1.1zM133.7 330.2h1.1v1.1h-1.1zM124.1 317.2h1.1v1.1h-1.1zM140.4 320.2h1.1v1.1h-1.1zM133.6 324.2h1.1v1.1h-1.1zM130.1 328.7h1.1v1.1h-1.1zM122.8 332.2h1.1v1.1h-1.1zM138.8 329.0h1.1v1.1h-1.1zM118.0 328.0h1.1v1.1h-1.1zM124.0 335.1h1.1v1.1h-1.1zM129.4 324.9h1.1v1.1h-1.1zM128.8 330.3h1.1v1.1h-1.1zM124.0 330.2h1.1v1.1h-1.1zM131.0 329.3h1.1v1.1h-1.1zM119.0 330.1h1.1v1.1h-1.1zM124.4 325.6h1.1v1.1h-1.1zM137.8 325.9h1.1v1.1h-1.1zM126.3 331.9h1.1v1.1h-1.1zM123.0 326.5h1.1v1.1h-1.1zM126.1 328.2h1.1v1.1h-1.1zM129.4 321.6h1.1v1.1h-1.1zM131.8 327.6h1.1v1.1h-1.1zM137.2 325.9h1.1v1.1h-1.1zM128.4 323.3h1.1v1.1h-1.1zM130.7 325.9h1.1v1.1h-1.1zM137.7 321.1h1.1v1.1h-1.1zM121.7 335.4h1.1v1.1h-1.1zM127.9 327.3h1.1v1.1h-1.1zM138.9 321.7h1.1v1.1h-1.1zM132.9 321.9h1.1v1.1h-1.1zM120.8 325.1h1.1v1.1h-1.1zM142.5 320.9h1.1v1.1h-1.1zM126.4 314.4h1.1v1.1h-1.1zM130.7 322.0h1.1v1.1h-1.1zM121.6 324.2h1.1v1.1h-1.1zM140.0 328.4h1.1v1.1h-1.1zM120.9 322.5h1.1v1.1h-1.1zM137.5 326.0h1.1v1.1h-1.1zM118.7 328.9h1.1v1.1h-1.1zM119.3 322.1h1.1v1.1h-1.1zM140.7 323.9h1.1v1.1h-1.1zM133.5 332.7h1.1v1.1h-1.1zM125.9 327.4h1.1v1.1h-1.1zM128.4 316.3h1.1v1.1h-1.1zM135.0 324.7h1.1v1.1h-1.1zM128.3 317.5h1.1v1.1h-1.1zM120.9 317.5h1.1v1.1h-1.1zM140.5 325.7h1.1v1.1h-1.1zM121.3 329.1h1.1v1.1h-1.1zM136.3 325.8h1.1v1.1h-1.1zM136.6 335.0h1.1v1.1h-1.1zM124.6 321.1h1.1v1.1h-1.1zM139.4 317.3h1.1v1.1h-1.1zM131.0 327.2h1.1v1.1h-1.1zM130.3 334.5h1.1v1.1h-1.1zM135.5 324.9h1.1v1.1h-1.1zM133.6 331.3h1.1v1.1h-1.1zM136.7 328.6h1.1v1.1h-1.1zM120.0 324.4h1.1v1.1h-1.1zM136.0 323.6h1.1v1.1h-1.1zM138.2 313.8h1.1v1.1h-1.1zM126.0 322.3h1.1v1.1h-1.1zM128.0 330.2h1.1v1.1h-1.1zM127.7 319.0h1.1v1.1h-1.1zM129.4 330.3h1.1v1.1h-1.1zM131.5 327.4h1.1v1.1h-1.1zM132.6 318.8h1.1v1.1h-1.1zM143.1 320.2h1.1v1.1h-1.1zM135.2 324.6h1.1v1.1h-1.1zM131.3 326.7h1.1v1.1h-1.1zM133.4 317.4h1.1v1.1h-1.1zM129.3 326.3h1.1v1.1h-1.1zM129.6 327.1h1.1v1.1h-1.1zM136.7 323.2h1.1v1.1h-1.1zM138.4 328.3h1.1v1.1h-1.1zM136.7 316.5h1.1v1.1h-1.1zM122.0 333.0h1.1v1.1h-1.1zM120.5 325.3h1.1v1.1h-1.1zM127.0 322.6h1.1v1.1h-1.1zM134.5 322.3h1.1v1.1h-1.1zM125.2 321.1h1.1v1.1h-1.1zM134.9 326.1h1.1v1.1h-1.1zM133.5 315.4h1.1v1.1h-1.1zM134.0 327.9h1.1v1.1h-1.1zM128.7 324.7h1.1v1.1h-1.1zM128.5 325.2h1.1v1.1h-1.1zM136.2 316.7h1.1v1.1h-1.1zM132.0 327.5h1.1v1.1h-1.1zM130.3 321.9h1.1v1.1h-1.1zM130.9 325.7h1.1v1.1h-1.1zM132.1 318.1h1.1v1.1h-1.1zM134.8 326.0h1.1v1.1h-1.1zM128.1 320.3h1.1v1.1h-1.1zM129.0 329.9h1.1v1.1h-1.1zM137.7 320.1h1.1v1.1h-1.1zM122.3 329.3h1.1v1.1h-1.1zM131.0 327.2h1.1v1.1h-1.1zM123.9 329.5h1.1v1.1h-1.1zM138.4 324.8h1.1v1.1h-1.1zM136.8 329.9h1.1v1.1h-1.1zM140.0 326.4h1.1v1.1h-1.1zM127.6 330.3h1.1v1.1h-1.1zM125.0 332.8h1.1v1.1h-1.1zM128.2 325.3h1.1v1.1h-1.1zM126.2 327.6h1.1v1.1h-1.1zM132.8 320.4h1.1v1.1h-1.1zM126.6 331.5h1.1v1.1h-1.1zM135.0 323.2h1.1v1.1h-1.1zM136.8 319.3h1.1v1.1h-1.1zM123.0 325.3h1.1v1.1h-1.1zM130.0 323.5h1.1v1.1h-1.1zM132.4 327.4h1.1v1.1h-1.1zM126.7 331.3h1.1v1.1h-1.1zM137.6 329.0h1.1v1.1h-1.1zM126.9 317.8h1.1v1.1h-1.1zM139.5 330.6h1.1v1.1h-1.1zM126.1 329.1h1.1v1.1h-1.1zM140.4 323.8h1.1v1.1h-1.1zM134.9 317.9h1.1v1.1h-1.1zM132.1 323.3h1.1v1.1h-1.1zM120.0 331.4h1.1v1.1h-1.1zM124.6 328.3h1.1v1.1h-1.1zM121.3 325.2h1.1v1.1h-1.1zM138.3 321.4h1.1v1.1h-1.1zM136.3 317.0h1.1v1.1h-1.1zM126.2 333.9h1.1v1.1h-1.1zM127.4 323.9h1.1v1.1h-1.1zM134.9 326.1h1.1v1.1h-1.1zM124.9 326.7h1.1v1.1h-1.1zM131.0 324.0h1.1v1.1h-1.1zM132.3 324.2h1.1v1.1h-1.1zM125.5 331.5h1.1v1.1h-1.1zM118.8 325.1h1.1v1.1h-1.1zM117.3 325.9h1.1v1.1h-1.1zM136.4 324.6h1.1v1.1h-1.1zM136.4 324.4h1.1v1.1h-1.1zM125.5 321.1h1.1v1.1h-1.1zM127.5 329.1h1.1v1.1h-1.1zM128.8 333.5h1.1v1.1h-1.1zM124.4 330.5h1.1v1.1h-1.1zM129.3 315.4h1.1v1.1h-1.1zM123.6 323.0h1.1v1.1h-1.1zM133.7 330.5h1.1v1.1h-1.1zM142.7 327.7h1.1v1.1h-1.1zM123.2 316.8h1.1v1.1h-1.1zM138.5 321.6h1.1v1.1h-1.1zM129.0 318.9h1.1v1.1h-1.1zM143.4 321.5h1.1v1.1h-1.1zM127.3 318.7h1.1v1.1h-1.1zM119.8 331.1h1.1v1.1h-1.1zM133.2 314.2h1.1v1.1h-1.1zM120.3 330.5h1.1v1.1h-1.1zM121.5 324.9h1.1v1.1h-1.1zM136.0 320.0h1.1v1.1h-1.1zM138.4 329.1h1.1v1.1h-1.1zM123.2 322.9h1.1v1.1h-1.1zM116.2 328.4h1.1v1.1h-1.1zM130.2 325.1h1.1v1.1h-1.1zM128.7 327.7h1.1v1.1h-1.1zM125.4 329.0h1.1v1.1h-1.1zM122.9 329.5h1.1v1.1h-1.1zM129.5 331.8h1.1v1.1h-1.1zM132.6 331.3h1.1v1.1h-1.1zM135.1 328.5h1.1v1.1h-1.1zM138.0 330.5h1.1v1.1h-1.1zM135.5 324.3h1.1v1.1h-1.1zM139.7 320.8h1.1v1.1h-1.1zM140.0 315.2h1.1v1.1h-1.1zM134.8 324.5h1.1v1.1h-1.1zM125.2 322.0h1.1v1.1h-1.1zM141.0 318.1h1.1v1.1h-1.1zM123.0 318.6h1.1v1.1h-1.1zM132.1 322.8h1.1v1.1h-1.1zM140.4 317.9h1.1v1.1h-1.1zM127.8 324.6h1.1v1.1h-1.1zM140.9 325.9h1.1v1.1h-1.1zM131.1 326.1h1.1v1.1h-1.1zM135.4 316.2h1.1v1.1h-1.1zM133.7 317.3h1.1v1.1h-1.1zM140.9 319.1h1.1v1.1h-1.1zM129.1 314.2h1.1v1.1h-1.1zM126.4 316.9h1.1v1.1h-1.1zM122.7 329.7h1.1v1.1h-1.1zM135.9 328.7h1.1v1.1h-1.1zM128.6 325.6h1.1v1.1h-1.1zM126.3 322.1h1.1v1.1h-1.1zM124.3 321.4h1.1v1.1h-1.1zM136.0 331.5h1.1v1.1h-1.1zM124.2 325.3h1.1v1.1h-1.1zM127.3 322.1h1.1v1.1h-1.1zM123.8 321.4h1.1v1.1h-1.1zM118.6 322.5h1.1v1.1h-1.1zM123.4 326.9h1.1v1.1h-1.1zM142.4 321.7h1.1v1.1h-1.1zM122.8 322.9h1.1v1.1h-1.1zM141.6 327.8h1.1v1.1h-1.1zM127.6 317.9h1.1v1.1h-1.1zM136.1 317.1h1.1v1.1h-1.1zM130.2 321.8h1.1v1.1h-1.1zM132.5 331.7h1.1v1.1h-1.1zM140.6 317.6h1.1v1.1h-1.1zM129.7 325.1h1.1v1.1h-1.1zM136.9 317.9h1.1v1.1h-1.1zM143.9 319.9h1.1v1.1h-1.1zM121.9 325.0h1.1v1.1h-1.1zM135.3 336.5h1.1v1.1h-1.1zM129.0 324.7h1.1v1.1h-1.1zM141.8 314.2h1.1v1.1h-1.1zM133.9 319.7h1.1v1.1h-1.1zM125.2 320.5h1.1v1.1h-1.1zM141.6 322.6h1.1v1.1h-1.1zM123.7 324.8h1.1v1.1h-1.1zM124.8 323.8h1.1v1.1h-1.1zM124.2 328.5h1.1v1.1h-1.1zM133.9 331.5h1.1v1.1h-1.1zM131.2 320.3h1.1v1.1h-1.1zM137.5 321.4h1.1v1.1h-1.1zM128.2 329.6h1.1v1.1h-1.1zM129.7 328.6h1.1v1.1h-1.1zM123.2 330.9h1.1v1.1h-1.1zM124.7 319.0h1.1v1.1h-1.1zM143.5 324.1h1.1v1.1h-1.1zM116.5 324.0h1.1v1.1h-1.1zM134.1 323.7h1.1v1.1h-1.1zM123.4 331.7h1.1v1.1h-1.1zM131.4 321.0h1.1v1.1h-1.1zM124.1 332.1h1.1v1.1h-1.1zM136.2 313.8h1.1v1.1h-1.1zM127.6 317.2h1.1v1.1h-1.1zM121.2 325.2h1.1v1.1h-1.1zM119.4 321.5h1.1v1.1h-1.1zM137.2 325.7h1.1v1.1h-1.1zM145.4 321.1h1.1v1.1h-1.1zM121.2 322.8h1.1v1.1h-1.1zM140.6 319.9h1.1v1.1h-1.1zM133.8 315.4h1.1v1.1h-1.1zM119.8 325.0h1.1v1.1h-1.1zM138.2 327.4h1.1v1.1h-1.1zM125.0 318.4h1.1v1.1h-1.1zM133.7 325.2h1.1v1.1h-1.1zM135.6 326.9h1.1v1.1h-1.1zM132.0 328.8h1.1v1.1h-1.1zM122.9 315.1h1.1v1.1h-1.1zM137.7 327.0h1.1v1.1h-1.1zM135.8 328.7h1.1v1.1h-1.1zM122.7 320.9h1.1v1.1h-1.1zM126.2 321.2h1.1v1.1h-1.1zM140.6 318.0h1.1v1.1h-1.1zM124.7 319.7h1.1v1.1h-1.1zM135.2 315.3h1.1v1.1h-1.1zM128.0 322.8h1.1v1.1h-1.1zM122.2 318.5h1.1v1.1h-1.1zM134.6 322.9h1.1v1.1h-1.1zM139.7 326.8h1.1v1.1h-1.1zM141.2 329.4h1.1v1.1h-1.1zM128.0 317.4h1.1v1.1h-1.1zM138.7 322.9h1.1v1.1h-1.1zM126.5 329.8h1.1v1.1h-1.1zM139.6 317.1h1.1v1.1h-1.1zM117.6 329.9h1.1v1.1h-1.1zM134.6 328.9h1.1v1.1h-1.1zM113.3 335.4h1.1v1.1h-1.1zM127.7 329.6h1.1v1.1h-1.1zM133.7 327.9h1.1v1.1h-1.1zM123.0 323.4h1.1v1.1h-1.1zM137.7 316.1h1.1v1.1h-1.1zM125.3 320.3h1.1v1.1h-1.1zM128.3 332.3h1.1v1.1h-1.1zM120.0 323.1h1.1v1.1h-1.1zM126.8 319.4h1.1v1.1h-1.1zM123.1 315.7h1.1v1.1h-1.1zM130.2 332.0h1.1v1.1h-1.1zM141.2 319.2h1.1v1.1h-1.1zM133.4 321.2h1.1v1.1h-1.1zM124.9 316.7h1.1v1.1h-1.1zM125.2 328.4h1.1v1.1h-1.1zM128.8 330.1h1.1v1.1h-1.1zM135.6 318.8h1.1v1.1h-1.1zM114.9 322.5h1.1v1.1h-1.1zM136.1 317.7h1.1v1.1h-1.1zM129.3 321.4h1.1v1.1h-1.1zM133.6 328.3h1.1v1.1h-1.1zM127.2 331.6h1.1v1.1h-1.1zM124.8 321.3h1.1v1.1h-1.1zM124.1 325.1h1.1v1.1h-1.1zM127.6 327.2h1.1v1.1h-1.1zM126.9 318.9h1.1v1.1h-1.1zM134.0 328.2h1.1v1.1h-1.1zM126.5 333.3h1.1v1.1h-1.1zM144.0 331.1h1.1v1.1h-1.1zM135.8 329.2h1.1v1.1h-1.1zM145.1 320.9h1.1v1.1h-1.1zM138.5 325.0h1.1v1.1h-1.1zM127.9 316.5h1.1v1.1h-1.1zM123.9 330.1h1.1v1.1h-1.1zM128.1 330.8h1.1v1.1h-1.1zM119.1 330.2h1.1v1.1h-1.1zM135.1 329.7h1.1v1.1h-1.1zM129.2 333.4h1.1v1.1h-1.1zM131.4 328.7h1.1v1.1h-1.1zM119.2 330.4h1.1v1.1h-1.1zM133.3 322.6h1.1v1.1h-1.1zM142.9 321.3h1.1v1.1h-1.1zM140.7 329.3h1.1v1.1h-1.1zM124.6 322.5h1.1v1.1h-1.1zM122.1 323.8h1.1v1.1h-1.1zM125.6 322.9h1.1v1.1h-1.1zM124.0 330.5h1.1v1.1h-1.1zM137.0 319.7h1.1v1.1h-1.1zM136.5 318.5h1.1v1.1h-1.1zM120.7 328.3h1.1v1.1h-1.1zM131.7 317.5h1.1v1.1h-1.1zM136.5 326.4h1.1v1.1h-1.1zM138.5 322.3h1.1v1.1h-1.1zM126.4 318.6h1.1v1.1h-1.1zM133.2 324.6h1.1v1.1h-1.1zM123.9 323.7h1.1v1.1h-1.1zM135.4 317.5h1.1v1.1h-1.1zM129.7 322.3h1.1v1.1h-1.1zM133.3 325.0h1.1v1.1h-1.1zM120.6 320.6h1.1v1.1h-1.1zM134.2 327.9h1.1v1.1h-1.1zM127.7 316.3h1.1v1.1h-1.1zM120.8 319.4h1.1v1.1h-1.1zM127.9 315.5h1.1v1.1h-1.1zM135.0 328.7h1.1v1.1h-1.1zM128.2 320.1h1.1v1.1h-1.1zM115.0 327.9h1.1v1.1h-1.1zM133.5 325.1h1.1v1.1h-1.1zM129.3 316.5h1.1v1.1h-1.1zM132.5 323.2h1.1v1.1h-1.1zM126.8 328.9h1.1v1.1h-1.1zM128.5 326.1h1.1v1.1h-1.1zM123.0 322.0h1.1v1.1h-1.1zM131.9 314.6h1.1v1.1h-1.1zM132.5 320.6h1.1v1.1h-1.1zM136.0 323.6h1.1v1.1h-1.1zM132.2 319.1h1.1v1.1h-1.1zM120.8 327.6h1.1v1.1h-1.1zM123.1 328.9h1.1v1.1h-1.1zM118.0 328.3h1.1v1.1h-1.1zM127.3 330.2h1.1v1.1h-1.1zM125.3 326.7h1.1v1.1h-1.1zM131.0 323.7h1.1v1.1h-1.1zM142.0 315.9h1.1v1.1h-1.1zM126.7 324.6h1.1v1.1h-1.1zM134.6 328.3h1.1v1.1h-1.1zM128.2 319.6h1.1v1.1h-1.1zM127.8 327.4h1.1v1.1h-1.1zM122.2 325.7h1.1v1.1h-1.1zM130.2 327.8h1.1v1.1h-1.1zM129.4 320.4h1.1v1.1h-1.1zM137.5 326.0h1.1v1.1h-1.1zM136.4 317.7h1.1v1.1h-1.1zM129.7 322.4h1.1v1.1h-1.1zM125.6 322.9h1.1v1.1h-1.1zM128.2 316.5h1.1v1.1h-1.1zM127.3 319.2h1.1v1.1h-1.1zM128.8 319.1h1.1v1.1h-1.1zM129.6 331.9h1.1v1.1h-1.1zM119.3 328.5h1.1v1.1h-1.1zM134.1 331.9h1.1v1.1h-1.1zM137.9 324.1h1.1v1.1h-1.1zM142.2 315.1h1.1v1.1h-1.1zM121.2 333.1h1.1v1.1h-1.1zM141.7 317.8h1.1v1.1h-1.1zM127.1 315.2h1.1v1.1h-1.1zM132.3 318.5h1.1v1.1h-1.1zM133.1 322.9h1.1v1.1h-1.1zM135.2 322.2h1.1v1.1h-1.1zM138.2 327.2h1.1v1.1h-1.1zM127.6 322.3h1.1v1.1h-1.1zM129.7 322.4h1.1v1.1h-1.1zM140.4 325.6h1.1v1.1h-1.1zM124.4 333.3h1.1v1.1h-1.1zM135.9 329.9h1.1v1.1h-1.1zM113.2 321.3h1.1v1.1h-1.1zM133.2 322.4h1.1v1.1h-1.1zM116.2 327.3h1.1v1.1h-1.1zM136.4 318.0h1.1v1.1h-1.1zM117.8 329.7h1.1v1.1h-1.1zM131.0 324.7h1.1v1.1h-1.1zM133.6 332.4h1.1v1.1h-1.1zM138.9 316.3h1.1v1.1h-1.1zM131.3 332.7h1.1v1.1h-1.1zM128.1 316.1h1.1v1.1h-1.1zM122.6 318.1h1.1v1.1h-1.1zM131.3 315.6h1.1v1.1h-1.1zM128.9 320.1h1.1v1.1h-1.1zM129.4 327.7h1.1v1.1h-1.1zM129.9 329.2h1.1v1.1h-1.1zM128.7 323.2h1.1v1.1h-1.1zM129.3 322.4h1.1v1.1h-1.1zM122.7 318.1h1.1v1.1h-1.1zM135.2 327.9h1.1v1.1h-1.1zM137.0 316.7h1.1v1.1h-1.1zM132.7 327.6h1.1v1.1h-1.1zM127.9 321.8h1.1v1.1h-1.1zM132.0 330.7h1.1v1.1h-1.1zM124.0 329.0h1.1v1.1h-1.1zM126.0 318.0h1.1v1.1h-1.1zM133.1 323.1h1.1v1.1h-1.1zM132.2 325.4h1.1v1.1h-1.1zM136.0 314.5h1.1v1.1h-1.1zM116.7 321.4h1.1v1.1h-1.1zM136.0 316.4h1.1v1.1h-1.1zM125.7 324.9h1.1v1.1h-1.1z" fill="#ab2424" opacity="1.0"/>
<text transform="translate(89.6,308.6) rotate(-90)" font-size="8.8" fill="#444" text-anchor="middle" textLength="15.8" lengthAdjust="spacingAndGlyphs">PC3</text>
<text transform="translate(113,344) rotate(22)" font-size="8.8" fill="#444" text-anchor="middle" textLength="15.5" lengthAdjust="spacingAndGlyphs">PC1</text>
<text transform="translate(159.8,343) rotate(-36)" font-size="8.8" fill="#444" text-anchor="middle" textLength="15.5" lengthAdjust="spacingAndGlyphs">PC2</text>
<line x1="97.6" y1="391.8" x2="97.7" y2="440.4" stroke="#c6c6c6" stroke-width="0.5" />
<line x1="91.7" y1="405.5" x2="121.4" y2="385.4" stroke="#c6c6c6" stroke-width="0.5" />
<line x1="103.5" y1="387.8" x2="103.7" y2="436.3" stroke="#c6c6c6" stroke-width="0.5" />
<line x1="91.7" y1="415.3" x2="121.5" y2="395.1" stroke="#c6c6c6" stroke-width="0.5" />
<line x1="109.5" y1="383.8" x2="109.8" y2="432.2" stroke="#c6c6c6" stroke-width="0.5" />
<line x1="91.7" y1="425" x2="121.6" y2="404.7" stroke="#c6c6c6" stroke-width="0.5" />
<line x1="115.4" y1="379.8" x2="115.8" y2="428.1" stroke="#c6c6c6" stroke-width="0.5" />
<line x1="91.7" y1="434.8" x2="121.7" y2="414.4" stroke="#c6c6c6" stroke-width="0.5" />
<line x1="131" y1="379.8" x2="131.4" y2="427.9" stroke="#c6c6c6" stroke-width="0.5" />
<line x1="121.4" y1="385.4" x2="170" y2="405.3" stroke="#c6c6c6" stroke-width="0.5" />
<line x1="140.8" y1="383.8" x2="141.1" y2="431.7" stroke="#c6c6c6" stroke-width="0.5" />
<line x1="121.5" y1="395.1" x2="170" y2="414.8" stroke="#c6c6c6" stroke-width="0.5" />
<line x1="150.5" y1="387.8" x2="150.7" y2="435.6" stroke="#c6c6c6" stroke-width="0.5" />
<line x1="121.6" y1="404.7" x2="170" y2="424.3" stroke="#c6c6c6" stroke-width="0.5" />
<line x1="160.3" y1="391.8" x2="160.4" y2="439.4" stroke="#c6c6c6" stroke-width="0.5" />
<line x1="121.7" y1="414.4" x2="170" y2="433.8" stroke="#c6c6c6" stroke-width="0.5" />
<line x1="97.7" y1="440.4" x2="145.9" y2="459.7" stroke="#c6c6c6" stroke-width="0.5" />
<line x1="131.4" y1="427.9" x2="101.3" y2="448.4" stroke="#c6c6c6" stroke-width="0.5" />
<line x1="103.7" y1="436.3" x2="151.9" y2="455.6" stroke="#c6c6c6" stroke-width="0.5" />
<line x1="141.1" y1="431.7" x2="111" y2="452.2" stroke="#c6c6c6" stroke-width="0.5" />
<line x1="109.8" y1="432.2" x2="158" y2="451.5" stroke="#c6c6c6" stroke-width="0.5" />
<line x1="150.7" y1="435.6" x2="120.6" y2="456.1" stroke="#c6c6c6" stroke-width="0.5" />
<line x1="115.8" y1="428.1" x2="164" y2="447.4" stroke="#c6c6c6" stroke-width="0.5" />
<line x1="160.4" y1="439.4" x2="130.3" y2="459.9" stroke="#c6c6c6" stroke-width="0.5" />
<line x1="91.7" y1="395.8" x2="121.3" y2="375.8" stroke="#cfcfcf" stroke-width="0.6" />
<line x1="121.3" y1="375.8" x2="170" y2="395.8" stroke="#cfcfcf" stroke-width="0.6" />
<line x1="121.3" y1="375.8" x2="121.8" y2="424" stroke="#cfcfcf" stroke-width="0.6" />
<line x1="121.8" y1="424" x2="91.7" y2="444.5" stroke="#cfcfcf" stroke-width="0.6" />
<line x1="121.8" y1="424" x2="170" y2="443.3" stroke="#cfcfcf" stroke-width="0.6" />
<line x1="170" y1="395.8" x2="170" y2="443.3" stroke="#cfcfcf" stroke-width="0.6" />
<line x1="91.7" y1="395.8" x2="91.7" y2="444.5" stroke="#555" stroke-width="0.9" />
<line x1="91.7" y1="444.5" x2="139.9" y2="463.8" stroke="#555" stroke-width="0.9" />
<line x1="139.9" y1="463.8" x2="170" y2="443.3" stroke="#555" stroke-width="0.9" />
<path d="M149.1 424.6h1.1v1.1h-1.1zM155.3 420.1h1.1v1.1h-1.1zM149.5 407.3h1.1v1.1h-1.1zM145.5 409.8h1.1v1.1h-1.1zM142.5 419.3h1.1v1.1h-1.1zM152.1 423.8h1.1v1.1h-1.1zM153.3 417.6h1.1v1.1h-1.1zM150.3 423.3h1.1v1.1h-1.1zM150.8 430.9h1.1v1.1h-1.1zM151.7 423.2h1.1v1.1h-1.1zM149.7 411.2h1.1v1.1h-1.1zM147.0 428.9h1.1v1.1h-1.1zM145.8 422.1h1.1v1.1h-1.1zM148.8 414.2h1.1v1.1h-1.1zM154.3 414.6h1.1v1.1h-1.1zM149.0 417.4h1.1v1.1h-1.1zM145.7 413.2h1.1v1.1h-1.1zM140.3 418.1h1.1v1.1h-1.1zM150.7 419.6h1.1v1.1h-1.1zM143.3 424.1h1.1v1.1h-1.1zM153.1 413.5h1.1v1.1h-1.1zM152.0 413.9h1.1v1.1h-1.1zM153.1 419.3h1.1v1.1h-1.1zM146.0 416.9h1.1v1.1h-1.1zM151.0 427.0h1.1v1.1h-1.1zM149.1 410.6h1.1v1.1h-1.1zM154.4 416.5h1.1v1.1h-1.1zM146.1 417.1h1.1v1.1h-1.1zM143.5 419.5h1.1v1.1h-1.1zM152.0 407.0h1.1v1.1h-1.1zM150.9 413.3h1.1v1.1h-1.1zM150.8 419.6h1.1v1.1h-1.1zM145.7 418.0h1.1v1.1h-1.1zM145.0 424.7h1.1v1.1h-1.1zM143.9 427.7h1.1v1.1h-1.1zM153.0 422.7h1.1v1.1h-1.1zM150.9 413.0h1.1v1.1h-1.1zM155.9 416.9h1.1v1.1h-1.1zM149.9 420.9h1.1v1.1h-1.1zM154.2 413.9h1.1v1.1h-1.1zM149.7 410.1h1.1v1.1h-1.1zM139.3 412.4h1.1v1.1h-1.1zM145.0 426.3h1.1v1.1h-1.1zM152.8 416.5h1.1v1.1h-1.1zM143.8 415.0h1.1v1.1h-1.1zM153.4 422.8h1.1v1.1h-1.1zM144.3 418.8h1.1v1.1h-1.1zM142.8 426.5h1.1v1.1h-1.1zM144.8 420.2h1.1v1.1h-1.1zM151.4 422.4h1.1v1.1h-1.1zM155.9 415.8h1.1v1.1h-1.1zM148.2 414.8h1.1v1.1h-1.1zM145.2 426.5h1.1v1.1h-1.1zM152.8 414.2h1.1v1.1h-1.1zM142.8 412.6h1.1v1.1h-1.1zM150.4 431.2h1.1v1.1h-1.1zM143.0 414.3h1.1v1.1h-1.1zM152.8 412.9h1.1v1.1h-1.1zM146.8 418.3h1.1v1.1h-1.1zM146.0 423.2h1.1v1.1h-1.1zM141.6 414.9h1.1v1.1h-1.1zM146.7 412.9h1.1v1.1h-1.1zM155.6 413.9h1.1v1.1h-1.1zM142.0 419.4h1.1v1.1h-1.1zM147.3 411.3h1.1v1.1h-1.1zM144.9 425.2h1.1v1.1h-1.1zM152.9 410.5h1.1v1.1h-1.1zM146.9 425.1h1.1v1.1h-1.1zM151.5 421.0h1.1v1.1h-1.1zM144.0 413.9h1.1v1.1h-1.1zM152.8 419.5h1.1v1.1h-1.1zM142.1 417.7h1.1v1.1h-1.1zM153.0 421.4h1.1v1.1h-1.1zM148.8 426.2h1.1v1.1h-1.1zM147.9 429.4h1.1v1.1h-1.1zM148.7 428.7h1.1v1.1h-1.1zM151.8 409.7h1.1v1.1h-1.1zM146.1 427.6h1.1v1.1h-1.1zM145.0 420.0h1.1v1.1h-1.1zM152.3 415.4h1.1v1.1h-1.1zM150.6 411.0h1.1v1.1h-1.1zM147.3 420.3h1.1v1.1h-1.1zM152.4 422.1h1.1v1.1h-1.1zM146.7 420.7h1.1v1.1h-1.1zM151.5 416.1h1.1v1.1h-1.1zM152.2 420.4h1.1v1.1h-1.1zM150.6 424.2h1.1v1.1h-1.1zM146.4 422.3h1.1v1.1h-1.1zM154.6 422.1h1.1v1.1h-1.1zM144.5 414.1h1.1v1.1h-1.1zM148.8 424.1h1.1v1.1h-1.1zM143.4 424.3h1.1v1.1h-1.1zM159.9 415.5h1.1v1.1h-1.1zM142.3 416.4h1.1v1.1h-1.1zM153.2 408.8h1.1v1.1h-1.1zM151.0 406.9h1.1v1.1h-1.1zM142.9 422.4h1.1v1.1h-1.1zM154.8 418.2h1.1v1.1h-1.1zM150.7 418.6h1.1v1.1h-1.1zM145.3 417.1h1.1v1.1h-1.1zM153.2 418.6h1.1v1.1h-1.1zM147.9 409.7h1.1v1.1h-1.1zM145.1 414.4h1.1v1.1h-1.1zM144.7 408.2h1.1v1.1h-1.1zM155.7 411.7h1.1v1.1h-1.1zM149.5 416.6h1.1v1.1h-1.1zM148.5 411.5h1.1v1.1h-1.1zM141.1 421.4h1.1v1.1h-1.1zM149.3 420.2h1.1v1.1h-1.1zM149.3 419.7h1.1v1.1h-1.1zM152.9 413.2h1.1v1.1h-1.1zM146.1 417.4h1.1v1.1h-1.1zM155.8 412.2h1.1v1.1h-1.1zM152.2 422.5h1.1v1.1h-1.1zM151.7 409.7h1.1v1.1h-1.1zM143.2 412.4h1.1v1.1h-1.1zM146.2 416.7h1.1v1.1h-1.1zM150.8 426.8h1.1v1.1h-1.1zM145.9 415.4h1.1v1.1h-1.1zM153.1 425.1h1.1v1.1h-1.1zM156.7 420.6h1.1v1.1h-1.1zM151.6 418.0h1.1v1.1h-1.1zM153.9 413.7h1.1v1.1h-1.1zM157.0 417.4h1.1v1.1h-1.1zM148.5 410.4h1.1v1.1h-1.1zM143.7 423.9h1.1v1.1h-1.1zM150.7 409.7h1.1v1.1h-1.1zM148.9 416.1h1.1v1.1h-1.1zM151.6 422.2h1.1v1.1h-1.1zM150.3 418.6h1.1v1.1h-1.1zM152.4 421.6h1.1v1.1h-1.1zM150.2 419.3h1.1v1.1h-1.1zM154.8 419.6h1.1v1.1h-1.1zM143.2 422.2h1.1v1.1h-1.1zM148.5 412.4h1.1v1.1h-1.1zM148.4 424.6h1.1v1.1h-1.1zM149.5 412.9h1.1v1.1h-1.1zM149.6 427.1h1.1v1.1h-1.1zM149.9 425.8h1.1v1.1h-1.1zM144.6 420.1h1.1v1.1h-1.1zM152.3 414.8h1.1v1.1h-1.1zM149.9 407.7h1.1v1.1h-1.1zM146.4 408.5h1.1v1.1h-1.1zM146.9 421.0h1.1v1.1h-1.1zM157.8 412.7h1.1v1.1h-1.1zM145.6 423.9h1.1v1.1h-1.1zM146.4 423.3h1.1v1.1h-1.1zM147.1 418.7h1.1v1.1h-1.1zM145.3 413.6h1.1v1.1h-1.1zM149.6 415.0h1.1v1.1h-1.1zM146.4 420.4h1.1v1.1h-1.1zM142.4 414.6h1.1v1.1h-1.1zM147.7 421.1h1.1v1.1h-1.1zM148.6 421.7h1.1v1.1h-1.1zM149.2 415.6h1.1v1.1h-1.1zM147.2 406.8h1.1v1.1h-1.1zM150.3 422.3h1.1v1.1h-1.1zM145.2 412.3h1.1v1.1h-1.1zM150.2 423.5h1.1v1.1h-1.1zM155.5 420.3h1.1v1.1h-1.1zM152.8 413.7h1.1v1.1h-1.1zM150.8 416.2h1.1v1.1h-1.1zM148.0 412.2h1.1v1.1h-1.1zM152.7 410.3h1.1v1.1h-1.1zM150.8 417.2h1.1v1.1h-1.1zM150.5 419.9h1.1v1.1h-1.1zM155.5 411.0h1.1v1.1h-1.1zM158.4 418.1h1.1v1.1h-1.1zM154.5 416.4h1.1v1.1h-1.1zM149.8 421.9h1.1v1.1h-1.1zM153.1 425.6h1.1v1.1h-1.1zM149.4 422.7h1.1v1.1h-1.1zM151.5 413.2h1.1v1.1h-1.1zM148.7 424.9h1.1v1.1h-1.1zM147.8 418.5h1.1v1.1h-1.1zM149.7 427.9h1.1v1.1h-1.1zM148.2 422.8h1.1v1.1h-1.1zM153.0 414.0h1.1v1.1h-1.1zM146.6 409.0h1.1v1.1h-1.1zM145.4 417.3h1.1v1.1h-1.1zM142.2 419.4h1.1v1.1h-1.1zM149.0 417.8h1.1v1.1h-1.1zM155.3 415.6h1.1v1.1h-1.1zM140.4 419.3h1.1v1.1h-1.1zM142.5 419.2h1.1v1.1h-1.1zM145.5 415.6h1.1v1.1h-1.1zM145.3 410.9h1.1v1.1h-1.1zM144.0 409.9h1.1v1.1h-1.1zM148.4 421.4h1.1v1.1h-1.1zM153.6 418.5h1.1v1.1h-1.1zM148.9 418.2h1.1v1.1h-1.1zM149.1 420.9h1.1v1.1h-1.1zM153.1 416.1h1.1v1.1h-1.1zM150.2 406.4h1.1v1.1h-1.1zM143.7 417.4h1.1v1.1h-1.1zM151.9 406.0h1.1v1.1h-1.1zM152.6 422.3h1.1v1.1h-1.1zM148.7 426.6h1.1v1.1h-1.1zM142.5 416.1h1.1v1.1h-1.1zM146.6 410.2h1.1v1.1h-1.1zM149.0 426.4h1.1v1.1h-1.1zM146.5 421.6h1.1v1.1h-1.1zM146.8 420.0h1.1v1.1h-1.1zM151.4 414.1h1.1v1.1h-1.1zM151.1 417.9h1.1v1.1h-1.1zM145.9 415.3h1.1v1.1h-1.1zM145.3 408.1h1.1v1.1h-1.1zM150.3 418.7h1.1v1.1h-1.1zM150.1 419.2h1.1v1.1h-1.1zM147.4 411.1h1.1v1.1h-1.1zM155.2 421.5h1.1v1.1h-1.1zM146.4 417.1h1.1v1.1h-1.1zM143.2 414.5h1.1v1.1h-1.1zM142.0 422.2h1.1v1.1h-1.1zM149.5 412.3h1.1v1.1h-1.1zM153.8 423.1h1.1v1.1h-1.1zM153.7 413.7h1.1v1.1h-1.1zM150.5 417.5h1.1v1.1h-1.1zM150.8 407.5h1.1v1.1h-1.1zM151.8 419.8h1.1v1.1h-1.1zM153.7 420.5h1.1v1.1h-1.1zM143.3 408.7h1.1v1.1h-1.1zM154.3 413.5h1.1v1.1h-1.1zM155.0 418.5h1.1v1.1h-1.1zM141.8 419.7h1.1v1.1h-1.1zM140.0 423.5h1.1v1.1h-1.1zM152.3 410.6h1.1v1.1h-1.1zM153.4 420.0h1.1v1.1h-1.1zM147.3 409.7h1.1v1.1h-1.1zM149.7 412.7h1.1v1.1h-1.1zM154.2 419.1h1.1v1.1h-1.1zM153.2 418.2h1.1v1.1h-1.1zM144.7 413.2h1.1v1.1h-1.1zM145.9 425.1h1.1v1.1h-1.1zM152.9 415.5h1.1v1.1h-1.1zM142.6 413.5h1.1v1.1h-1.1zM154.2 414.7h1.1v1.1h-1.1zM152.3 415.3h1.1v1.1h-1.1zM152.2 416.1h1.1v1.1h-1.1zM149.1 422.8h1.1v1.1h-1.1zM143.5 417.6h1.1v1.1h-1.1zM147.1 427.2h1.1v1.1h-1.1zM150.8 426.4h1.1v1.1h-1.1zM152.1 422.9h1.1v1.1h-1.1zM149.4 427.6h1.1v1.1h-1.1zM149.0 417.9h1.1v1.1h-1.1zM152.9 411.3h1.1v1.1h-1.1zM154.1 422.0h1.1v1.1h-1.1zM143.1 418.0h1.1v1.1h-1.1zM144.0 423.8h1.1v1.1h-1.1zM149.8 411.2h1.1v1.1h-1.1zM157.9 421.7h1.1v1.1h-1.1zM144.2 426.1h1.1v1.1h-1.1zM146.5 425.7h1.1v1.1h-1.1zM142.1 415.2h1.1v1.1h-1.1zM151.1 411.3h1.1v1.1h-1.1zM151.7 433.5h1.1v1.1h-1.1zM151.2 413.3h1.1v1.1h-1.1zM151.3 411.3h1.1v1.1h-1.1zM143.7 421.4h1.1v1.1h-1.1zM151.7 422.8h1.1v1.1h-1.1zM144.7 403.3h1.1v1.1h-1.1zM152.8 419.7h1.1v1.1h-1.1zM146.6 412.5h1.1v1.1h-1.1zM147.9 423.7h1.1v1.1h-1.1zM142.6 420.5h1.1v1.1h-1.1zM149.5 410.5h1.1v1.1h-1.1zM145.8 426.5h1.1v1.1h-1.1zM147.6 410.7h1.1v1.1h-1.1zM148.2 411.5h1.1v1.1h-1.1zM149.2 411.8h1.1v1.1h-1.1zM143.9 423.3h1.1v1.1h-1.1zM152.4 420.3h1.1v1.1h-1.1zM150.9 422.6h1.1v1.1h-1.1zM155.3 420.4h1.1v1.1h-1.1zM150.9 420.9h1.1v1.1h-1.1zM146.3 419.0h1.1v1.1h-1.1zM147.0 423.4h1.1v1.1h-1.1zM144.9 409.5h1.1v1.1h-1.1zM146.2 414.3h1.1v1.1h-1.1zM148.6 418.8h1.1v1.1h-1.1zM142.4 425.3h1.1v1.1h-1.1zM145.1 418.6h1.1v1.1h-1.1zM149.7 411.4h1.1v1.1h-1.1zM147.0 425.4h1.1v1.1h-1.1zM139.6 414.5h1.1v1.1h-1.1zM143.6 417.1h1.1v1.1h-1.1zM154.0 421.4h1.1v1.1h-1.1zM157.5 417.5h1.1v1.1h-1.1zM144.3 406.4h1.1v1.1h-1.1zM145.8 425.9h1.1v1.1h-1.1zM155.0 419.9h1.1v1.1h-1.1zM138.0 419.5h1.1v1.1h-1.1zM144.1 414.6h1.1v1.1h-1.1zM149.7 418.9h1.1v1.1h-1.1zM153.0 421.1h1.1v1.1h-1.1zM150.7 422.9h1.1v1.1h-1.1zM153.2 416.1h1.1v1.1h-1.1zM151.9 424.1h1.1v1.1h-1.1zM149.0 414.4h1.1v1.1h-1.1zM148.1 423.3h1.1v1.1h-1.1zM145.4 415.2h1.1v1.1h-1.1zM150.3 423.1h1.1v1.1h-1.1zM150.1 414.5h1.1v1.1h-1.1zM157.5 421.5h1.1v1.1h-1.1zM144.2 418.3h1.1v1.1h-1.1zM147.0 420.8h1.1v1.1h-1.1zM147.8 418.1h1.1v1.1h-1.1zM152.3 408.9h1.1v1.1h-1.1zM150.9 417.6h1.1v1.1h-1.1zM144.8 411.5h1.1v1.1h-1.1zM151.1 427.5h1.1v1.1h-1.1zM152.8 413.9h1.1v1.1h-1.1zM143.4 427.2h1.1v1.1h-1.1zM156.2 419.9h1.1v1.1h-1.1zM139.5 409.9h1.1v1.1h-1.1zM153.4 410.9h1.1v1.1h-1.1zM144.6 414.9h1.1v1.1h-1.1zM141.6 418.3h1.1v1.1h-1.1zM153.2 407.2h1.1v1.1h-1.1zM148.1 414.8h1.1v1.1h-1.1zM150.7 414.2h1.1v1.1h-1.1zM150.2 407.6h1.1v1.1h-1.1zM146.0 416.9h1.1v1.1h-1.1zM147.6 414.8h1.1v1.1h-1.1zM149.8 406.3h1.1v1.1h-1.1zM142.2 422.4h1.1v1.1h-1.1zM154.5 419.8h1.1v1.1h-1.1zM153.1 420.8h1.1v1.1h-1.1zM147.0 425.2h1.1v1.1h-1.1zM150.7 418.6h1.1v1.1h-1.1zM144.8 412.0h1.1v1.1h-1.1zM153.2 420.2h1.1v1.1h-1.1zM148.2 428.7h1.1v1.1h-1.1zM145.9 420.4h1.1v1.1h-1.1zM143.2 423.0h1.1v1.1h-1.1zM144.5 418.7h1.1v1.1h-1.1zM145.3 415.3h1.1v1.1h-1.1zM150.8 417.9h1.1v1.1h-1.1zM150.0 424.1h1.1v1.1h-1.1zM152.9 410.8h1.1v1.1h-1.1zM142.4 411.7h1.1v1.1h-1.1zM152.9 410.4h1.1v1.1h-1.1zM148.8 423.0h1.1v1.1h-1.1zM149.0 407.6h1.1v1.1h-1.1zM144.7 418.4h1.1v1.1h-1.1zM145.5 412.0h1.1v1.1h-1.1zM147.1 430.5h1.1v1.1h-1.1zM146.5 427.7h1.1v1.1h-1.1zM152.9 417.5h1.1v1.1h-1.1zM145.7 407.3h1.1v1.1h-1.1zM147.0 410.3h1.1v1.1h-1.1zM149.4 417.0h1.1v1.1h-1.1zM143.5 425.8h1.1v1.1h-1.1zM145.8 426.0h1.1v1.1h-1.1zM153.7 417.2h1.1v1.1h-1.1zM143.8 420.4h1.1v1.1h-1.1zM148.3 418.5h1.1v1.1h-1.1zM153.3 413.0h1.1v1.1h-1.1zM149.2 414.7h1.1v1.1h-1.1zM151.1 423.2h1.1v1.1h-1.1zM144.7 423.9h1.1v1.1h-1.1zM146.4 410.9h1.1v1.1h-1.1zM148.5 412.7h1.1v1.1h-1.1zM148.0 415.6h1.1v1.1h-1.1zM148.1 412.0h1.1v1.1h-1.1zM145.0 422.6h1.1v1.1h-1.1zM151.4 409.6h1.1v1.1h-1.1zM150.2 419.1h1.1v1.1h-1.1zM146.1 417.1h1.1v1.1h-1.1zM150.2 414.3h1.1v1.1h-1.1zM143.7 424.6h1.1v1.1h-1.1zM150.4 407.3h1.1v1.1h-1.1zM142.7 414.2h1.1v1.1h-1.1zM149.6 417.2h1.1v1.1h-1.1zM148.0 425.5h1.1v1.1h-1.1zM153.5 418.4h1.1v1.1h-1.1zM141.3 419.7h1.1v1.1h-1.1zM152.6 410.6h1.1v1.1h-1.1zM147.7 416.2h1.1v1.1h-1.1z" fill="#b6d4ea" opacity="1.0"/>
<path d="M101.9 424.7h1.1v1.1h-1.1zM115.2 424.5h1.1v1.1h-1.1zM99.9 423.3h1.1v1.1h-1.1zM119.3 435.6h1.1v1.1h-1.1zM120.3 427.8h1.1v1.1h-1.1zM120.2 428.0h1.1v1.1h-1.1zM117.9 428.7h1.1v1.1h-1.1zM104.8 428.6h1.1v1.1h-1.1zM118.6 439.5h1.1v1.1h-1.1zM137.0 429.5h1.1v1.1h-1.1zM108.0 427.1h1.1v1.1h-1.1zM105.4 434.6h1.1v1.1h-1.1zM112.2 433.5h1.1v1.1h-1.1zM111.2 436.3h1.1v1.1h-1.1zM113.9 427.4h1.1v1.1h-1.1zM111.2 431.5h1.1v1.1h-1.1zM115.3 436.4h1.1v1.1h-1.1zM114.5 434.3h1.1v1.1h-1.1zM118.7 426.2h1.1v1.1h-1.1zM123.9 428.5h1.1v1.1h-1.1zM102.9 430.9h1.1v1.1h-1.1zM120.4 432.3h1.1v1.1h-1.1zM114.6 425.7h1.1v1.1h-1.1zM123.1 432.8h1.1v1.1h-1.1zM126.3 423.9h1.1v1.1h-1.1zM106.3 436.5h1.1v1.1h-1.1zM116.8 422.5h1.1v1.1h-1.1zM110.9 432.8h1.1v1.1h-1.1zM112.6 420.8h1.1v1.1h-1.1zM124.5 425.8h1.1v1.1h-1.1zM108.3 437.1h1.1v1.1h-1.1zM107.7 436.6h1.1v1.1h-1.1zM114.7 432.2h1.1v1.1h-1.1zM130.9 432.1h1.1v1.1h-1.1zM114.5 429.7h1.1v1.1h-1.1zM114.3 422.6h1.1v1.1h-1.1zM112.8 431.1h1.1v1.1h-1.1zM116.9 435.6h1.1v1.1h-1.1zM125.6 433.7h1.1v1.1h-1.1zM108.8 422.9h1.1v1.1h-1.1zM122.8 436.6h1.1v1.1h-1.1zM123.1 432.0h1.1v1.1h-1.1zM100.7 429.7h1.1v1.1h-1.1zM104.1 432.8h1.1v1.1h-1.1zM124.0 429.9h1.1v1.1h-1.1zM106.2 437.2h1.1v1.1h-1.1zM105.6 427.6h1.1v1.1h-1.1zM116.8 432.4h1.1v1.1h-1.1zM122.0 429.1h1.1v1.1h-1.1zM104.9 431.7h1.1v1.1h-1.1zM125.6 422.2h1.1v1.1h-1.1zM123.3 433.2h1.1v1.1h-1.1zM103.1 437.8h1.1v1.1h-1.1zM101.6 430.9h1.1v1.1h-1.1zM111.9 423.8h1.1v1.1h-1.1zM130.5 427.5h1.1v1.1h-1.1zM111.7 429.3h1.1v1.1h-1.1zM119.9 435.5h1.1v1.1h-1.1zM98.1 433.4h1.1v1.1h-1.1zM123.3 425.3h1.1v1.1h-1.1zM120.2 438.8h1.1v1.1h-1.1zM116.1 425.4h1.1v1.1h-1.1zM118.3 426.8h1.1v1.1h-1.1zM103.5 426.8h1.1v1.1h-1.1zM105.4 438.7h1.1v1.1h-1.1zM116.7 436.1h1.1v1.1h-1.1zM104.1 434.9h1.1v1.1h-1.1zM113.8 433.5h1.1v1.1h-1.1zM115.5 432.7h1.1v1.1h-1.1zM113.4 423.4h1.1v1.1h-1.1zM132.7 424.0h1.1v1.1h-1.1zM106.2 430.0h1.1v1.1h-1.1zM117.3 434.7h1.1v1.1h-1.1zM110.4 432.3h1.1v1.1h-1.1zM109.8 433.4h1.1v1.1h-1.1zM117.3 439.6h1.1v1.1h-1.1zM106.3 427.9h1.1v1.1h-1.1zM100.0 435.6h1.1v1.1h-1.1zM114.9 434.6h1.1v1.1h-1.1zM105.7 436.7h1.1v1.1h-1.1zM115.3 442.3h1.1v1.1h-1.1zM108.1 429.0h1.1v1.1h-1.1zM99.1 439.1h1.1v1.1h-1.1zM115.8 423.0h1.1v1.1h-1.1zM103.9 423.5h1.1v1.1h-1.1zM99.7 430.5h1.1v1.1h-1.1zM130.8 433.8h1.1v1.1h-1.1zM118.6 423.9h1.1v1.1h-1.1zM106.4 430.1h1.1v1.1h-1.1zM115.0 429.7h1.1v1.1h-1.1zM114.4 420.4h1.1v1.1h-1.1zM132.1 428.9h1.1v1.1h-1.1zM111.6 437.2h1.1v1.1h-1.1zM128.6 430.0h1.1v1.1h-1.1zM101.6 438.4h1.1v1.1h-1.1zM126.9 424.9h1.1v1.1h-1.1zM108.1 439.5h1.1v1.1h-1.1zM134.0 427.8h1.1v1.1h-1.1zM112.9 429.1h1.1v1.1h-1.1zM101.0 426.9h1.1v1.1h-1.1zM106.0 432.7h1.1v1.1h-1.1zM109.6 438.8h1.1v1.1h-1.1zM112.5 423.4h1.1v1.1h-1.1zM118.8 423.0h1.1v1.1h-1.1zM114.7 429.6h1.1v1.1h-1.1zM125.8 427.6h1.1v1.1h-1.1zM100.2 435.1h1.1v1.1h-1.1zM114.2 436.8h1.1v1.1h-1.1zM105.2 428.8h1.1v1.1h-1.1zM116.6 424.7h1.1v1.1h-1.1zM127.0 427.3h1.1v1.1h-1.1zM96.3 433.2h1.1v1.1h-1.1zM119.2 435.2h1.1v1.1h-1.1zM112.2 434.6h1.1v1.1h-1.1zM104.0 429.8h1.1v1.1h-1.1zM120.2 433.6h1.1v1.1h-1.1zM118.1 428.7h1.1v1.1h-1.1zM113.3 431.4h1.1v1.1h-1.1zM115.5 424.6h1.1v1.1h-1.1zM102.8 428.4h1.1v1.1h-1.1zM106.2 436.5h1.1v1.1h-1.1zM108.5 423.9h1.1v1.1h-1.1zM110.7 437.3h1.1v1.1h-1.1zM123.3 426.8h1.1v1.1h-1.1zM122.3 429.1h1.1v1.1h-1.1zM107.8 435.4h1.1v1.1h-1.1zM114.7 430.2h1.1v1.1h-1.1zM123.4 427.2h1.1v1.1h-1.1zM117.4 429.1h1.1v1.1h-1.1zM127.1 427.5h1.1v1.1h-1.1zM117.9 420.7h1.1v1.1h-1.1zM127.8 430.1h1.1v1.1h-1.1zM101.7 434.8h1.1v1.1h-1.1zM112.0 435.5h1.1v1.1h-1.1zM102.4 429.6h1.1v1.1h-1.1zM122.8 426.4h1.1v1.1h-1.1zM100.9 434.5h1.1v1.1h-1.1zM124.1 426.1h1.1v1.1h-1.1zM115.0 432.9h1.1v1.1h-1.1zM117.9 437.1h1.1v1.1h-1.1zM120.1 425.7h1.1v1.1h-1.1zM117.5 423.1h1.1v1.1h-1.1zM100.6 430.7h1.1v1.1h-1.1zM106.2 423.1h1.1v1.1h-1.1zM116.6 433.0h1.1v1.1h-1.1zM127.7 430.5h1.1v1.1h-1.1zM125.8 425.4h1.1v1.1h-1.1zM113.0 428.9h1.1v1.1h-1.1zM117.1 434.5h1.1v1.1h-1.1zM116.8 421.7h1.1v1.1h-1.1zM123.2 433.0h1.1v1.1h-1.1zM121.8 434.8h1.1v1.1h-1.1zM114.0 426.6h1.1v1.1h-1.1zM108.0 422.6h1.1v1.1h-1.1zM112.7 434.0h1.1v1.1h-1.1zM107.3 426.4h1.1v1.1h-1.1zM107.8 432.9h1.1v1.1h-1.1zM106.4 436.6h1.1v1.1h-1.1zM115.2 433.6h1.1v1.1h-1.1zM115.7 428.4h1.1v1.1h-1.1zM123.1 430.7h1.1v1.1h-1.1zM113.2 425.2h1.1v1.1h-1.1zM109.2 433.3h1.1v1.1h-1.1zM110.3 423.3h1.1v1.1h-1.1zM121.5 423.9h1.1v1.1h-1.1zM114.9 431.7h1.1v1.1h-1.1zM115.7 439.9h1.1v1.1h-1.1zM127.9 433.1h1.1v1.1h-1.1zM101.6 433.0h1.1v1.1h-1.1zM123.6 426.5h1.1v1.1h-1.1zM106.0 425.0h1.1v1.1h-1.1zM120.5 427.3h1.1v1.1h-1.1zM112.4 426.8h1.1v1.1h-1.1zM120.9 428.6h1.1v1.1h-1.1zM110.3 431.8h1.1v1.1h-1.1zM119.1 439.2h1.1v1.1h-1.1zM100.0 428.4h1.1v1.1h-1.1zM124.0 439.9h1.1v1.1h-1.1zM123.1 431.7h1.1v1.1h-1.1zM112.3 425.3h1.1v1.1h-1.1zM129.1 425.9h1.1v1.1h-1.1zM118.7 438.7h1.1v1.1h-1.1zM104.0 435.2h1.1v1.1h-1.1zM127.7 432.1h1.1v1.1h-1.1zM117.1 432.8h1.1v1.1h-1.1zM113.1 422.4h1.1v1.1h-1.1zM128.1 436.0h1.1v1.1h-1.1zM107.5 432.6h1.1v1.1h-1.1zM124.8 430.8h1.1v1.1h-1.1zM129.0 433.9h1.1v1.1h-1.1zM105.9 432.5h1.1v1.1h-1.1zM125.7 425.5h1.1v1.1h-1.1zM122.7 430.0h1.1v1.1h-1.1zM123.3 431.1h1.1v1.1h-1.1zM104.5 428.9h1.1v1.1h-1.1zM134.0 427.7h1.1v1.1h-1.1zM117.1 431.7h1.1v1.1h-1.1zM106.6 428.3h1.1v1.1h-1.1zM123.1 433.6h1.1v1.1h-1.1zM117.1 424.6h1.1v1.1h-1.1zM114.7 431.5h1.1v1.1h-1.1zM115.7 424.6h1.1v1.1h-1.1zM106.2 433.0h1.1v1.1h-1.1zM97.9 434.3h1.1v1.1h-1.1zM115.4 421.9h1.1v1.1h-1.1zM107.8 438.7h1.1v1.1h-1.1zM104.8 432.8h1.1v1.1h-1.1zM106.1 424.7h1.1v1.1h-1.1zM120.4 438.1h1.1v1.1h-1.1zM107.5 424.8h1.1v1.1h-1.1zM118.3 429.6h1.1v1.1h-1.1zM123.9 427.7h1.1v1.1h-1.1zM121.8 425.6h1.1v1.1h-1.1zM119.9 420.9h1.1v1.1h-1.1zM108.8 437.7h1.1v1.1h-1.1zM105.9 439.1h1.1v1.1h-1.1zM112.9 435.4h1.1v1.1h-1.1zM113.8 421.4h1.1v1.1h-1.1zM121.2 442.4h1.1v1.1h-1.1zM112.0 429.5h1.1v1.1h-1.1zM106.3 427.6h1.1v1.1h-1.1zM109.3 441.0h1.1v1.1h-1.1zM125.3 427.3h1.1v1.1h-1.1zM114.7 432.4h1.1v1.1h-1.1zM111.2 433.2h1.1v1.1h-1.1zM118.0 422.3h1.1v1.1h-1.1zM126.7 432.0h1.1v1.1h-1.1zM109.4 429.8h1.1v1.1h-1.1zM111.9 427.0h1.1v1.1h-1.1zM110.7 432.2h1.1v1.1h-1.1zM98.0 432.1h1.1v1.1h-1.1zM115.4 427.4h1.1v1.1h-1.1zM116.9 430.5h1.1v1.1h-1.1zM109.9 438.2h1.1v1.1h-1.1zM114.0 436.2h1.1v1.1h-1.1zM121.1 423.7h1.1v1.1h-1.1zM127.0 430.9h1.1v1.1h-1.1zM105.2 428.0h1.1v1.1h-1.1zM118.1 437.1h1.1v1.1h-1.1zM109.6 429.0h1.1v1.1h-1.1zM128.2 428.9h1.1v1.1h-1.1zM124.2 421.0h1.1v1.1h-1.1zM116.0 436.6h1.1v1.1h-1.1zM110.3 435.2h1.1v1.1h-1.1zM105.3 428.3h1.1v1.1h-1.1zM102.4 429.4h1.1v1.1h-1.1zM121.2 429.8h1.1v1.1h-1.1zM123.9 437.7h1.1v1.1h-1.1zM124.3 433.5h1.1v1.1h-1.1zM126.0 434.2h1.1v1.1h-1.1zM104.1 429.3h1.1v1.1h-1.1zM127.6 424.0h1.1v1.1h-1.1zM119.2 437.4h1.1v1.1h-1.1zM130.0 427.7h1.1v1.1h-1.1zM125.5 423.2h1.1v1.1h-1.1zM128.3 426.0h1.1v1.1h-1.1zM115.9 434.0h1.1v1.1h-1.1zM108.8 426.7h1.1v1.1h-1.1zM112.6 440.8h1.1v1.1h-1.1zM116.6 436.7h1.1v1.1h-1.1zM103.5 437.2h1.1v1.1h-1.1zM115.4 439.9h1.1v1.1h-1.1zM111.1 434.7h1.1v1.1h-1.1zM130.9 432.5h1.1v1.1h-1.1zM108.7 424.8h1.1v1.1h-1.1zM116.4 424.0h1.1v1.1h-1.1zM115.0 431.5h1.1v1.1h-1.1zM131.0 432.7h1.1v1.1h-1.1zM110.4 422.2h1.1v1.1h-1.1zM117.0 435.6h1.1v1.1h-1.1zM127.8 424.1h1.1v1.1h-1.1zM122.8 423.7h1.1v1.1h-1.1zM130.1 432.5h1.1v1.1h-1.1zM113.6 437.3h1.1v1.1h-1.1zM122.8 428.6h1.1v1.1h-1.1zM111.0 431.4h1.1v1.1h-1.1zM130.0 430.1h1.1v1.1h-1.1zM116.8 425.6h1.1v1.1h-1.1zM119.4 429.0h1.1v1.1h-1.1zM120.9 422.0h1.1v1.1h-1.1zM115.5 427.0h1.1v1.1h-1.1zM122.5 427.0h1.1v1.1h-1.1zM120.0 421.8h1.1v1.1h-1.1zM117.1 421.0h1.1v1.1h-1.1zM108.9 436.3h1.1v1.1h-1.1zM113.7 438.4h1.1v1.1h-1.1zM127.5 428.8h1.1v1.1h-1.1zM108.3 435.6h1.1v1.1h-1.1zM121.3 429.4h1.1v1.1h-1.1zM112.6 432.7h1.1v1.1h-1.1zM112.5 434.8h1.1v1.1h-1.1zM118.0 425.1h1.1v1.1h-1.1zM119.2 423.2h1.1v1.1h-1.1zM104.9 432.6h1.1v1.1h-1.1zM120.9 439.4h1.1v1.1h-1.1zM109.4 424.8h1.1v1.1h-1.1zM110.6 428.9h1.1v1.1h-1.1zM119.2 424.5h1.1v1.1h-1.1zM117.0 423.2h1.1v1.1h-1.1zM107.8 433.4h1.1v1.1h-1.1zM105.6 428.6h1.1v1.1h-1.1zM109.4 430.0h1.1v1.1h-1.1zM116.5 436.1h1.1v1.1h-1.1zM111.9 437.1h1.1v1.1h-1.1zM112.4 423.5h1.1v1.1h-1.1zM108.3 433.2h1.1v1.1h-1.1zM111.9 440.0h1.1v1.1h-1.1zM109.0 429.4h1.1v1.1h-1.1zM136.8 423.5h1.1v1.1h-1.1zM107.4 432.2h1.1v1.1h-1.1zM119.6 428.9h1.1v1.1h-1.1zM109.3 430.5h1.1v1.1h-1.1zM125.3 428.2h1.1v1.1h-1.1zM115.8 423.8h1.1v1.1h-1.1zM115.5 440.4h1.1v1.1h-1.1zM110.3 438.0h1.1v1.1h-1.1zM118.0 433.3h1.1v1.1h-1.1zM118.3 429.1h1.1v1.1h-1.1zM118.1 439.2h1.1v1.1h-1.1zM125.1 426.2h1.1v1.1h-1.1zM112.6 438.6h1.1v1.1h-1.1zM127.5 433.9h1.1v1.1h-1.1zM112.9 434.7h1.1v1.1h-1.1zM113.6 425.0h1.1v1.1h-1.1zM121.2 423.7h1.1v1.1h-1.1zM109.4 422.2h1.1v1.1h-1.1zM127.7 428.1h1.1v1.1h-1.1zM110.7 427.9h1.1v1.1h-1.1zM125.1 431.6h1.1v1.1h-1.1zM113.5 424.7h1.1v1.1h-1.1zM115.3 437.7h1.1v1.1h-1.1zM127.3 425.8h1.1v1.1h-1.1zM124.6 438.4h1.1v1.1h-1.1zM102.8 435.5h1.1v1.1h-1.1zM111.3 431.0h1.1v1.1h-1.1zM117.0 434.4h1.1v1.1h-1.1zM99.8 428.3h1.1v1.1h-1.1zM101.7 427.1h1.1v1.1h-1.1zM116.3 434.6h1.1v1.1h-1.1zM116.6 430.9h1.1v1.1h-1.1zM121.9 425.9h1.1v1.1h-1.1zM116.7 427.2h1.1v1.1h-1.1zM118.2 434.3h1.1v1.1h-1.1zM105.3 434.9h1.1v1.1h-1.1zM112.0 434.8h1.1v1.1h-1.1zM118.4 437.4h1.1v1.1h-1.1zM108.9 425.3h1.1v1.1h-1.1zM114.0 434.8h1.1v1.1h-1.1zM122.1 430.4h1.1v1.1h-1.1zM111.3 425.0h1.1v1.1h-1.1zM125.2 431.4h1.1v1.1h-1.1zM105.6 425.5h1.1v1.1h-1.1zM121.9 427.1h1.1v1.1h-1.1zM104.8 425.7h1.1v1.1h-1.1zM115.1 427.0h1.1v1.1h-1.1zM121.1 428.7h1.1v1.1h-1.1zM98.9 433.8h1.1v1.1h-1.1zM110.7 425.5h1.1v1.1h-1.1zM110.8 435.9h1.1v1.1h-1.1zM114.8 440.2h1.1v1.1h-1.1zM113.7 431.5h1.1v1.1h-1.1zM110.8 439.5h1.1v1.1h-1.1zM106.1 437.1h1.1v1.1h-1.1zM101.6 434.8h1.1v1.1h-1.1zM105.6 427.9h1.1v1.1h-1.1zM106.0 428.5h1.1v1.1h-1.1zM124.8 431.8h1.1v1.1h-1.1zM121.6 430.2h1.1v1.1h-1.1zM118.9 435.9h1.1v1.1h-1.1zM123.4 420.2h1.1v1.1h-1.1zM117.8 435.4h1.1v1.1h-1.1zM133.2 428.0h1.1v1.1h-1.1zM104.8 430.7h1.1v1.1h-1.1zM105.8 422.8h1.1v1.1h-1.1zM119.3 422.3h1.1v1.1h-1.1zM112.7 434.9h1.1v1.1h-1.1zM110.6 425.1h1.1v1.1h-1.1zM115.2 435.7h1.1v1.1h-1.1zM114.3 431.5h1.1v1.1h-1.1zM125.6 436.8h1.1v1.1h-1.1zM110.7 436.2h1.1v1.1h-1.1zM108.8 437.9h1.1v1.1h-1.1zM107.9 442.7h1.1v1.1h-1.1zM105.7 428.5h1.1v1.1h-1.1zM113.9 437.4h1.1v1.1h-1.1zM109.3 435.7h1.1v1.1h-1.1zM127.3 431.3h1.1v1.1h-1.1zM112.6 436.5h1.1v1.1h-1.1zM118.4 432.2h1.1v1.1h-1.1zM118.1 425.5h1.1v1.1h-1.1zM127.8 428.1h1.1v1.1h-1.1zM106.0 429.4h1.1v1.1h-1.1zM111.0 431.7h1.1v1.1h-1.1zM106.9 430.2h1.1v1.1h-1.1zM120.6 426.6h1.1v1.1h-1.1zM102.3 430.8h1.1v1.1h-1.1zM100.0 430.1h1.1v1.1h-1.1zM120.3 426.0h1.1v1.1h-1.1zM119.8 437.3h1.1v1.1h-1.1zM104.9 428.5h1.1v1.1h-1.1zM108.4 434.0h1.1v1.1h-1.1zM103.8 434.0h1.1v1.1h-1.1zM123.2 425.4h1.1v1.1h-1.1zM130.5 424.3h1.1v1.1h-1.1zM117.8 427.9h1.1v1.1h-1.1zM125.6 434.6h1.1v1.1h-1.1zM107.7 430.2h1.1v1.1h-1.1zM109.5 427.4h1.1v1.1h-1.1zM126.8 431.5h1.1v1.1h-1.1zM114.9 424.1h1.1v1.1h-1.1zM111.9 431.6h1.1v1.1h-1.1zM120.8 422.3h1.1v1.1h-1.1zM116.2 426.3h1.1v1.1h-1.1zM104.1 428.3h1.1v1.1h-1.1zM112.5 430.1h1.1v1.1h-1.1zM122.0 432.0h1.1v1.1h-1.1zM115.8 427.2h1.1v1.1h-1.1zM124.9 436.7h1.1v1.1h-1.1zM121.7 435.8h1.1v1.1h-1.1zM127.1 436.9h1.1v1.1h-1.1zM108.1 426.1h1.1v1.1h-1.1zM106.2 430.7h1.1v1.1h-1.1zM106.7 423.0h1.1v1.1h-1.1zM113.0 426.2h1.1v1.1h-1.1zM123.9 426.6h1.1v1.1h-1.1zM116.5 430.0h1.1v1.1h-1.1zM101.5 435.1h1.1v1.1h-1.1zM101.7 436.4h1.1v1.1h-1.1zM123.0 437.9h1.1v1.1h-1.1zM119.8 428.6h1.1v1.1h-1.1zM109.4 436.4h1.1v1.1h-1.1zM103.8 431.5h1.1v1.1h-1.1zM122.8 432.8h1.1v1.1h-1.1zM114.0 434.5h1.1v1.1h-1.1zM119.1 423.5h1.1v1.1h-1.1zM97.3 439.3h1.1v1.1h-1.1zM130.8 433.7h1.1v1.1h-1.1zM120.4 435.3h1.1v1.1h-1.1zM129.1 432.7h1.1v1.1h-1.1zM113.8 424.8h1.1v1.1h-1.1zM122.1 426.8h1.1v1.1h-1.1zM130.3 424.8h1.1v1.1h-1.1zM124.6 432.6h1.1v1.1h-1.1zM112.5 427.7h1.1v1.1h-1.1zM116.8 431.9h1.1v1.1h-1.1zM112.7 423.7h1.1v1.1h-1.1zM123.8 423.3h1.1v1.1h-1.1zM104.8 435.6h1.1v1.1h-1.1zM124.7 430.9h1.1v1.1h-1.1zM111.6 440.5h1.1v1.1h-1.1zM127.3 433.3h1.1v1.1h-1.1zM119.0 435.5h1.1v1.1h-1.1zM119.2 425.6h1.1v1.1h-1.1zM128.9 422.4h1.1v1.1h-1.1zM123.0 424.1h1.1v1.1h-1.1zM125.5 420.2h1.1v1.1h-1.1zM108.6 428.4h1.1v1.1h-1.1zM102.4 428.5h1.1v1.1h-1.1zM105.6 424.8h1.1v1.1h-1.1zM106.1 438.1h1.1v1.1h-1.1zM106.3 432.3h1.1v1.1h-1.1zM110.9 424.8h1.1v1.1h-1.1zM101.2 432.6h1.1v1.1h-1.1zM123.0 433.4h1.1v1.1h-1.1zM107.5 428.9h1.1v1.1h-1.1zM116.0 432.5h1.1v1.1h-1.1zM113.9 433.3h1.1v1.1h-1.1zM100.9 440.7h1.1v1.1h-1.1zM125.6 422.9h1.1v1.1h-1.1zM123.5 428.9h1.1v1.1h-1.1zM117.3 433.2h1.1v1.1h-1.1zM128.8 428.2h1.1v1.1h-1.1zM125.7 430.2h1.1v1.1h-1.1zM125.3 433.8h1.1v1.1h-1.1zM124.3 430.9h1.1v1.1h-1.1zM106.3 429.7h1.1v1.1h-1.1zM126.3 428.6h1.1v1.1h-1.1zM119.6 434.3h1.1v1.1h-1.1zM128.5 432.0h1.1v1.1h-1.1zM124.3 426.2h1.1v1.1h-1.1zM124.6 432.5h1.1v1.1h-1.1zM123.8 433.9h1.1v1.1h-1.1zM123.7 435.6h1.1v1.1h-1.1zM117.7 431.9h1.1v1.1h-1.1zM118.5 437.1h1.1v1.1h-1.1zM129.6 429.2h1.1v1.1h-1.1zM124.2 430.3h1.1v1.1h-1.1zM106.2 426.6h1.1v1.1h-1.1zM112.1 437.6h1.1v1.1h-1.1zM124.6 422.4h1.1v1.1h-1.1zM123.6 430.3h1.1v1.1h-1.1zM106.2 430.7h1.1v1.1h-1.1zM107.7 430.1h1.1v1.1h-1.1zM103.0 428.9h1.1v1.1h-1.1zM110.9 434.2h1.1v1.1h-1.1zM113.4 426.7h1.1v1.1h-1.1zM109.8 424.6h1.1v1.1h-1.1zM117.7 424.2h1.1v1.1h-1.1zM127.1 432.3h1.1v1.1h-1.1zM122.2 423.1h1.1v1.1h-1.1zM110.9 431.8h1.1v1.1h-1.1zM107.6 430.9h1.1v1.1h-1.1zM116.6 425.7h1.1v1.1h-1.1zM128.0 428.9h1.1v1.1h-1.1zM116.1 432.4h1.1v1.1h-1.1zM105.3 438.0h1.1v1.1h-1.1zM102.2 437.9h1.1v1.1h-1.1zM115.6 426.7h1.1v1.1h-1.1zM115.0 433.1h1.1v1.1h-1.1zM113.5 439.6h1.1v1.1h-1.1zM115.5 432.8h1.1v1.1h-1.1zM108.2 427.1h1.1v1.1h-1.1zM100.3 430.6h1.1v1.1h-1.1zM110.4 439.2h1.1v1.1h-1.1zM125.7 424.0h1.1v1.1h-1.1zM108.4 427.6h1.1v1.1h-1.1zM102.3 425.0h1.1v1.1h-1.1zM130.8 427.6h1.1v1.1h-1.1zM110.2 425.8h1.1v1.1h-1.1zM103.4 432.2h1.1v1.1h-1.1zM103.2 432.6h1.1v1.1h-1.1zM104.3 424.5h1.1v1.1h-1.1zM109.8 436.8h1.1v1.1h-1.1zM122.3 429.0h1.1v1.1h-1.1zM106.3 433.9h1.1v1.1h-1.1zM99.8 429.0h1.1v1.1h-1.1zM103.1 433.6h1.1v1.1h-1.1zM108.9 432.3h1.1v1.1h-1.1zM111.9 425.9h1.1v1.1h-1.1zM101.7 423.6h1.1v1.1h-1.1zM119.0 422.4h1.1v1.1h-1.1zM116.8 435.5h1.1v1.1h-1.1zM108.3 430.0h1.1v1.1h-1.1zM117.3 426.0h1.1v1.1h-1.1zM112.0 435.2h1.1v1.1h-1.1zM111.8 436.5h1.1v1.1h-1.1zM117.1 422.6h1.1v1.1h-1.1zM121.2 429.8h1.1v1.1h-1.1zM126.9 422.6h1.1v1.1h-1.1zM107.7 429.2h1.1v1.1h-1.1zM109.2 432.7h1.1v1.1h-1.1zM134.3 431.5h1.1v1.1h-1.1zM118.6 430.7h1.1v1.1h-1.1zM114.7 427.2h1.1v1.1h-1.1zM120.1 436.6h1.1v1.1h-1.1zM100.7 431.4h1.1v1.1h-1.1zM124.6 428.0h1.1v1.1h-1.1zM111.1 435.5h1.1v1.1h-1.1zM120.3 438.7h1.1v1.1h-1.1zM104.0 432.5h1.1v1.1h-1.1zM125.2 429.6h1.1v1.1h-1.1zM126.6 428.1h1.1v1.1h-1.1zM110.0 432.2h1.1v1.1h-1.1zM103.8 434.3h1.1v1.1h-1.1zM127.9 433.6h1.1v1.1h-1.1zM129.8 422.7h1.1v1.1h-1.1zM124.5 424.5h1.1v1.1h-1.1zM122.7 430.0h1.1v1.1h-1.1zM103.3 436.0h1.1v1.1h-1.1zM120.0 429.3h1.1v1.1h-1.1zM108.6 427.6h1.1v1.1h-1.1zM116.6 430.1h1.1v1.1h-1.1zM112.3 437.0h1.1v1.1h-1.1zM104.3 434.7h1.1v1.1h-1.1zM101.1 430.5h1.1v1.1h-1.1zM103.5 430.6h1.1v1.1h-1.1zM107.2 428.7h1.1v1.1h-1.1zM104.8 427.2h1.1v1.1h-1.1zM106.5 433.9h1.1v1.1h-1.1zM124.6 425.8h1.1v1.1h-1.1zM106.3 436.5h1.1v1.1h-1.1zM125.0 422.3h1.1v1.1h-1.1zM121.5 431.9h1.1v1.1h-1.1zM114.9 438.9h1.1v1.1h-1.1zM122.2 435.8h1.1v1.1h-1.1zM107.9 430.2h1.1v1.1h-1.1zM128.0 429.2h1.1v1.1h-1.1zM120.7 419.6h1.1v1.1h-1.1zM124.1 430.4h1.1v1.1h-1.1zM111.6 425.5h1.1v1.1h-1.1zM118.0 422.3h1.1v1.1h-1.1zM117.3 423.5h1.1v1.1h-1.1zM110.3 438.9h1.1v1.1h-1.1zM105.8 431.6h1.1v1.1h-1.1zM129.4 435.2h1.1v1.1h-1.1zM110.6 423.6h1.1v1.1h-1.1zM114.6 430.4h1.1v1.1h-1.1zM117.3 429.5h1.1v1.1h-1.1zM125.9 431.5h1.1v1.1h-1.1zM119.1 433.2h1.1v1.1h-1.1zM126.3 423.4h1.1v1.1h-1.1zM107.0 423.8h1.1v1.1h-1.1zM118.0 423.9h1.1v1.1h-1.1zM110.8 428.5h1.1v1.1h-1.1zM105.5 434.1h1.1v1.1h-1.1zM117.6 437.3h1.1v1.1h-1.1zM106.0 432.6h1.1v1.1h-1.1zM118.7 430.3h1.1v1.1h-1.1zM121.4 422.0h1.1v1.1h-1.1zM121.5 432.3h1.1v1.1h-1.1z" fill="#4a88c8" opacity="1.0"/>
<path d="M132.0 396.8h1.1v1.1h-1.1zM128.2 397.9h1.1v1.1h-1.1zM127.6 409.3h1.1v1.1h-1.1zM134.9 399.0h1.1v1.1h-1.1zM132.6 407.8h1.1v1.1h-1.1zM131.7 406.0h1.1v1.1h-1.1zM129.3 404.1h1.1v1.1h-1.1zM124.6 412.1h1.1v1.1h-1.1zM124.6 406.1h1.1v1.1h-1.1zM129.4 408.1h1.1v1.1h-1.1zM124.5 410.9h1.1v1.1h-1.1zM130.8 394.7h1.1v1.1h-1.1zM136.4 401.3h1.1v1.1h-1.1zM123.0 408.1h1.1v1.1h-1.1zM127.9 406.2h1.1v1.1h-1.1zM127.1 398.9h1.1v1.1h-1.1zM128.3 411.1h1.1v1.1h-1.1zM124.8 409.0h1.1v1.1h-1.1zM122.8 416.7h1.1v1.1h-1.1zM134.2 397.4h1.1v1.1h-1.1zM121.3 411.0h1.1v1.1h-1.1zM128.4 396.4h1.1v1.1h-1.1zM133.3 399.7h1.1v1.1h-1.1zM127.9 397.8h1.1v1.1h-1.1zM131.4 392.2h1.1v1.1h-1.1zM135.7 394.1h1.1v1.1h-1.1zM127.6 413.7h1.1v1.1h-1.1zM130.7 404.9h1.1v1.1h-1.1zM129.6 402.4h1.1v1.1h-1.1zM129.6 400.3h1.1v1.1h-1.1zM128.6 410.0h1.1v1.1h-1.1zM131.0 400.6h1.1v1.1h-1.1zM133.3 398.7h1.1v1.1h-1.1zM122.1 408.9h1.1v1.1h-1.1zM126.7 413.0h1.1v1.1h-1.1zM133.0 401.2h1.1v1.1h-1.1zM130.2 411.9h1.1v1.1h-1.1zM130.4 402.3h1.1v1.1h-1.1zM131.8 403.1h1.1v1.1h-1.1zM130.3 404.9h1.1v1.1h-1.1zM131.4 408.0h1.1v1.1h-1.1zM129.4 403.4h1.1v1.1h-1.1zM123.8 411.6h1.1v1.1h-1.1zM129.7 402.8h1.1v1.1h-1.1zM127.8 408.8h1.1v1.1h-1.1zM124.6 412.1h1.1v1.1h-1.1zM130.3 407.8h1.1v1.1h-1.1zM122.2 414.3h1.1v1.1h-1.1zM126.2 403.3h1.1v1.1h-1.1zM126.8 414.4h1.1v1.1h-1.1zM124.7 412.6h1.1v1.1h-1.1zM129.9 395.5h1.1v1.1h-1.1zM132.0 399.1h1.1v1.1h-1.1zM122.8 415.2h1.1v1.1h-1.1zM134.5 398.6h1.1v1.1h-1.1zM124.1 418.9h1.1v1.1h-1.1zM129.2 407.7h1.1v1.1h-1.1zM132.2 403.4h1.1v1.1h-1.1zM120.9 414.6h1.1v1.1h-1.1zM127.2 406.4h1.1v1.1h-1.1zM130.6 394.4h1.1v1.1h-1.1zM132.5 395.8h1.1v1.1h-1.1zM128.8 401.0h1.1v1.1h-1.1zM125.9 407.6h1.1v1.1h-1.1zM136.5 400.9h1.1v1.1h-1.1zM133.0 396.7h1.1v1.1h-1.1zM125.5 412.4h1.1v1.1h-1.1zM126.4 413.9h1.1v1.1h-1.1zM138.0 389.3h1.1v1.1h-1.1zM127.9 415.7h1.1v1.1h-1.1zM122.2 415.2h1.1v1.1h-1.1zM129.9 394.8h1.1v1.1h-1.1zM132.4 392.3h1.1v1.1h-1.1zM124.1 409.2h1.1v1.1h-1.1zM127.4 406.4h1.1v1.1h-1.1zM131.5 406.1h1.1v1.1h-1.1zM131.4 395.5h1.1v1.1h-1.1zM131.4 395.6h1.1v1.1h-1.1zM122.9 412.5h1.1v1.1h-1.1zM129.9 408.6h1.1v1.1h-1.1zM123.3 412.8h1.1v1.1h-1.1zM129.6 411.3h1.1v1.1h-1.1zM126.4 415.0h1.1v1.1h-1.1zM130.8 394.0h1.1v1.1h-1.1zM122.7 420.0h1.1v1.1h-1.1zM130.1 411.3h1.1v1.1h-1.1zM120.5 422.0h1.1v1.1h-1.1zM125.0 417.3h1.1v1.1h-1.1zM132.9 395.1h1.1v1.1h-1.1zM126.1 414.8h1.1v1.1h-1.1zM122.8 414.3h1.1v1.1h-1.1zM131.2 409.8h1.1v1.1h-1.1zM128.3 414.7h1.1v1.1h-1.1zM129.0 409.2h1.1v1.1h-1.1zM137.4 395.9h1.1v1.1h-1.1zM127.6 401.8h1.1v1.1h-1.1zM134.1 398.9h1.1v1.1h-1.1zM127.1 408.0h1.1v1.1h-1.1zM128.1 408.3h1.1v1.1h-1.1zM132.7 396.1h1.1v1.1h-1.1zM126.6 402.2h1.1v1.1h-1.1zM133.1 392.6h1.1v1.1h-1.1zM125.7 406.2h1.1v1.1h-1.1zM128.4 400.3h1.1v1.1h-1.1zM126.4 409.5h1.1v1.1h-1.1zM129.4 407.9h1.1v1.1h-1.1zM127.1 404.0h1.1v1.1h-1.1zM128.0 398.7h1.1v1.1h-1.1zM129.8 407.4h1.1v1.1h-1.1zM129.8 396.0h1.1v1.1h-1.1zM124.5 413.0h1.1v1.1h-1.1zM127.7 404.6h1.1v1.1h-1.1zM125.6 408.2h1.1v1.1h-1.1zM122.0 415.1h1.1v1.1h-1.1zM137.4 395.2h1.1v1.1h-1.1zM132.7 397.4h1.1v1.1h-1.1zM127.1 402.9h1.1v1.1h-1.1zM123.8 416.6h1.1v1.1h-1.1zM135.6 396.2h1.1v1.1h-1.1zM130.1 409.4h1.1v1.1h-1.1zM127.5 405.8h1.1v1.1h-1.1zM121.9 413.6h1.1v1.1h-1.1zM127.4 408.5h1.1v1.1h-1.1zM125.2 409.3h1.1v1.1h-1.1zM130.1 398.0h1.1v1.1h-1.1zM135.1 401.6h1.1v1.1h-1.1zM131.2 401.6h1.1v1.1h-1.1zM128.0 415.3h1.1v1.1h-1.1zM126.7 413.8h1.1v1.1h-1.1zM124.7 403.0h1.1v1.1h-1.1zM134.4 401.6h1.1v1.1h-1.1zM130.0 412.2h1.1v1.1h-1.1zM125.4 405.5h1.1v1.1h-1.1zM123.1 411.7h1.1v1.1h-1.1zM125.8 412.8h1.1v1.1h-1.1zM131.9 400.6h1.1v1.1h-1.1zM128.8 408.0h1.1v1.1h-1.1zM127.6 404.7h1.1v1.1h-1.1zM126.4 415.8h1.1v1.1h-1.1zM130.6 406.8h1.1v1.1h-1.1zM120.0 415.3h1.1v1.1h-1.1zM127.7 398.3h1.1v1.1h-1.1zM125.4 409.0h1.1v1.1h-1.1zM128.0 407.2h1.1v1.1h-1.1zM124.7 409.6h1.1v1.1h-1.1zM129.8 399.8h1.1v1.1h-1.1zM131.4 399.8h1.1v1.1h-1.1zM123.0 411.0h1.1v1.1h-1.1zM133.6 397.3h1.1v1.1h-1.1zM128.8 406.9h1.1v1.1h-1.1zM125.2 409.6h1.1v1.1h-1.1zM131.3 405.7h1.1v1.1h-1.1zM131.9 407.4h1.1v1.1h-1.1zM133.3 394.9h1.1v1.1h-1.1zM126.7 413.1h1.1v1.1h-1.1zM133.7 395.2h1.1v1.1h-1.1zM128.9 405.1h1.1v1.1h-1.1zM124.9 404.2h1.1v1.1h-1.1zM131.2 398.3h1.1v1.1h-1.1zM127.3 414.6h1.1v1.1h-1.1zM123.7 411.7h1.1v1.1h-1.1zM128.1 403.8h1.1v1.1h-1.1zM126.7 409.2h1.1v1.1h-1.1zM133.0 396.0h1.1v1.1h-1.1zM133.7 394.6h1.1v1.1h-1.1zM130.0 404.1h1.1v1.1h-1.1zM133.5 397.3h1.1v1.1h-1.1zM128.1 414.6h1.1v1.1h-1.1zM132.8 392.3h1.1v1.1h-1.1zM134.0 400.0h1.1v1.1h-1.1zM123.7 403.8h1.1v1.1h-1.1zM128.6 413.3h1.1v1.1h-1.1zM129.3 405.9h1.1v1.1h-1.1zM125.0 419.6h1.1v1.1h-1.1zM130.0 401.0h1.1v1.1h-1.1zM128.8 399.6h1.1v1.1h-1.1zM128.6 406.6h1.1v1.1h-1.1zM126.8 415.2h1.1v1.1h-1.1zM125.6 416.1h1.1v1.1h-1.1zM136.2 393.1h1.1v1.1h-1.1zM126.4 401.7h1.1v1.1h-1.1zM130.5 397.6h1.1v1.1h-1.1zM127.9 405.5h1.1v1.1h-1.1zM131.5 408.8h1.1v1.1h-1.1zM128.3 412.2h1.1v1.1h-1.1zM126.6 408.5h1.1v1.1h-1.1zM122.8 417.0h1.1v1.1h-1.1zM129.1 411.7h1.1v1.1h-1.1zM127.9 407.8h1.1v1.1h-1.1zM129.1 395.9h1.1v1.1h-1.1zM127.0 417.3h1.1v1.1h-1.1zM125.1 415.5h1.1v1.1h-1.1zM127.7 398.8h1.1v1.1h-1.1zM131.9 403.0h1.1v1.1h-1.1zM126.9 400.7h1.1v1.1h-1.1zM133.1 398.8h1.1v1.1h-1.1zM134.9 394.5h1.1v1.1h-1.1zM123.7 418.1h1.1v1.1h-1.1zM127.8 410.2h1.1v1.1h-1.1zM123.1 414.1h1.1v1.1h-1.1zM122.1 416.1h1.1v1.1h-1.1zM132.0 395.2h1.1v1.1h-1.1zM126.0 407.5h1.1v1.1h-1.1zM127.5 411.2h1.1v1.1h-1.1zM124.2 408.3h1.1v1.1h-1.1zM135.9 394.1h1.1v1.1h-1.1zM122.3 411.4h1.1v1.1h-1.1zM129.5 401.1h1.1v1.1h-1.1zM134.0 395.1h1.1v1.1h-1.1zM126.2 401.1h1.1v1.1h-1.1zM133.3 402.2h1.1v1.1h-1.1zM132.0 404.3h1.1v1.1h-1.1zM133.2 397.7h1.1v1.1h-1.1zM131.4 398.1h1.1v1.1h-1.1zM133.5 400.0h1.1v1.1h-1.1zM131.2 390.3h1.1v1.1h-1.1zM136.7 387.4h1.1v1.1h-1.1zM131.0 409.1h1.1v1.1h-1.1zM126.9 409.6h1.1v1.1h-1.1zM133.5 404.6h1.1v1.1h-1.1zM127.5 415.0h1.1v1.1h-1.1zM131.1 401.5h1.1v1.1h-1.1zM128.8 411.2h1.1v1.1h-1.1zM125.5 404.4h1.1v1.1h-1.1zM123.4 413.2h1.1v1.1h-1.1zM127.6 406.2h1.1v1.1h-1.1zM125.3 412.6h1.1v1.1h-1.1zM129.0 405.4h1.1v1.1h-1.1zM128.7 410.9h1.1v1.1h-1.1zM126.8 403.6h1.1v1.1h-1.1zM122.0 411.7h1.1v1.1h-1.1zM121.7 409.8h1.1v1.1h-1.1zM124.1 410.8h1.1v1.1h-1.1zM134.1 403.7h1.1v1.1h-1.1zM133.0 399.5h1.1v1.1h-1.1zM133.5 390.0h1.1v1.1h-1.1zM124.3 411.1h1.1v1.1h-1.1zM122.7 411.6h1.1v1.1h-1.1zM122.3 409.8h1.1v1.1h-1.1zM124.3 408.0h1.1v1.1h-1.1zM136.6 393.6h1.1v1.1h-1.1zM135.9 393.0h1.1v1.1h-1.1zM134.1 392.9h1.1v1.1h-1.1zM129.6 409.9h1.1v1.1h-1.1zM129.5 400.6h1.1v1.1h-1.1zM135.6 395.5h1.1v1.1h-1.1zM132.2 404.1h1.1v1.1h-1.1zM129.8 398.7h1.1v1.1h-1.1zM135.9 403.9h1.1v1.1h-1.1zM130.9 401.9h1.1v1.1h-1.1zM127.3 402.7h1.1v1.1h-1.1zM134.1 393.9h1.1v1.1h-1.1zM132.8 399.2h1.1v1.1h-1.1zM131.2 407.9h1.1v1.1h-1.1zM127.9 407.1h1.1v1.1h-1.1zM131.9 400.3h1.1v1.1h-1.1zM131.5 406.4h1.1v1.1h-1.1zM130.9 407.2h1.1v1.1h-1.1zM129.3 403.1h1.1v1.1h-1.1zM123.8 414.8h1.1v1.1h-1.1zM120.5 409.0h1.1v1.1h-1.1zM123.3 411.6h1.1v1.1h-1.1zM121.5 412.7h1.1v1.1h-1.1zM135.0 393.6h1.1v1.1h-1.1zM132.5 402.1h1.1v1.1h-1.1zM129.8 408.0h1.1v1.1h-1.1zM133.5 392.8h1.1v1.1h-1.1zM129.5 405.6h1.1v1.1h-1.1zM126.9 409.0h1.1v1.1h-1.1zM129.9 410.8h1.1v1.1h-1.1zM136.0 391.8h1.1v1.1h-1.1zM129.1 410.3h1.1v1.1h-1.1zM128.4 399.2h1.1v1.1h-1.1zM126.9 405.5h1.1v1.1h-1.1zM131.6 398.5h1.1v1.1h-1.1zM133.3 404.4h1.1v1.1h-1.1zM122.1 418.1h1.1v1.1h-1.1zM121.8 420.3h1.1v1.1h-1.1zM132.1 399.2h1.1v1.1h-1.1zM128.6 408.4h1.1v1.1h-1.1zM127.9 399.3h1.1v1.1h-1.1zM128.1 406.1h1.1v1.1h-1.1zM128.0 396.7h1.1v1.1h-1.1zM134.7 396.4h1.1v1.1h-1.1zM134.3 392.2h1.1v1.1h-1.1zM128.0 398.0h1.1v1.1h-1.1zM122.8 413.6h1.1v1.1h-1.1zM125.2 415.9h1.1v1.1h-1.1zM131.9 397.5h1.1v1.1h-1.1zM122.8 416.8h1.1v1.1h-1.1zM131.8 409.3h1.1v1.1h-1.1zM132.1 400.6h1.1v1.1h-1.1zM129.0 399.4h1.1v1.1h-1.1zM132.2 401.3h1.1v1.1h-1.1zM132.5 405.5h1.1v1.1h-1.1zM129.7 404.5h1.1v1.1h-1.1zM130.1 402.4h1.1v1.1h-1.1zM129.1 410.9h1.1v1.1h-1.1zM136.6 398.9h1.1v1.1h-1.1zM126.3 415.6h1.1v1.1h-1.1zM131.9 408.7h1.1v1.1h-1.1zM128.0 398.3h1.1v1.1h-1.1zM123.1 411.8h1.1v1.1h-1.1zM127.8 413.4h1.1v1.1h-1.1zM124.0 414.0h1.1v1.1h-1.1zM127.5 405.3h1.1v1.1h-1.1zM129.0 412.0h1.1v1.1h-1.1zM126.2 413.5h1.1v1.1h-1.1zM123.6 414.4h1.1v1.1h-1.1zM122.6 415.0h1.1v1.1h-1.1zM131.1 399.1h1.1v1.1h-1.1zM129.8 406.1h1.1v1.1h-1.1zM125.6 414.0h1.1v1.1h-1.1zM131.9 394.0h1.1v1.1h-1.1zM125.8 414.8h1.1v1.1h-1.1zM126.2 406.3h1.1v1.1h-1.1zM133.4 397.3h1.1v1.1h-1.1zM128.9 406.0h1.1v1.1h-1.1zM123.2 415.2h1.1v1.1h-1.1zM123.5 408.2h1.1v1.1h-1.1zM133.8 391.2h1.1v1.1h-1.1zM135.7 397.9h1.1v1.1h-1.1zM127.5 411.6h1.1v1.1h-1.1zM129.6 398.9h1.1v1.1h-1.1zM125.5 406.3h1.1v1.1h-1.1zM136.1 398.2h1.1v1.1h-1.1zM130.1 393.7h1.1v1.1h-1.1zM132.7 401.7h1.1v1.1h-1.1zM129.3 396.8h1.1v1.1h-1.1zM130.4 402.3h1.1v1.1h-1.1zM124.7 407.6h1.1v1.1h-1.1zM127.9 402.0h1.1v1.1h-1.1zM130.0 408.7h1.1v1.1h-1.1zM134.9 402.5h1.1v1.1h-1.1zM133.6 394.7h1.1v1.1h-1.1zM135.2 393.8h1.1v1.1h-1.1zM123.3 418.9h1.1v1.1h-1.1zM132.7 396.2h1.1v1.1h-1.1zM133.2 406.9h1.1v1.1h-1.1zM130.9 407.3h1.1v1.1h-1.1zM129.7 406.2h1.1v1.1h-1.1zM134.1 407.8h1.1v1.1h-1.1zM122.6 409.5h1.1v1.1h-1.1zM127.7 403.4h1.1v1.1h-1.1zM131.0 394.7h1.1v1.1h-1.1zM127.4 413.8h1.1v1.1h-1.1zM125.1 405.7h1.1v1.1h-1.1zM126.3 411.3h1.1v1.1h-1.1zM131.4 401.1h1.1v1.1h-1.1zM123.3 417.5h1.1v1.1h-1.1zM132.6 405.2h1.1v1.1h-1.1zM124.6 411.1h1.1v1.1h-1.1zM127.6 406.4h1.1v1.1h-1.1zM125.1 416.5h1.1v1.1h-1.1zM124.7 416.3h1.1v1.1h-1.1zM123.9 408.5h1.1v1.1h-1.1zM129.7 401.2h1.1v1.1h-1.1zM129.0 406.1h1.1v1.1h-1.1zM134.1 401.0h1.1v1.1h-1.1zM125.3 409.6h1.1v1.1h-1.1zM124.3 407.0h1.1v1.1h-1.1zM126.8 415.0h1.1v1.1h-1.1zM128.4 403.1h1.1v1.1h-1.1zM125.4 419.1h1.1v1.1h-1.1zM131.1 397.8h1.1v1.1h-1.1zM131.5 396.4h1.1v1.1h-1.1zM130.8 400.3h1.1v1.1h-1.1zM131.2 396.8h1.1v1.1h-1.1zM132.2 396.8h1.1v1.1h-1.1zM126.4 401.1h1.1v1.1h-1.1zM130.4 400.2h1.1v1.1h-1.1zM131.4 396.8h1.1v1.1h-1.1zM125.5 404.0h1.1v1.1h-1.1zM134.8 400.7h1.1v1.1h-1.1zM127.8 398.3h1.1v1.1h-1.1zM132.1 394.8h1.1v1.1h-1.1zM134.4 393.1h1.1v1.1h-1.1zM129.8 405.6h1.1v1.1h-1.1zM132.7 392.4h1.1v1.1h-1.1zM126.6 411.0h1.1v1.1h-1.1zM129.6 405.8h1.1v1.1h-1.1zM124.3 415.3h1.1v1.1h-1.1zM130.1 399.5h1.1v1.1h-1.1zM130.4 400.5h1.1v1.1h-1.1zM124.8 414.9h1.1v1.1h-1.1zM132.6 405.0h1.1v1.1h-1.1zM126.5 405.4h1.1v1.1h-1.1zM134.1 405.6h1.1v1.1h-1.1zM126.2 414.2h1.1v1.1h-1.1zM129.9 411.6h1.1v1.1h-1.1zM124.2 404.0h1.1v1.1h-1.1zM126.4 411.2h1.1v1.1h-1.1zM136.1 392.7h1.1v1.1h-1.1zM131.0 406.5h1.1v1.1h-1.1zM122.8 409.5h1.1v1.1h-1.1zM123.3 414.5h1.1v1.1h-1.1zM132.4 395.8h1.1v1.1h-1.1zM129.0 404.4h1.1v1.1h-1.1zM133.0 403.6h1.1v1.1h-1.1zM135.7 398.5h1.1v1.1h-1.1zM134.5 390.1h1.1v1.1h-1.1zM128.9 396.7h1.1v1.1h-1.1zM129.8 404.0h1.1v1.1h-1.1zM133.1 399.1h1.1v1.1h-1.1zM125.1 413.5h1.1v1.1h-1.1zM135.4 398.6h1.1v1.1h-1.1zM133.8 394.6h1.1v1.1h-1.1zM128.5 402.7h1.1v1.1h-1.1zM127.0 407.7h1.1v1.1h-1.1zM135.2 400.2h1.1v1.1h-1.1zM124.1 407.2h1.1v1.1h-1.1zM130.1 397.4h1.1v1.1h-1.1zM122.3 412.6h1.1v1.1h-1.1zM128.6 408.5h1.1v1.1h-1.1zM130.0 405.4h1.1v1.1h-1.1zM125.3 411.3h1.1v1.1h-1.1zM137.5 396.9h1.1v1.1h-1.1zM126.2 407.4h1.1v1.1h-1.1zM127.2 400.4h1.1v1.1h-1.1zM124.8 411.2h1.1v1.1h-1.1z" fill="#4a40c0" opacity="1.0"/>
<text transform="translate(89.2,422) rotate(-90)" font-size="8.8" fill="#444" text-anchor="middle" textLength="15.8" lengthAdjust="spacingAndGlyphs">PC3</text>
<text transform="translate(112.5,459.5) rotate(22)" font-size="8.8" fill="#444" text-anchor="middle" textLength="15.5" lengthAdjust="spacingAndGlyphs">PC1</text>
<text transform="translate(160.5,459) rotate(-36)" font-size="8.8" fill="#444" text-anchor="middle" textLength="15.5" lengthAdjust="spacingAndGlyphs">PC2</text>
<line x1="170.2" y1="308" x2="194" y2="308" stroke="#3a3a3a" stroke-width="1.0" />
<path d="M196.5 308 l-3.2 -1.7 v3.4 z" fill="#3a3a3a"/>
<line x1="170.2" y1="425.3" x2="194.3" y2="425.3" stroke="#3a3a3a" stroke-width="1.0" />
<path d="M196.8 425.3 l-3.2 -1.7 v3.4 z" fill="#3a3a3a"/>
<rect x="198.8" y="261.2" width="103.5" height="88.6" fill="#f9f1f1" stroke="#8c8c8c" stroke-width="1.4" />
<text x="257.3" y="270.3" font-size="8.2" fill="#8a8a8a" text-anchor="start" stroke="#8a8a8a" stroke-width="0.2" textLength="34.7" lengthAdjust="spacingAndGlyphs" >PCA space</text>
<text x="208.3" y="275.5" font-size="8.6" fill="#111" stroke="#111" stroke-width="0.25" textLength="13" lengthAdjust="spacingAndGlyphs">PC1</text>
<rect x="214.7" y="289.2" width="5.9" height="5.7" fill="#b8282e" stroke="#ffffff" stroke-width="0.35" stroke-opacity="0.35"/>
<rect x="220.6" y="276.7" width="5.9" height="18.2" fill="#b8282e" stroke="#ffffff" stroke-width="0.35" stroke-opacity="0.35"/>
<rect x="226.5" y="281.7" width="5.9" height="13.2" fill="#b8282e" stroke="#ffffff" stroke-width="0.35" stroke-opacity="0.35"/>
<rect x="232.4" y="289.2" width="5.9" height="5.7" fill="#b8282e" stroke="#ffffff" stroke-width="0.35" stroke-opacity="0.35"/>
<rect x="238.3" y="274.5" width="5.9" height="20.4" fill="#b8282e" stroke="#ffffff" stroke-width="0.35" stroke-opacity="0.35"/>
<rect x="244.2" y="276.7" width="5.9" height="18.2" fill="#b8282e" stroke="#ffffff" stroke-width="0.35" stroke-opacity="0.35"/>
<rect x="250.9" y="276.7" width="5.8" height="18.2" fill="#ec8f98" stroke="#ffffff" stroke-width="0.35" stroke-opacity="0.35"/>
<rect x="256.7" y="281.2" width="5.8" height="13.7" fill="#ec8f98" stroke="#ffffff" stroke-width="0.35" stroke-opacity="0.35"/>
<rect x="262.5" y="281.2" width="5.8" height="13.7" fill="#ec8f98" stroke="#ffffff" stroke-width="0.35" stroke-opacity="0.35"/>
<rect x="268.2" y="286.2" width="5.8" height="8.7" fill="#ec8f98" stroke="#ffffff" stroke-width="0.35" stroke-opacity="0.35"/>
<rect x="274" y="288.2" width="5.8" height="6.7" fill="#ec8f98" stroke="#ffffff" stroke-width="0.35" stroke-opacity="0.35"/>
<rect x="279.8" y="289.2" width="5.8" height="5.7" fill="#ec8f98" stroke="#ffffff" stroke-width="0.35" stroke-opacity="0.35"/>
<line x1="208.7" y1="294.9" x2="292.4" y2="294.9" stroke="#444" stroke-width="1.0" />
<text x="213.2" y="308.6" font-size="8" fill="#222">...</text>
<line x1="233.9" y1="301.6" x2="265.8" y2="301.6" stroke="#f04a4a" stroke-width="0.6" />
<line x1="233.9" y1="317.3" x2="265.8" y2="317.3" stroke="#f04a4a" stroke-width="0.6" />
<line x1="233.9" y1="301.6" x2="265.8" y2="317.3" stroke="#f04a4a" stroke-width="0.6" />
<line x1="233.9" y1="317.3" x2="265.8" y2="301.6" stroke="#f04a4a" stroke-width="0.6" />
<path d="M234.4 301.6 l2 -1 v2z M265.3 301.6 l-2 -1 v2z M234.4 317.3 l2 -1 v2z M265.3 317.3 l-2 -1 v2z" fill="#f04a4a"/>
<rect x="230.8" y="300" width="3.2" height="3.2" fill="#b8282e" stroke="none" stroke-width="1" />
<rect x="265.7" y="300" width="3.2" height="3.2" fill="#ec8f98" stroke="none" stroke-width="1" />
<rect x="230.8" y="315.7" width="3.2" height="3.2" fill="#b8282e" stroke="none" stroke-width="1" />
<rect x="265.7" y="315.7" width="3.2" height="3.2" fill="#ec8f98" stroke="none" stroke-width="1" />
<text x="259.8" y="311.9" font-size="5.8" fill="#1a1a1a" text-anchor="start" stroke="#1a1a1a" stroke-width="0.15" font-style="italic" textLength="21.6" lengthAdjust="spacingAndGlyphs" >LC-nGPS</text>
<text x="208.3" y="331.1" font-size="8.6" fill="#111" stroke="#111" stroke-width="0.25" textLength="13" lengthAdjust="spacingAndGlyphs">PC<tspan font-style="italic">k</tspan></text>
<rect x="214.4" y="339.8" width="5.8" height="6.3" fill="#b8282e" stroke="#ffffff" stroke-width="0.35" stroke-opacity="0.35"/>
<rect x="220.2" y="336.1" width="5.8" height="10" fill="#b8282e" stroke="#ffffff" stroke-width="0.35" stroke-opacity="0.35"/>
<rect x="225.9" y="323.6" width="5.8" height="22.5" fill="#b8282e" stroke="#ffffff" stroke-width="0.35" stroke-opacity="0.35"/>
<rect x="231.7" y="339.8" width="5.8" height="6.3" fill="#b8282e" stroke="#ffffff" stroke-width="0.35" stroke-opacity="0.35"/>
<rect x="237.4" y="341.8" width="5.8" height="4.3" fill="#b8282e" stroke="#ffffff" stroke-width="0.35" stroke-opacity="0.35"/>
<rect x="243.2" y="337.8" width="5.8" height="8.3" fill="#b8282e" stroke="#ffffff" stroke-width="0.35" stroke-opacity="0.35"/>
<rect x="250.4" y="341.1" width="5.7" height="5" fill="#ec8f98" stroke="#ffffff" stroke-width="0.35" stroke-opacity="0.35"/>
<rect x="256.1" y="340.6" width="5.7" height="5.5" fill="#ec8f98" stroke="#ffffff" stroke-width="0.35" stroke-opacity="0.35"/>
<rect x="261.9" y="335.3" width="5.7" height="10.8" fill="#ec8f98" stroke="#ffffff" stroke-width="0.35" stroke-opacity="0.35"/>
<rect x="267.6" y="340.3" width="5.7" height="5.8" fill="#ec8f98" stroke="#ffffff" stroke-width="0.35" stroke-opacity="0.35"/>
<rect x="273.3" y="341.8" width="5.7" height="4.3" fill="#ec8f98" stroke="#ffffff" stroke-width="0.35" stroke-opacity="0.35"/>
<rect x="279.1" y="341.8" width="5.7" height="4.3" fill="#ec8f98" stroke="#ffffff" stroke-width="0.35" stroke-opacity="0.35"/>
<line x1="208.7" y1="346.1" x2="292.4" y2="346.1" stroke="#444" stroke-width="1.0" />
<rect x="198.8" y="380.2" width="103.5" height="88" fill="#f2f4fa" stroke="#8c8c8c" stroke-width="1.4" />
<text x="257.3" y="389.3" font-size="8.2" fill="#8a8a8a" text-anchor="start" stroke="#8a8a8a" stroke-width="0.2" textLength="34.7" lengthAdjust="spacingAndGlyphs" >PCA space</text>
<text x="208.3" y="393.9" font-size="8.6" fill="#111" stroke="#111" stroke-width="0.25" textLength="13" lengthAdjust="spacingAndGlyphs">PC1</text>
<rect x="213" y="407.2" width="5.9" height="6" fill="#1b1b8c" stroke="#ffffff" stroke-width="0.35" stroke-opacity="0.35"/>
<rect x="218.9" y="408.9" width="5.9" height="4.3" fill="#1b1b8c" stroke="#ffffff" stroke-width="0.35" stroke-opacity="0.35"/>
<rect x="224.8" y="408.9" width="5.9" height="4.3" fill="#1b1b8c" stroke="#ffffff" stroke-width="0.35" stroke-opacity="0.35"/>
<rect x="230.7" y="408.9" width="5.9" height="4.3" fill="#1b1b8c" stroke="#ffffff" stroke-width="0.35" stroke-opacity="0.35"/>
<rect x="236.6" y="406.5" width="5.9" height="6.7" fill="#1b1b8c" stroke="#ffffff" stroke-width="0.35" stroke-opacity="0.35"/>
<rect x="242.5" y="402.4" width="5.9" height="10.8" fill="#1b1b8c" stroke="#ffffff" stroke-width="0.35" stroke-opacity="0.35"/>
<rect x="250.9" y="407.2" width="5.8" height="6" fill="#7eafd6" stroke="#ffffff" stroke-width="0.35" stroke-opacity="0.35"/>
<rect x="256.7" y="402.9" width="5.8" height="10.3" fill="#7eafd6" stroke="#ffffff" stroke-width="0.35" stroke-opacity="0.35"/>
<rect x="262.5" y="401.2" width="5.8" height="12" fill="#7eafd6" stroke="#ffffff" stroke-width="0.35" stroke-opacity="0.35"/>
<rect x="268.2" y="407.2" width="5.8" height="6" fill="#7eafd6" stroke="#ffffff" stroke-width="0.35" stroke-opacity="0.35"/>
<rect x="274" y="409.1" width="5.8" height="4.1" fill="#7eafd6" stroke="#ffffff" stroke-width="0.35" stroke-opacity="0.35"/>
<rect x="279.8" y="405.5" width="5.8" height="7.7" fill="#7eafd6" stroke="#ffffff" stroke-width="0.35" stroke-opacity="0.35"/>
<line x1="208.7" y1="413.2" x2="292.4" y2="413.2" stroke="#444" stroke-width="1.0" />
<text x="213.2" y="426.8" font-size="8" fill="#222">...</text>
<line x1="233.9" y1="420.5" x2="265.8" y2="420.5" stroke="#4a5ae8" stroke-width="0.6" />
<line x1="233.9" y1="435.9" x2="265.8" y2="435.9" stroke="#4a5ae8" stroke-width="0.6" />
<line x1="233.9" y1="420.5" x2="265.8" y2="435.9" stroke="#4a5ae8" stroke-width="0.6" />
<line x1="233.9" y1="435.9" x2="265.8" y2="420.5" stroke="#4a5ae8" stroke-width="0.6" />
<path d="M234.4 420.5 l2 -1 v2z M265.3 420.5 l-2 -1 v2z M234.4 435.9 l2 -1 v2z M265.3 435.9 l-2 -1 v2z" fill="#4a5ae8"/>
<rect x="230.8" y="418.9" width="3.2" height="3.2" fill="#3a3aa8" stroke="none" stroke-width="1" />
<rect x="265.7" y="418.9" width="3.2" height="3.2" fill="#7eafd6" stroke="none" stroke-width="1" />
<rect x="230.8" y="434.3" width="3.2" height="3.2" fill="#3a3aa8" stroke="none" stroke-width="1" />
<rect x="265.7" y="434.3" width="3.2" height="3.2" fill="#7eafd6" stroke="none" stroke-width="1" />
<text x="259.8" y="430.6" font-size="5.8" fill="#1a1a1a" text-anchor="start" stroke="#1a1a1a" stroke-width="0.15" font-style="italic" textLength="21.6" lengthAdjust="spacingAndGlyphs" >LC-nGPS</text>
<text x="208.3" y="449.4" font-size="8.6" fill="#111" stroke="#111" stroke-width="0.25" textLength="13" lengthAdjust="spacingAndGlyphs">PC<tspan font-style="italic">k</tspan></text>
<rect x="213" y="459.8" width="5.8" height="4.8" fill="#1b1b8c" stroke="#ffffff" stroke-width="0.35" stroke-opacity="0.35"/>
<rect x="218.8" y="459.8" width="5.8" height="4.8" fill="#1b1b8c" stroke="#ffffff" stroke-width="0.35" stroke-opacity="0.35"/>
<rect x="224.5" y="459.8" width="5.8" height="4.8" fill="#1b1b8c" stroke="#ffffff" stroke-width="0.35" stroke-opacity="0.35"/>
<rect x="230.2" y="457.9" width="5.8" height="6.7" fill="#1b1b8c" stroke="#ffffff" stroke-width="0.35" stroke-opacity="0.35"/>
<rect x="236" y="453.8" width="5.8" height="10.8" fill="#1b1b8c" stroke="#ffffff" stroke-width="0.35" stroke-opacity="0.35"/>
<rect x="241.8" y="444.6" width="5.8" height="20" fill="#1b1b8c" stroke="#ffffff" stroke-width="0.35" stroke-opacity="0.35"/>
<rect x="250.4" y="444.6" width="5.7" height="20" fill="#7eafd6" stroke="#ffffff" stroke-width="0.35" stroke-opacity="0.35"/>
<rect x="256.1" y="446.5" width="5.7" height="18.1" fill="#7eafd6" stroke="#ffffff" stroke-width="0.35" stroke-opacity="0.35"/>
<rect x="261.9" y="450.6" width="5.7" height="14" fill="#7eafd6" stroke="#ffffff" stroke-width="0.35" stroke-opacity="0.35"/>
<rect x="267.6" y="450.6" width="5.7" height="14" fill="#7eafd6" stroke="#ffffff" stroke-width="0.35" stroke-opacity="0.35"/>
<rect x="273.3" y="455.5" width="5.7" height="9.1" fill="#7eafd6" stroke="#ffffff" stroke-width="0.35" stroke-opacity="0.35"/>
<rect x="279.1" y="457.9" width="5.7" height="6.7" fill="#7eafd6" stroke="#ffffff" stroke-width="0.35" stroke-opacity="0.35"/>
<line x1="208.7" y1="464.6" x2="292.4" y2="464.6" stroke="#444" stroke-width="1.0" />
<line x1="251" y1="352.8" x2="251" y2="361.2" stroke="#333" stroke-width="0.8" />
<path d="M251 351.5 l-1.6 3 h3.2z" fill="#333"/>
<text x="249.8" y="368.4" font-size="8.2" fill="#1a1a1a" text-anchor="middle" stroke="#1a1a1a" stroke-width="0.2" font-style="italic" textLength="40" lengthAdjust="spacingAndGlyphs" >comparison</text>
<line x1="250.7" y1="369.8" x2="250.7" y2="376.5" stroke="#333" stroke-width="0.8" />
<path d="M250.7 378.6 l-1.6 -3 h3.2z" fill="#333"/>
<polygon points="381.4,149.9 395.6,152.4 409.7,153.7 423.9,149.9 438,149.4 452.2,147.9 466.4,143.7 480.5,144.2 494.7,146.9 508.8,148.7 523,146 537.2,149.2 551.3,148.6 565.5,151.3 579.6,150 593.8,150.5 608,152.6 622.1,163.2 636.3,165.3 650.4,163.2 664.6,160 664.6,188.2 650.4,192.2 636.3,192.7 622.1,191.7 608,182.4 593.8,178.5 579.6,178.5 565.5,179.8 551.3,175 537.2,174.5 523,171 508.8,172.4 494.7,168.6 480.5,166.1 466.4,166.1 452.2,169.9 438,171.1 423.9,171.1 409.7,176.1 395.6,177.2 381.4,173.6" fill="#b9c7f9"/>
<polygon points="381.4,110.7 395.6,111.2 409.7,117 423.9,113 438,112 452.2,108.2 466.4,108.7 480.5,113.7 494.7,115 508.8,116.2 523,119.8 537.2,114.3 551.3,106.4 565.5,104.6 579.6,106.4 593.8,98.5 608,93.7 622.1,100.3 636.3,101.9 650.4,99.3 664.6,110.9 664.6,141.2 650.4,128.3 636.3,134.6 622.1,131.5 608,124.4 593.8,127.5 579.6,134.9 565.5,133.3 551.3,136.8 537.2,141.2 523,145.5 508.8,143.7 494.7,142.4 480.5,141.2 466.4,137.4 452.2,138.7 438,141.2 423.9,142.4 409.7,144.9 395.6,140.2 381.4,139.4" fill="#de808e" fill-opacity="0.3"/>
<path d="M386.7 125.4L390.3 125.8M400.6 128L404.7 129.4M414.8 129.8L418.8 128.8M429.2 127.2L432.7 127.1M443.1 125.5L447.1 124.3M457.5 123L461.1 123.1M471.4 124.7L475.4 125.9M485.8 127.6L489.4 127.7M500 128.5L503.6 128.8M513.9 130.9L517.9 132.1M528 131.7L532.2 130.2M542 126.1L546.5 123.9M556.5 120.6L560.3 119.9M570.7 119.4L574.4 119.8M584.4 118.1L589 115.8M598.9 111.9L602.9 110.6M612.7 111.4L617.4 113.8M627.4 117L631 117.5M641.3 116.7L645.4 115.4M654.4 117.3L660.6 122.7" fill="none" stroke="#f01c1c" stroke-width="1.25"/>
<path d="M386.6 162L390.3 162.7M400.9 163.9L404.4 164.1M414.8 163L418.8 162M429.2 161.1L432.8 161.4M443.3 161.2L447 160.6M457.3 158.3L461.3 157M471.7 155.4L475.2 155.4M485.6 156.8L489.6 158M499.9 160.2L503.6 160.8M513.9 160.1L517.9 158.9M528 159.2L532.2 160.6M542.4 162L546 161.7M556.4 162.6L560.4 163.7M570.8 164.6L574.4 164.4M584.9 164L588.5 164M599 165L602.7 165.6M612.2 169.8L617.9 173.9M627.4 177.6L631 178M641.6 178L645.2 177.6M655.6 175.9L659.4 174.9" fill="none" stroke="#1c1cf0" stroke-width="1.25"/>
<line x1="395.6" y1="111.2" x2="395.6" y2="140.2" stroke="#f01c1c" stroke-width="0.9" />
<line x1="394" y1="111.2" x2="397.2" y2="111.2" stroke="#f01c1c" stroke-width="0.9" />
<line x1="394" y1="140.2" x2="397.2" y2="140.2" stroke="#f01c1c" stroke-width="0.9" />
<line x1="395.6" y1="152.4" x2="395.6" y2="177.2" stroke="#1c1cf0" stroke-width="0.9" />
<line x1="394" y1="152.4" x2="397.2" y2="152.4" stroke="#1c1cf0" stroke-width="0.9" />
<line x1="394" y1="177.2" x2="397.2" y2="177.2" stroke="#1c1cf0" stroke-width="0.9" />
<path d="M395.6 106.2L395.56 103.90M395.6 106.2L397.75 105.49M395.6 106.2L396.91 108.06M395.6 106.2L394.21 108.06M395.6 106.2L393.37 105.49" stroke="#1a1a1a" stroke-width="1.15" stroke-linecap="round" fill="none"/>
<line x1="551.3" y1="106.4" x2="551.3" y2="136.8" stroke="#f01c1c" stroke-width="0.9" />
<line x1="549.7" y1="106.4" x2="552.9" y2="106.4" stroke="#f01c1c" stroke-width="0.9" />
<line x1="549.7" y1="136.8" x2="552.9" y2="136.8" stroke="#f01c1c" stroke-width="0.9" />
<line x1="551.3" y1="148.6" x2="551.3" y2="175" stroke="#1c1cf0" stroke-width="0.9" />
<line x1="549.7" y1="148.6" x2="552.9" y2="148.6" stroke="#1c1cf0" stroke-width="0.9" />
<line x1="549.7" y1="175" x2="552.9" y2="175" stroke="#1c1cf0" stroke-width="0.9" />
<path d="M551.3 101.4L551.32 99.10M551.3 101.4L553.51 100.69M551.3 101.4L552.67 103.26M551.3 101.4L549.97 103.26M551.3 101.4L549.13 100.69" stroke="#1a1a1a" stroke-width="1.15" stroke-linecap="round" fill="none"/>
<line x1="565.5" y1="104.6" x2="565.5" y2="133.3" stroke="#f01c1c" stroke-width="0.9" />
<line x1="563.9" y1="104.6" x2="567.1" y2="104.6" stroke="#f01c1c" stroke-width="0.9" />
<line x1="563.9" y1="133.3" x2="567.1" y2="133.3" stroke="#f01c1c" stroke-width="0.9" />
<line x1="565.5" y1="151.3" x2="565.5" y2="179.8" stroke="#1c1cf0" stroke-width="0.9" />
<line x1="563.9" y1="151.3" x2="567.1" y2="151.3" stroke="#1c1cf0" stroke-width="0.9" />
<line x1="563.9" y1="179.8" x2="567.1" y2="179.8" stroke="#1c1cf0" stroke-width="0.9" />
<path d="M565.5 99.6L565.48 97.30M565.5 99.6L567.67 98.89M565.5 99.6L566.83 101.46M565.5 99.6L564.13 101.46M565.5 99.6L563.29 98.89" stroke="#1a1a1a" stroke-width="1.15" stroke-linecap="round" fill="none"/>
<line x1="579.6" y1="106.4" x2="579.6" y2="134.9" stroke="#f01c1c" stroke-width="0.9" />
<line x1="578" y1="106.4" x2="581.2" y2="106.4" stroke="#f01c1c" stroke-width="0.9" />
<line x1="578" y1="134.9" x2="581.2" y2="134.9" stroke="#f01c1c" stroke-width="0.9" />
<line x1="579.6" y1="150" x2="579.6" y2="178.5" stroke="#1c1cf0" stroke-width="0.9" />
<line x1="578" y1="150" x2="581.2" y2="150" stroke="#1c1cf0" stroke-width="0.9" />
<line x1="578" y1="178.5" x2="581.2" y2="178.5" stroke="#1c1cf0" stroke-width="0.9" />
<path d="M579.6 101.4L579.64 99.10M579.6 101.4L581.83 100.69M579.6 101.4L580.99 103.26M579.6 101.4L578.29 103.26M579.6 101.4L577.45 100.69" stroke="#1a1a1a" stroke-width="1.15" stroke-linecap="round" fill="none"/>
<line x1="593.8" y1="98.5" x2="593.8" y2="127.5" stroke="#f01c1c" stroke-width="0.9" />
<line x1="592.2" y1="98.5" x2="595.4" y2="98.5" stroke="#f01c1c" stroke-width="0.9" />
<line x1="592.2" y1="127.5" x2="595.4" y2="127.5" stroke="#f01c1c" stroke-width="0.9" />
<line x1="593.8" y1="150.5" x2="593.8" y2="178.5" stroke="#1c1cf0" stroke-width="0.9" />
<line x1="592.2" y1="150.5" x2="595.4" y2="150.5" stroke="#1c1cf0" stroke-width="0.9" />
<line x1="592.2" y1="178.5" x2="595.4" y2="178.5" stroke="#1c1cf0" stroke-width="0.9" />
<path d="M593.8 93.5L593.80 91.20M593.8 93.5L595.99 92.79M593.8 93.5L595.15 95.36M593.8 93.5L592.45 95.36M593.8 93.5L591.61 92.79" stroke="#1a1a1a" stroke-width="1.15" stroke-linecap="round" fill="none"/>
<line x1="608" y1="93.7" x2="608" y2="124.4" stroke="#f01c1c" stroke-width="0.9" />
<line x1="606.4" y1="93.7" x2="609.6" y2="93.7" stroke="#f01c1c" stroke-width="0.9" />
<line x1="606.4" y1="124.4" x2="609.6" y2="124.4" stroke="#f01c1c" stroke-width="0.9" />
<line x1="608" y1="152.6" x2="608" y2="182.4" stroke="#1c1cf0" stroke-width="0.9" />
<line x1="606.4" y1="152.6" x2="609.6" y2="152.6" stroke="#1c1cf0" stroke-width="0.9" />
<line x1="606.4" y1="182.4" x2="609.6" y2="182.4" stroke="#1c1cf0" stroke-width="0.9" />
<path d="M608 88.7L607.96 86.40M608 88.7L610.15 87.99M608 88.7L609.31 90.56M608 88.7L606.61 90.56M608 88.7L605.77 87.99" stroke="#1a1a1a" stroke-width="1.15" stroke-linecap="round" fill="none"/>
<line x1="622.1" y1="100.3" x2="622.1" y2="131.5" stroke="#f01c1c" stroke-width="0.9" />
<line x1="620.5" y1="100.3" x2="623.7" y2="100.3" stroke="#f01c1c" stroke-width="0.9" />
<line x1="620.5" y1="131.5" x2="623.7" y2="131.5" stroke="#f01c1c" stroke-width="0.9" />
<line x1="622.1" y1="163.2" x2="622.1" y2="191.7" stroke="#1c1cf0" stroke-width="0.9" />
<line x1="620.5" y1="163.2" x2="623.7" y2="163.2" stroke="#1c1cf0" stroke-width="0.9" />
<line x1="620.5" y1="191.7" x2="623.7" y2="191.7" stroke="#1c1cf0" stroke-width="0.9" />
<path d="M622.1 95.3L622.12 93.00M622.1 95.3L624.31 94.59M622.1 95.3L623.47 97.16M622.1 95.3L620.77 97.16M622.1 95.3L619.93 94.59" stroke="#1a1a1a" stroke-width="1.15" stroke-linecap="round" fill="none"/>
<line x1="636.3" y1="101.9" x2="636.3" y2="134.6" stroke="#f01c1c" stroke-width="0.9" />
<line x1="634.7" y1="101.9" x2="637.9" y2="101.9" stroke="#f01c1c" stroke-width="0.9" />
<line x1="634.7" y1="134.6" x2="637.9" y2="134.6" stroke="#f01c1c" stroke-width="0.9" />
<line x1="636.3" y1="165.3" x2="636.3" y2="192.7" stroke="#1c1cf0" stroke-width="0.9" />
<line x1="634.7" y1="165.3" x2="637.9" y2="165.3" stroke="#1c1cf0" stroke-width="0.9" />
<line x1="634.7" y1="192.7" x2="637.9" y2="192.7" stroke="#1c1cf0" stroke-width="0.9" />
<path d="M636.3 96.9L636.28 94.60M636.3 96.9L638.47 96.19M636.3 96.9L637.63 98.76M636.3 96.9L634.93 98.76M636.3 96.9L634.09 96.19" stroke="#1a1a1a" stroke-width="1.15" stroke-linecap="round" fill="none"/>
<line x1="650.4" y1="99.3" x2="650.4" y2="128.3" stroke="#f01c1c" stroke-width="0.9" />
<line x1="648.8" y1="99.3" x2="652" y2="99.3" stroke="#f01c1c" stroke-width="0.9" />
<line x1="648.8" y1="128.3" x2="652" y2="128.3" stroke="#f01c1c" stroke-width="0.9" />
<line x1="650.4" y1="163.2" x2="650.4" y2="192.2" stroke="#1c1cf0" stroke-width="0.9" />
<line x1="648.8" y1="163.2" x2="652" y2="163.2" stroke="#1c1cf0" stroke-width="0.9" />
<line x1="648.8" y1="192.2" x2="652" y2="192.2" stroke="#1c1cf0" stroke-width="0.9" />
<path d="M650.4 94.3L650.44 92.00M650.4 94.3L652.63 93.59M650.4 94.3L651.79 96.16M650.4 94.3L649.09 96.16M650.4 94.3L648.25 93.59" stroke="#1a1a1a" stroke-width="1.15" stroke-linecap="round" fill="none"/>
<line x1="664.6" y1="110.9" x2="664.6" y2="141.2" stroke="#f01c1c" stroke-width="0.9" />
<line x1="663" y1="110.9" x2="666.2" y2="110.9" stroke="#f01c1c" stroke-width="0.9" />
<line x1="663" y1="141.2" x2="666.2" y2="141.2" stroke="#f01c1c" stroke-width="0.9" />
<line x1="664.6" y1="160" x2="664.6" y2="188.2" stroke="#1c1cf0" stroke-width="0.9" />
<line x1="663" y1="160" x2="666.2" y2="160" stroke="#1c1cf0" stroke-width="0.9" />
<line x1="663" y1="188.2" x2="666.2" y2="188.2" stroke="#1c1cf0" stroke-width="0.9" />
<path d="M664.6 105.9L664.60 103.60M664.6 105.9L666.79 105.19M664.6 105.9L665.95 107.76M664.6 105.9L663.25 107.76M664.6 105.9L662.41 105.19" stroke="#1a1a1a" stroke-width="1.15" stroke-linecap="round" fill="none"/>
<path d="M379.9 123.5h2.9v2.9h-2.9zM394.1 124.8h2.9v2.9h-2.9zM408.3 129.8h2.9v2.9h-2.9zM422.4 126h2.9v2.9h-2.9zM436.6 125.5h2.9v2.9h-2.9zM450.8 121.5h2.9v2.9h-2.9zM464.9 121.8h2.9v2.9h-2.9zM479.1 126h2.9v2.9h-2.9zM493.2 126.5h2.9v2.9h-2.9zM507.4 128h2.9v2.9h-2.9zM521.5 132.2h2.9v2.9h-2.9zM535.7 126.9h2.9v2.9h-2.9zM549.9 120.2h2.9v2.9h-2.9zM564 117.3h2.9v2.9h-2.9zM578.2 119h2.9v2.9h-2.9zM592.3 112h2.9v2.9h-2.9zM606.5 107.5h2.9v2.9h-2.9zM620.7 114.8h2.9v2.9h-2.9zM634.8 116.8h2.9v2.9h-2.9zM649 112.3h2.9v2.9h-2.9zM663.1 124.8h2.9v2.9h-2.9z" fill="#f01c1c"/>
<path d="M379.6 159.7h3.6l-1.8 3.0zM393.8 162.2h3.6l-1.8 3.0zM407.9 163h3.6l-1.8 3.0zM422.1 159.2h3.6l-1.8 3.0zM436.2 160.5h3.6l-1.8 3.0zM450.4 158.5h3.6l-1.8 3.0zM464.6 154h3.6l-1.8 3.0zM478.7 154h3.6l-1.8 3.0zM492.9 158h3.6l-1.8 3.0zM507 160.2h3.6l-1.8 3.0zM521.2 156h3.6l-1.8 3.0zM535.4 161h3.6l-1.8 3.0zM549.5 159.9h3.6l-1.8 3.0zM563.7 163.6h3.6l-1.8 3.0zM577.8 162.6h3.6l-1.8 3.0zM592 162.6h3.6l-1.8 3.0zM606.2 165.2h3.6l-1.8 3.0zM620.3 175.7h3.6l-1.8 3.0zM634.5 177.1h3.6l-1.8 3.0zM648.6 175.7h3.6l-1.8 3.0zM662.8 172.3h3.6l-1.8 3.0z" fill="#1c1cf0"/>
<line x1="367.6" y1="30.4" x2="367.6" y2="203.5" stroke="#333" stroke-width="1.0" />
<line x1="367.6" y1="203.5" x2="678.9" y2="203.5" stroke="#333" stroke-width="1.0" />
<line x1="364" y1="30.4" x2="367.6" y2="30.4" stroke="#333" stroke-width="1.0" />
<text x="361.3" y="34" font-size="10" fill="#111" text-anchor="end" >1.30</text>
<line x1="364" y1="47.8" x2="367.6" y2="47.8" stroke="#333" stroke-width="1.0" />
<text x="361.3" y="51.4" font-size="10" fill="#111" text-anchor="end" >1.10</text>
<line x1="364" y1="65.1" x2="367.6" y2="65.1" stroke="#333" stroke-width="1.0" />
<text x="361.3" y="68.7" font-size="10" fill="#111" text-anchor="end" >0.90</text>
<line x1="364" y1="82.5" x2="367.6" y2="82.5" stroke="#333" stroke-width="1.0" />
<text x="361.3" y="86.1" font-size="10" fill="#111" text-anchor="end" >0.70</text>
<line x1="364" y1="99.8" x2="367.6" y2="99.8" stroke="#333" stroke-width="1.0" />
<text x="361.3" y="103.4" font-size="10" fill="#111" text-anchor="end" >0.50</text>
<line x1="364" y1="117.2" x2="367.6" y2="117.2" stroke="#333" stroke-width="1.0" />
<text x="361.3" y="120.8" font-size="10" fill="#111" text-anchor="end" >0.30</text>
<line x1="364" y1="134.6" x2="367.6" y2="134.6" stroke="#333" stroke-width="1.0" />
<text x="361.3" y="138.2" font-size="10" fill="#111" text-anchor="end" >0.10</text>
<line x1="364" y1="151.9" x2="367.6" y2="151.9" stroke="#333" stroke-width="1.0" />
<text x="361.3" y="155.5" font-size="10" fill="#111" text-anchor="end" >-0.10</text>
<line x1="364" y1="169.3" x2="367.6" y2="169.3" stroke="#333" stroke-width="1.0" />
<text x="361.3" y="172.9" font-size="10" fill="#111" text-anchor="end" >-0.30</text>
<line x1="364" y1="186.6" x2="367.6" y2="186.6" stroke="#333" stroke-width="1.0" />
<text x="361.3" y="190.2" font-size="10" fill="#111" text-anchor="end" >-0.50</text>
<line x1="364" y1="204" x2="367.6" y2="204" stroke="#333" stroke-width="1.0" />
<text x="361.3" y="207.6" font-size="10" fill="#111" text-anchor="end" >-0.70</text>
<line x1="381.4" y1="203.5" x2="381.4" y2="208.5" stroke="#333" stroke-width="0.9" />
<text x="381.4" y="219.8" font-size="10" fill="#111" text-anchor="middle" >70</text>
<line x1="395.6" y1="203.5" x2="395.6" y2="206.5" stroke="#333" stroke-width="0.9" />
<line x1="409.7" y1="203.5" x2="409.7" y2="206.5" stroke="#333" stroke-width="0.9" />
<line x1="423.9" y1="203.5" x2="423.9" y2="206.5" stroke="#333" stroke-width="0.9" />
<line x1="438" y1="203.5" x2="438" y2="206.5" stroke="#333" stroke-width="0.9" />
<line x1="452.2" y1="203.5" x2="452.2" y2="208.5" stroke="#333" stroke-width="0.9" />
<text x="452.2" y="219.8" font-size="10" fill="#111" text-anchor="middle" >75</text>
<line x1="466.4" y1="203.5" x2="466.4" y2="206.5" stroke="#333" stroke-width="0.9" />
<line x1="480.5" y1="203.5" x2="480.5" y2="206.5" stroke="#333" stroke-width="0.9" />
<line x1="494.7" y1="203.5" x2="494.7" y2="206.5" stroke="#333" stroke-width="0.9" />
<line x1="508.8" y1="203.5" x2="508.8" y2="206.5" stroke="#333" stroke-width="0.9" />
<line x1="523" y1="203.5" x2="523" y2="208.5" stroke="#333" stroke-width="0.9" />
<text x="523" y="219.8" font-size="10" fill="#111" text-anchor="middle" >80</text>
<line x1="537.2" y1="203.5" x2="537.2" y2="206.5" stroke="#333" stroke-width="0.9" />
<line x1="551.3" y1="203.5" x2="551.3" y2="206.5" stroke="#333" stroke-width="0.9" />
<line x1="565.5" y1="203.5" x2="565.5" y2="206.5" stroke="#333" stroke-width="0.9" />
<line x1="579.6" y1="203.5" x2="579.6" y2="206.5" stroke="#333" stroke-width="0.9" />
<line x1="593.8" y1="203.5" x2="593.8" y2="208.5" stroke="#333" stroke-width="0.9" />
<text x="593.8" y="219.8" font-size="10" fill="#111" text-anchor="middle" >85</text>
<line x1="608" y1="203.5" x2="608" y2="206.5" stroke="#333" stroke-width="0.9" />
<line x1="622.1" y1="203.5" x2="622.1" y2="206.5" stroke="#333" stroke-width="0.9" />
<line x1="636.3" y1="203.5" x2="636.3" y2="206.5" stroke="#333" stroke-width="0.9" />
<line x1="650.4" y1="203.5" x2="650.4" y2="206.5" stroke="#333" stroke-width="0.9" />
<line x1="664.6" y1="203.5" x2="664.6" y2="208.5" stroke="#333" stroke-width="0.9" />
<text x="664.6" y="219.8" font-size="10" fill="#111" text-anchor="middle" >90</text>
<text x="521.7" y="231.2" font-size="9.8" fill="#111" text-anchor="middle" textLength="82" lengthAdjust="spacingAndGlyphs" >Explained variance</text>
<text transform="translate(332.6,118) rotate(-90)" font-size="10.2" fill="#111" text-anchor="middle" textLength="77" lengthAdjust="spacingAndGlyphs">Pattern Similarity</text>
<line x1="378" y1="33.2" x2="393" y2="33.2" stroke="#f01c1c" stroke-width="1.1" />
<rect x="384.1" y="32" width="2.4" height="2.4" fill="#f01c1c"/>
<text x="400" y="37" font-size="10.4" fill="#111" text-anchor="start" >HSC</text>
<line x1="378" y1="50.6" x2="393" y2="50.6" stroke="#1c1cf0" stroke-width="1.1" />
<path d="M383.8 49.3h3.2l-1.6 2.8z" fill="#1c1cf0"/>
<text x="400" y="54.4" font-size="10.4" fill="#111" text-anchor="start" >LSC</text>
<polygon points="380,381.2 394.4,389.9 408.8,395.4 423.2,396.2 437.6,394.9 452.1,398.1 466.5,396.9 480.9,399.4 495.3,399.4 509.7,399.9 524.1,398.4 538.5,399.7 552.9,397 567.3,394.3 581.7,406.5 596.1,405.9 610.6,402.4 625,397 639.4,389.7 653.8,390.8 668.2,393 668.2,422.2 653.8,422.2 639.4,422.7 625,428.1 610.6,437.6 596.1,442.4 581.7,444.3 567.3,438.9 552.9,438.9 538.5,437.6 524.1,433.5 509.7,436.1 495.3,435.3 480.9,435.3 466.5,431.8 452.1,431.1 437.6,428.6 423.2,432.3 408.8,431.1 394.4,426.1 380,416.1" fill="#b9c7f9"/>
<polygon points="380,355.5 394.4,355.5 408.8,355 423.2,352 437.6,346.7 452.1,347.5 466.5,348.2 480.9,347 495.3,351.2 509.7,355 524.1,356.5 538.5,356.5 552.9,355.1 567.3,353.8 581.7,352.4 596.1,352.4 610.6,359.2 625,361.9 639.4,365.9 653.8,370 668.2,373.5 668.2,403.8 653.8,398.4 639.4,397 625,395.7 610.6,391.6 596.1,387 581.7,389.5 567.3,390.8 552.9,392.4 538.5,394.3 524.1,393 509.7,391.9 495.3,387.4 480.9,383.2 466.5,386.2 452.1,384.4 437.6,384.4 423.2,389.4 408.8,393.7 394.4,394.5 380,393.7" fill="#de808e" fill-opacity="0.3"/>
<path d="M385.3 375.1L389.2 375.5M399.7 375.5L403.6 375.1M414 373.3L418.1 372.3M428.2 369.3L432.7 367.6M442.9 365.9L446.8 366M457.3 366.5L461.2 366.6M471.7 366.4L475.6 365.9M486 366.8L490.2 368M500.3 371.1L504.7 372.7M514.9 375.2L518.9 375.9M529.4 376.5L533.2 376.4M543.8 375.4L547.7 374.9M558.2 373.3L562.1 372.7M572.6 371.4L576.5 371M587 370.1L590.9 369.9M600.9 371.9L605.8 374.4M615.9 377L619.7 377.1M630.1 378.6L634.2 379.5M644.7 381.1L648.5 381.3M658.5 384L663.5 386.5" fill="none" stroke="#f01c1c" stroke-width="1.25"/>
<path d="M384.3 401L390.1 405M399.5 409.5L403.7 410.5M414.1 412.5L418 413M428.5 412.7L432.4 412M442.8 412.2L446.9 413M457.3 413.9L461.2 413.8M471.6 414.8L475.7 415.7M486.2 416.9L490 416.9M500.6 417.1L504.4 417.2M515 416.9L518.8 416.5M529.3 417.3L533.4 418.2M543.7 418.4L547.7 417.6M558 415.1L562.2 414.1M571.5 416L577.6 420.8M587 423.6L590.9 423.2M601.2 421.2L605.5 420.1M615.7 417.2L619.9 416M629.5 411.9L634.8 408.6M644.7 406.1L648.5 406.3M659.1 407L662.9 407.3" fill="none" stroke="#1c1cf0" stroke-width="1.25"/>
<line x1="408.8" y1="355" x2="408.8" y2="393.7" stroke="#f01c1c" stroke-width="0.9" />
<line x1="407.2" y1="355" x2="410.4" y2="355" stroke="#f01c1c" stroke-width="0.9" />
<line x1="407.2" y1="393.7" x2="410.4" y2="393.7" stroke="#f01c1c" stroke-width="0.9" />
<line x1="408.8" y1="395.4" x2="408.8" y2="431.1" stroke="#1c1cf0" stroke-width="0.9" />
<line x1="407.2" y1="395.4" x2="410.4" y2="395.4" stroke="#1c1cf0" stroke-width="0.9" />
<line x1="407.2" y1="431.1" x2="410.4" y2="431.1" stroke="#1c1cf0" stroke-width="0.9" />
<path d="M408.8 350L408.82 347.70M408.8 350L411.01 349.29M408.8 350L410.17 351.86M408.8 350L407.47 351.86M408.8 350L406.63 349.29" stroke="#1a1a1a" stroke-width="1.15" stroke-linecap="round" fill="none"/>
<line x1="423.2" y1="352" x2="423.2" y2="389.4" stroke="#f01c1c" stroke-width="0.9" />
<line x1="421.6" y1="352" x2="424.8" y2="352" stroke="#f01c1c" stroke-width="0.9" />
<line x1="421.6" y1="389.4" x2="424.8" y2="389.4" stroke="#f01c1c" stroke-width="0.9" />
<line x1="423.2" y1="396.2" x2="423.2" y2="432.3" stroke="#1c1cf0" stroke-width="0.9" />
<line x1="421.6" y1="396.2" x2="424.8" y2="396.2" stroke="#1c1cf0" stroke-width="0.9" />
<line x1="421.6" y1="432.3" x2="424.8" y2="432.3" stroke="#1c1cf0" stroke-width="0.9" />
<path d="M423.2 347L423.23 344.70M423.2 347L425.42 346.29M423.2 347L424.58 348.86M423.2 347L421.88 348.86M423.2 347L421.04 346.29" stroke="#1a1a1a" stroke-width="1.15" stroke-linecap="round" fill="none"/>
<line x1="437.6" y1="346.7" x2="437.6" y2="384.4" stroke="#f01c1c" stroke-width="0.9" />
<line x1="436" y1="346.7" x2="439.2" y2="346.7" stroke="#f01c1c" stroke-width="0.9" />
<line x1="436" y1="384.4" x2="439.2" y2="384.4" stroke="#f01c1c" stroke-width="0.9" />
<line x1="437.6" y1="394.9" x2="437.6" y2="428.6" stroke="#1c1cf0" stroke-width="0.9" />
<line x1="436" y1="394.9" x2="439.2" y2="394.9" stroke="#1c1cf0" stroke-width="0.9" />
<line x1="436" y1="428.6" x2="439.2" y2="428.6" stroke="#1c1cf0" stroke-width="0.9" />
<path d="M437.6 341.7L437.64 339.40M437.6 341.7L439.83 340.99M437.6 341.7L438.99 343.56M437.6 341.7L436.29 343.56M437.6 341.7L435.45 340.99" stroke="#1a1a1a" stroke-width="1.15" stroke-linecap="round" fill="none"/>
<line x1="452.1" y1="347.5" x2="452.1" y2="384.4" stroke="#f01c1c" stroke-width="0.9" />
<line x1="450.4" y1="347.5" x2="453.7" y2="347.5" stroke="#f01c1c" stroke-width="0.9" />
<line x1="450.4" y1="384.4" x2="453.7" y2="384.4" stroke="#f01c1c" stroke-width="0.9" />
<line x1="452.1" y1="398.1" x2="452.1" y2="431.1" stroke="#1c1cf0" stroke-width="0.9" />
<line x1="450.4" y1="398.1" x2="453.7" y2="398.1" stroke="#1c1cf0" stroke-width="0.9" />
<line x1="450.4" y1="431.1" x2="453.7" y2="431.1" stroke="#1c1cf0" stroke-width="0.9" />
<path d="M452.1 342.5L452.05 340.20M452.1 342.5L454.24 341.79M452.1 342.5L453.40 344.36M452.1 342.5L450.70 344.36M452.1 342.5L449.86 341.79" stroke="#1a1a1a" stroke-width="1.15" stroke-linecap="round" fill="none"/>
<line x1="466.5" y1="348.2" x2="466.5" y2="386.2" stroke="#f01c1c" stroke-width="0.9" />
<line x1="464.9" y1="348.2" x2="468.1" y2="348.2" stroke="#f01c1c" stroke-width="0.9" />
<line x1="464.9" y1="386.2" x2="468.1" y2="386.2" stroke="#f01c1c" stroke-width="0.9" />
<line x1="466.5" y1="396.9" x2="466.5" y2="431.8" stroke="#1c1cf0" stroke-width="0.9" />
<line x1="464.9" y1="396.9" x2="468.1" y2="396.9" stroke="#1c1cf0" stroke-width="0.9" />
<line x1="464.9" y1="431.8" x2="468.1" y2="431.8" stroke="#1c1cf0" stroke-width="0.9" />
<path d="M466.5 343.2L466.46 340.90M466.5 343.2L468.65 342.49M466.5 343.2L467.81 345.06M466.5 343.2L465.11 345.06M466.5 343.2L464.27 342.49" stroke="#1a1a1a" stroke-width="1.15" stroke-linecap="round" fill="none"/>
<line x1="480.9" y1="347" x2="480.9" y2="383.2" stroke="#f01c1c" stroke-width="0.9" />
<line x1="479.3" y1="347" x2="482.5" y2="347" stroke="#f01c1c" stroke-width="0.9" />
<line x1="479.3" y1="383.2" x2="482.5" y2="383.2" stroke="#f01c1c" stroke-width="0.9" />
<line x1="480.9" y1="399.4" x2="480.9" y2="435.3" stroke="#1c1cf0" stroke-width="0.9" />
<line x1="479.3" y1="399.4" x2="482.5" y2="399.4" stroke="#1c1cf0" stroke-width="0.9" />
<line x1="479.3" y1="435.3" x2="482.5" y2="435.3" stroke="#1c1cf0" stroke-width="0.9" />
<path d="M480.9 342L480.87 339.70M480.9 342L483.06 341.29M480.9 342L482.22 343.86M480.9 342L479.52 343.86M480.9 342L478.68 341.29" stroke="#1a1a1a" stroke-width="1.15" stroke-linecap="round" fill="none"/>
<line x1="495.3" y1="351.2" x2="495.3" y2="387.4" stroke="#f01c1c" stroke-width="0.9" />
<line x1="493.7" y1="351.2" x2="496.9" y2="351.2" stroke="#f01c1c" stroke-width="0.9" />
<line x1="493.7" y1="387.4" x2="496.9" y2="387.4" stroke="#f01c1c" stroke-width="0.9" />
<line x1="495.3" y1="399.4" x2="495.3" y2="435.3" stroke="#1c1cf0" stroke-width="0.9" />
<line x1="493.7" y1="399.4" x2="496.9" y2="399.4" stroke="#1c1cf0" stroke-width="0.9" />
<line x1="493.7" y1="435.3" x2="496.9" y2="435.3" stroke="#1c1cf0" stroke-width="0.9" />
<path d="M495.3 346.2L495.28 343.90M495.3 346.2L497.47 345.49M495.3 346.2L496.63 348.06M495.3 346.2L493.93 348.06M495.3 346.2L493.09 345.49" stroke="#1a1a1a" stroke-width="1.15" stroke-linecap="round" fill="none"/>
<line x1="581.7" y1="352.4" x2="581.7" y2="389.5" stroke="#f01c1c" stroke-width="0.9" />
<line x1="580.1" y1="352.4" x2="583.3" y2="352.4" stroke="#f01c1c" stroke-width="0.9" />
<line x1="580.1" y1="389.5" x2="583.3" y2="389.5" stroke="#f01c1c" stroke-width="0.9" />
<line x1="581.7" y1="406.5" x2="581.7" y2="444.3" stroke="#1c1cf0" stroke-width="0.9" />
<line x1="580.1" y1="406.5" x2="583.3" y2="406.5" stroke="#1c1cf0" stroke-width="0.9" />
<line x1="580.1" y1="444.3" x2="583.3" y2="444.3" stroke="#1c1cf0" stroke-width="0.9" />
<path d="M581.7 347.4L581.74 345.10M581.7 347.4L583.93 346.69M581.7 347.4L583.09 349.26M581.7 347.4L580.39 349.26M581.7 347.4L579.55 346.69" stroke="#1a1a1a" stroke-width="1.15" stroke-linecap="round" fill="none"/>
<line x1="596.1" y1="352.4" x2="596.1" y2="387" stroke="#f01c1c" stroke-width="0.9" />
<line x1="594.5" y1="352.4" x2="597.8" y2="352.4" stroke="#f01c1c" stroke-width="0.9" />
<line x1="594.5" y1="387" x2="597.8" y2="387" stroke="#f01c1c" stroke-width="0.9" />
<line x1="596.1" y1="405.9" x2="596.1" y2="442.4" stroke="#1c1cf0" stroke-width="0.9" />
<line x1="594.5" y1="405.9" x2="597.8" y2="405.9" stroke="#1c1cf0" stroke-width="0.9" />
<line x1="594.5" y1="442.4" x2="597.8" y2="442.4" stroke="#1c1cf0" stroke-width="0.9" />
<path d="M596.1 347.4L596.15 345.10M596.1 347.4L598.34 346.69M596.1 347.4L597.50 349.26M596.1 347.4L594.80 349.26M596.1 347.4L593.96 346.69" stroke="#1a1a1a" stroke-width="1.15" stroke-linecap="round" fill="none"/>
<path d="M378.6 372.9h2.9v2.9h-2.9zM393 374.8h2.9v2.9h-2.9zM407.4 372.9h2.9v2.9h-2.9zM421.8 369.8h2.9v2.9h-2.9zM436.2 364.2h2.9v2.9h-2.9zM450.6 364.8h2.9v2.9h-2.9zM465 365.4h2.9v2.9h-2.9zM479.4 363.9h2.9v2.9h-2.9zM493.8 367.9h2.9v2.9h-2.9zM508.2 372.9h2.9v2.9h-2.9zM522.6 375.2h2.9v2.9h-2.9zM537.1 374.8h2.9v2.9h-2.9zM551.5 372.7h2.9v2.9h-2.9zM565.9 370.4h2.9v2.9h-2.9zM580.3 369.1h2.9v2.9h-2.9zM594.7 368.1h2.9v2.9h-2.9zM609.1 375.4h2.9v2.9h-2.9zM623.5 375.9h2.9v2.9h-2.9zM637.9 379.4h2.9v2.9h-2.9zM652.3 380.2h2.9v2.9h-2.9zM666.8 387.4h2.9v2.9h-2.9z" fill="#f01c1c"/>
<path d="M378.2 396.5h3.6l-1.8 3.0zM392.6 406.7h3.6l-1.8 3.0zM407 410.5h3.6l-1.8 3.0zM421.4 412.2h3.6l-1.8 3.0zM435.8 409.7h3.6l-1.8 3.0zM450.2 412.7h3.6l-1.8 3.0zM464.7 412.2h3.6l-1.8 3.0zM479.1 415.5h3.6l-1.8 3.0zM493.5 415.5h3.6l-1.8 3.0zM507.9 416h3.6l-1.8 3.0zM522.3 414.6h3.6l-1.8 3.0zM536.7 418.1h3.6l-1.8 3.0zM551.1 415.1h3.6l-1.8 3.0zM565.5 411.3h3.6l-1.8 3.0zM579.9 422.7h3.6l-1.8 3.0zM594.4 421.3h3.6l-1.8 3.0zM608.8 417.2h3.6l-1.8 3.0zM623.2 413.2h3.6l-1.8 3.0zM637.6 404.5h3.6l-1.8 3.0zM652 405.1h3.6l-1.8 3.0zM666.4 406.4h3.6l-1.8 3.0z" fill="#1c1cf0"/>
<line x1="365.4" y1="271.9" x2="365.4" y2="449.9" stroke="#333" stroke-width="1.0" />
<line x1="365.4" y1="449.9" x2="682.8" y2="449.9" stroke="#333" stroke-width="1.0" />
<line x1="361.8" y1="271.9" x2="365.4" y2="271.9" stroke="#333" stroke-width="1.0" />
<text x="359.1" y="275.5" font-size="10" fill="#111" text-anchor="end" >0.16</text>
<line x1="361.8" y1="291.7" x2="365.4" y2="291.7" stroke="#333" stroke-width="1.0" />
<text x="359.1" y="295.3" font-size="10" fill="#111" text-anchor="end" >0.14</text>
<line x1="361.8" y1="311.4" x2="365.4" y2="311.4" stroke="#333" stroke-width="1.0" />
<text x="359.1" y="315" font-size="10" fill="#111" text-anchor="end" >0.12</text>
<line x1="361.8" y1="331.2" x2="365.4" y2="331.2" stroke="#333" stroke-width="1.0" />
<text x="359.1" y="334.8" font-size="10" fill="#111" text-anchor="end" >0.10</text>
<line x1="361.8" y1="351" x2="365.4" y2="351" stroke="#333" stroke-width="1.0" />
<text x="359.1" y="354.6" font-size="10" fill="#111" text-anchor="end" >0.08</text>
<line x1="361.8" y1="370.8" x2="365.4" y2="370.8" stroke="#333" stroke-width="1.0" />
<text x="359.1" y="374.4" font-size="10" fill="#111" text-anchor="end" >0.06</text>
<line x1="361.8" y1="390.5" x2="365.4" y2="390.5" stroke="#333" stroke-width="1.0" />
<text x="359.1" y="394.1" font-size="10" fill="#111" text-anchor="end" >0.04</text>
<line x1="361.8" y1="410.3" x2="365.4" y2="410.3" stroke="#333" stroke-width="1.0" />
<text x="359.1" y="413.9" font-size="10" fill="#111" text-anchor="end" >0.02</text>
<line x1="361.8" y1="430.1" x2="365.4" y2="430.1" stroke="#333" stroke-width="1.0" />
<text x="359.1" y="433.7" font-size="10" fill="#111" text-anchor="end" >0.00</text>
<line x1="361.8" y1="449.8" x2="365.4" y2="449.8" stroke="#333" stroke-width="1.0" />
<text x="359.1" y="453.4" font-size="10" fill="#111" text-anchor="end" >-0.02</text>
<line x1="380" y1="449.9" x2="380" y2="454.9" stroke="#333" stroke-width="0.9" />
<text x="380" y="465.8" font-size="10" fill="#111" text-anchor="middle" >70</text>
<line x1="394.4" y1="449.9" x2="394.4" y2="452.9" stroke="#333" stroke-width="0.9" />
<line x1="408.8" y1="449.9" x2="408.8" y2="452.9" stroke="#333" stroke-width="0.9" />
<line x1="423.2" y1="449.9" x2="423.2" y2="452.9" stroke="#333" stroke-width="0.9" />
<line x1="437.6" y1="449.9" x2="437.6" y2="452.9" stroke="#333" stroke-width="0.9" />
<line x1="452.1" y1="449.9" x2="452.1" y2="454.9" stroke="#333" stroke-width="0.9" />
<text x="452.1" y="465.8" font-size="10" fill="#111" text-anchor="middle" >75</text>
<line x1="466.5" y1="449.9" x2="466.5" y2="452.9" stroke="#333" stroke-width="0.9" />
<line x1="480.9" y1="449.9" x2="480.9" y2="452.9" stroke="#333" stroke-width="0.9" />
<line x1="495.3" y1="449.9" x2="495.3" y2="452.9" stroke="#333" stroke-width="0.9" />
<line x1="509.7" y1="449.9" x2="509.7" y2="452.9" stroke="#333" stroke-width="0.9" />
<line x1="524.1" y1="449.9" x2="524.1" y2="454.9" stroke="#333" stroke-width="0.9" />
<text x="524.1" y="465.8" font-size="10" fill="#111" text-anchor="middle" >80</text>
<line x1="538.5" y1="449.9" x2="538.5" y2="452.9" stroke="#333" stroke-width="0.9" />
<line x1="552.9" y1="449.9" x2="552.9" y2="452.9" stroke="#333" stroke-width="0.9" />
<line x1="567.3" y1="449.9" x2="567.3" y2="452.9" stroke="#333" stroke-width="0.9" />
<line x1="581.7" y1="449.9" x2="581.7" y2="452.9" stroke="#333" stroke-width="0.9" />
<line x1="596.1" y1="449.9" x2="596.1" y2="454.9" stroke="#333" stroke-width="0.9" />
<text x="596.1" y="465.8" font-size="10" fill="#111" text-anchor="middle" >85</text>
<line x1="610.6" y1="449.9" x2="610.6" y2="452.9" stroke="#333" stroke-width="0.9" />
<line x1="625" y1="449.9" x2="625" y2="452.9" stroke="#333" stroke-width="0.9" />
<line x1="639.4" y1="449.9" x2="639.4" y2="452.9" stroke="#333" stroke-width="0.9" />
<line x1="653.8" y1="449.9" x2="653.8" y2="452.9" stroke="#333" stroke-width="0.9" />
<line x1="668.2" y1="449.9" x2="668.2" y2="454.9" stroke="#333" stroke-width="0.9" />
<text x="668.2" y="465.8" font-size="10" fill="#111" text-anchor="middle" >90</text>
<text x="521.7" y="477.2" font-size="9.8" fill="#111" text-anchor="middle" textLength="82" lengthAdjust="spacingAndGlyphs" >Explained variance</text>
<text transform="translate(330.2,361.2) rotate(-90)" font-size="10.2" fill="#111" text-anchor="middle" textLength="77" lengthAdjust="spacingAndGlyphs">Pattern Similarity</text>
<line x1="378" y1="275.4" x2="393" y2="275.4" stroke="#f01c1c" stroke-width="1.1" />
<rect x="384.1" y="274.2" width="2.4" height="2.4" fill="#f01c1c"/>
<text x="400" y="279.2" font-size="10.4" fill="#111" text-anchor="start" >HSC</text>
<line x1="378" y1="292.9" x2="393" y2="292.9" stroke="#1c1cf0" stroke-width="1.1" />
<path d="M383.8 291.6h3.2l-1.6 2.8z" fill="#1c1cf0"/>
<text x="400" y="296.7" font-size="10.4" fill="#111" text-anchor="start" >LSC</text>
<rect x="609.3" y="15" width="67.2" height="64.4" fill="#fff" stroke="#a0a0a0" stroke-width="0.8" />
<line x1="607.7" y1="15" x2="609.3" y2="15" stroke="#555" stroke-width="0.6" />
<text x="606.7" y="16.8" font-size="5.0" fill="#222" text-anchor="end" >0.6</text>
<line x1="607.7" y1="47.4" x2="609.3" y2="47.4" stroke="#555" stroke-width="0.6" />
<text x="606.7" y="49.2" font-size="5.0" fill="#222" text-anchor="end" >0.0</text>
<line x1="607.7" y1="79.4" x2="609.3" y2="79.4" stroke="#555" stroke-width="0.6" />
<text x="606.7" y="81.2" font-size="5.0" fill="#222" text-anchor="end" >-0.6</text>
<line x1="628.2" y1="26.4" x2="628.2" y2="40.1" stroke="#555" stroke-width="0.6" />
<line x1="628.2" y1="49.3" x2="628.2" y2="55.5" stroke="#555" stroke-width="0.6" />
<line x1="623.5" y1="26.4" x2="632.9" y2="26.4" stroke="#555" stroke-width="0.6" />
<line x1="623.5" y1="55.5" x2="632.9" y2="55.5" stroke="#555" stroke-width="0.6" />
<rect x="618.8" y="40.1" width="18.8" height="9.2" fill="#f03a3a" stroke="#8a2020" stroke-width="0.6" />
<line x1="618.8" y1="44.3" x2="637.6" y2="44.3" stroke="#8a2020" stroke-width="0.6" />
<line x1="628.2" y1="79.4" x2="628.2" y2="81" stroke="#555" stroke-width="0.6" />
<text x="628.2" y="88.4" font-size="6.0" fill="#222" text-anchor="middle" textLength="12.5" lengthAdjust="spacingAndGlyphs" >HSC</text>
<line x1="657" y1="37.4" x2="657" y2="43.2" stroke="#555" stroke-width="0.6" />
<line x1="657" y1="49.5" x2="657" y2="68.2" stroke="#555" stroke-width="0.6" />
<line x1="652.3" y1="37.4" x2="661.7" y2="37.4" stroke="#555" stroke-width="0.6" />
<line x1="652.3" y1="68.2" x2="661.7" y2="68.2" stroke="#555" stroke-width="0.6" />
<rect x="647.6" y="43.2" width="18.8" height="6.3" fill="#3a3af0" stroke="#20208a" stroke-width="0.6" />
<line x1="647.6" y1="46.2" x2="666.4" y2="46.2" stroke="#20208a" stroke-width="0.6" />
<line x1="657" y1="79.4" x2="657" y2="81" stroke="#555" stroke-width="0.6" />
<text x="657" y="88.4" font-size="6.0" fill="#222" text-anchor="middle" textLength="12.5" lengthAdjust="spacingAndGlyphs" >LSC</text>
<path d="M642.6 21.4L642.60 19.90M642.6 21.4L644.03 20.94M642.6 21.4L643.48 22.61M642.6 21.4L641.72 22.61M642.6 21.4L641.17 20.94" stroke="#1a1a1a" stroke-width="0.7" stroke-linecap="round" fill="none"/>
<rect x="605.4" y="266.8" width="66.6" height="64.2" fill="#fff" stroke="#a0a0a0" stroke-width="0.8" />
<line x1="605.4" y1="266.8" x2="605.4" y2="331" stroke="#555" stroke-width="0.8" />
<line x1="605.4" y1="331" x2="672" y2="331" stroke="#555" stroke-width="0.8" />
<line x1="603.8" y1="266.8" x2="605.4" y2="266.8" stroke="#555" stroke-width="0.6" />
<text x="602.8" y="268.6" font-size="5.0" fill="#222" text-anchor="end" >3</text>
<line x1="603.8" y1="299" x2="605.4" y2="299" stroke="#555" stroke-width="0.6" />
<text x="602.8" y="300.8" font-size="5.0" fill="#222" text-anchor="end" >0</text>
<line x1="603.8" y1="331" x2="605.4" y2="331" stroke="#555" stroke-width="0.6" />
<text x="602.8" y="332.8" font-size="5.0" fill="#222" text-anchor="end" >-3</text>
<line x1="624.6" y1="276.3" x2="624.6" y2="290.9" stroke="#555" stroke-width="0.6" />
<line x1="624.6" y1="301.7" x2="624.6" y2="317.7" stroke="#555" stroke-width="0.6" />
<line x1="619.9" y1="276.3" x2="629.3" y2="276.3" stroke="#555" stroke-width="0.6" />
<line x1="619.9" y1="317.7" x2="629.3" y2="317.7" stroke="#555" stroke-width="0.6" />
<rect x="615.2" y="290.9" width="18.8" height="10.8" fill="#f03a3a" stroke="#8a2020" stroke-width="0.6" />
<line x1="615.2" y1="296.4" x2="634" y2="296.4" stroke="#8a2020" stroke-width="0.6" />
<line x1="624.6" y1="331" x2="624.6" y2="332.6" stroke="#555" stroke-width="0.6" />
<text x="624.6" y="339.6" font-size="6.0" fill="#222" text-anchor="middle" textLength="12.5" lengthAdjust="spacingAndGlyphs" >HSC</text>
<line x1="653.2" y1="283" x2="653.2" y2="295" stroke="#555" stroke-width="0.6" />
<line x1="653.2" y1="307.9" x2="653.2" y2="320.1" stroke="#555" stroke-width="0.6" />
<line x1="648.5" y1="283" x2="657.9" y2="283" stroke="#555" stroke-width="0.6" />
<line x1="648.5" y1="320.1" x2="657.9" y2="320.1" stroke="#555" stroke-width="0.6" />
<rect x="643.8" y="295" width="18.8" height="12.9" fill="#3a3af0" stroke="#20208a" stroke-width="0.6" />
<line x1="643.8" y1="302.3" x2="662.6" y2="302.3" stroke="#20208a" stroke-width="0.6" />
<line x1="653.2" y1="331" x2="653.2" y2="332.6" stroke="#555" stroke-width="0.6" />
<text x="653.2" y="339.6" font-size="6.0" fill="#222" text-anchor="middle" textLength="12.5" lengthAdjust="spacingAndGlyphs" >LSC</text>
<path d="M639 273.3L639.00 271.80M639 273.3L640.43 272.84M639 273.3L639.88 274.51M639 273.3L638.12 274.51M639 273.3L637.57 272.84" stroke="#1a1a1a" stroke-width="0.7" stroke-linecap="round" fill="none"/>
</svg></body></html>
